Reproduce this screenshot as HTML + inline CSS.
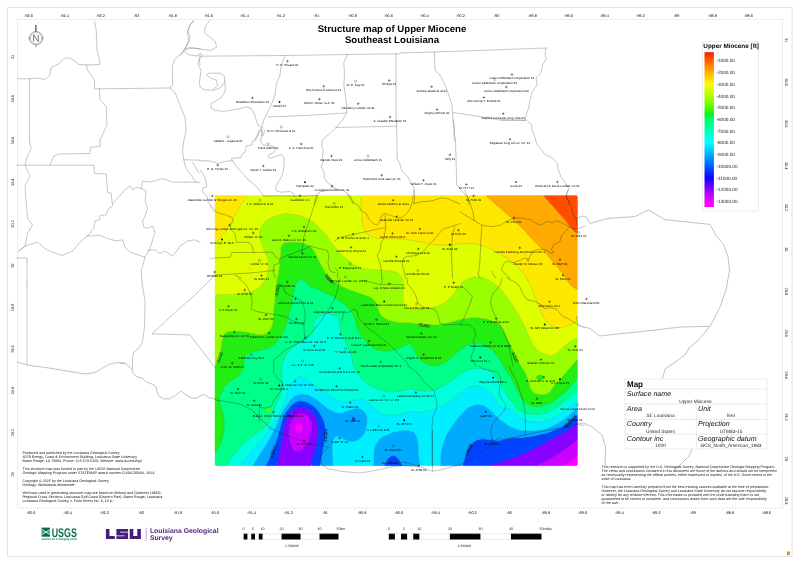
<!DOCTYPE html>
<html lang="en"><head><meta charset="utf-8"><title>Structure map of Upper Miocene - Southeast Louisiana</title>
<style>html,body{margin:0;padding:0;background:#fff}body{width:800px;height:565px;overflow:hidden}svg{display:block}text{font-family:"Liberation Sans",Arial,Helvetica,sans-serif;fill:#111;text-rendering:geometricPrecision}.tk{font-size:3.8px;fill:#111;text-anchor:middle}.wl{font-size:3.05px;fill:#000;text-anchor:middle}.pl{fill:none;stroke:#4a4a4a;stroke-width:.45;stroke-linejoin:round;stroke-linecap:round}.sm{font-size:3.63px;fill:#111}.lg{font-size:4.7px;fill:#222}.th{font-size:7.15px;font-style:italic;fill:#111}.tv{font-size:4.8px;fill:#222;text-anchor:middle}.sb{font-size:3.6px;fill:#222;text-anchor:middle}</style></head><body>
<svg width="800" height="565" viewBox="0 0 800 565">
<rect x="7.5" y="7.5" width="784.5" height="549" fill="none" stroke="#e4e4e4" stroke-width="1"/>
<rect x="17.5" y="19.5" width="765" height="488.5" fill="none" stroke="#d0d0d0" stroke-width=".7" stroke-dasharray="1 1"/>
<g id="parish-under" class="pl" style="stroke:#808080">
<path d="M94.5 21.2L96.2 30L97 50L100 61.2L100 64.5L86.2 65L78.8 64.5L75 61.2L71.2 58.8L66.2 57.5L62.5 60L58.8 63.8L51.2 67.5L50 75L45 79.5L37.5 78L30 78.8L17.5 78.8"/>
<path d="M86.2 65L87.5 70L94.5 80L94.5 88.8L100 88.8L170 88"/>
<path d="M99.5 88.8L100 100L106.2 106.2L107 125L100 140L100 141"/>
<path d="M29.5 78.8L29.5 141"/>
<path d="M193.8 21.2L190 25L187.5 32.5L188.8 41.2L185 48.8L181.2 53.8L175 58.8L172.5 65L172.5 85L170 88L175 92.5L180 105L185 117.5L186.2 130L183.8 141"/>
<path d="M185 48.8L190 47.5L200 48.8"/>
<path d="M198.8 55L200 65"/>
<path d="M200 56.2L285 55.5L347.5 54.5L400 53.8"/>
<path d="M285 55.5L281.2 65L280 75L276.2 85L275 95L271.2 105L267.5 112.5L263.8 120L261.2 128.8L262.5 136.2L265 130"/>
<path d="M267.5 117L305 115.5L346.2 113"/>
<path d="M347.5 54.5L343.8 62.5L344.5 75L343.8 85L346.2 100L347 113L342.5 120L336.2 127.5"/>
<path d="M336.2 127.5L396.5 126.2"/>
<path d="M395.8 53.8L396.2 121.2"/>
<path d="M261.2 128.8L255 141"/>
<path d="M400 53L435 52L546.2 48"/>
<path d="M434.5 52L435 70L440 75L445 85L448.8 95L452 105L452.5 112.5L453.8 130L454.5 141"/>
<path d="M452.5 112.5L482.5 117L500 120L525 120.5"/>
<path d="M546.2 48L545 53.8L546.2 58.8L542.5 65L541.2 72.5L536.2 77.5L537 85L532.5 91.2L530 100L528.8 107.5L526.2 115L525 120.5"/>
<path d="M500 120L526.2 120L531.5 124.5L532.2 130.5L535.2 138L536.7 144L541.2 149.2L545 154.5L551.7 157.5L557 162.7L558.5 171L561.5 177.7L566 183.7L569 189L566 195L567.5 199.5L569 204"/>
<path d="M29.5 141L31.2 148.5L27.5 156L25 164.8L30 176L25 186L26.2 203.5L27.5 218.5L32.5 224.8L27.5 233.5L25 246L18.8 251"/>
<path d="M17 165.2L93.8 165.2L94.5 173.5L106.2 174L107.5 192.2L111.2 193.5L112.5 206L108.8 208.5L106.2 214.8L100 215.5L99.5 219.8L95 221L93.8 228.5L87.5 236"/>
<path d="M50 164.8L53.8 156L58.8 154L90 153.5L90.5 147.2L100 146.5L100 141"/>
<path d="M18.8 251L25 246L37.5 242.2L45 248.5L52.5 252.2L62.5 255.5L72.5 251L80 242.2L87.5 236"/>
<path d="M87.5 236L100 235.5L107.5 238.5L116.2 241L122.5 239.8L125 247.2L130 252.2L145 257.2"/>
<path d="M112.5 203.5L125 189.8L130 186L132.5 189.8L136.2 187.2L141.2 188.5"/>
<path d="M141.2 188.5L142.5 181L150 182.2L162.5 178.5L172.5 182.2L195 182.2L200 182.2"/>
<path d="M141.2 188.5L146.2 191L145 201L147.5 208.5L145 216L142.5 221L143.8 227.2L147.5 228.5L152.5 226L155 232.2L150 248.5L145 257.2L141.2 271L142 282"/>
<path d="M147.5 250.2L155 249.8L160 253.5L165 251L172.5 256L175 253.5L180 246L187.5 241L195 239.8L200 242.2"/>
<path d="M183.8 141L182.5 151L183.8 159.8L200 160.2"/>
<path d="M183.8 159.8L186.2 168.5L192.5 177.2L196.2 182.2"/>
<path d="M192.5 162.2L197.5 171L200 173.5"/>
<path d="M17 258L27 258L27 282"/>
<path d="M27 282L27 364.5"/>
<path d="M142 282L145 302L144.5 327L142.5 342L138.8 348.2L133.8 352L132.5 357L132.5 369.5"/>
<path d="M215 275L195 295L175 312.5L152 333.8L190 335L215 367.5"/>
<path d="M207.5 275.8L215 275L250 273L275 270.5"/>
<path d="M259.2 130L257 136L252.5 142L251.7 145L246.5 145.7L245 152.5L242 154L241.2 157.7L231.5 158.2L232.2 160.7"/>
<path d="M232.2 160.7L224 161.5L218 163.7L215 162.2L207.5 160.7L200 161"/>
<path d="M232.2 160.7L236 166L242 172.7L248 179.5L252.5 183.2L257 187L261.5 193L263.7 196L278 195.7L294.5 196L305 196L317 195.4"/>
<path d="M262.2 130L261.5 136L260.7 141.2L263 145L267.5 145.7L273.5 146.5L275.7 149.5L273.5 152.5L269 154.7L267.5 157L270.5 158.5L278 155.5L281.7 154.7L284 157.7L284 167.5L281.7 176.5L278 182.5L275.7 187L276.5 190.7L281 192.2L290 191.5L293.7 193.7L294.5 196.7"/>
<path d="M200 169.7L203 173.5L206 181L206.7 187L203 187.7L202.2 191.5L206.7 196L208.2 202L212 206.5L215 209.5"/>
<path d="M336.1 127.5L330 133.5L322.5 139.5L321.7 144.7L323.2 150L322.5 156L323.2 162L321 166.5L324 172.5L324.7 178.5L327.7 183L332.2 186L336 189L343.5 190.5L348 195L351.7 201L353.2 204"/>
<path d="M396.7 120L396.7 126.3L397.2 159L399.7 163.5L402 171L408 177L411 183L414 187.5L414.7 195L414 204"/>
<path d="M314.2 204L316.5 195L321 191.2L330 190.5L332.2 186"/>
<path d="M453.2 120L454.7 127.5L454.3 135L455.5 139.5L456.2 165L456.7 184.5L460 189L464.5 193.5L468.2 198L469 204"/>
<path d="M214.5 399.5L225 401.6L240 404L252 410L261 419L270 428L282 434L300 440L312 444.5L321 445.4L328.5 447.5L324 450.5L321 456.5L321.6 464L327 468.5L342 471.5L360 473L378 470L393 466.4L402 465.5L420 467"/>
<path d="M395 463.8L402.5 462L410 463.8L418.8 466.2L425 468.8L432.5 471.2L440 470L450 467.5L462.5 463.8L475 457.5L485 450L492.5 442.5L500 437.5"/>
<path d="M432.5 430L432.5 471.2"/>
<path d="M317.8 195.5L313.1 208.8L308.4 222.8L303.8 236.9L302.2 250.2L301.4 252.5"/>
<path d="M301.4 250.2L291.2 254.1L280.3 258L278.8 263.4L274.1 265L273.3 271.2L275.6 278"/>
<path d="M302.2 250.2L310 246.2L319.4 248.6L327.2 250.2L328.8 255.6L328 263.4L330.3 271.2L335 272.8"/>
<path d="M210 205.6L213.1 210.3L219.4 213.4L225.6 215L231.9 217.3L233.4 221.2L230.3 225.2L231.9 230.6L235 233.8L235.8 238.4L236.6 242.3L249.1 242.3L252.2 246.2L253.8 252.5L272.5 252.2L275.6 257.2L278.8 258.8"/>
<path d="M210 258.8L214.7 258L230.3 257.2L231.9 252.5L253.8 252.5"/>
<path d="M235 275.2L241.2 278"/>
<path d="M347.5 193.1L350.6 197L353.8 202.5L358.4 205.6L360.8 210.3L366.2 213.4L369.4 219.7L373.3 223.6L377.2 225.2L380.3 219.7L381.9 215L385 213.4L388.9 215L394.4 216.6L397.5 218.1L402.2 217.3L406.9 213.4L410 208.8L412.3 202.5L413.1 196.2L413.9 190"/>
<path d="M385 215L385.8 227.5L384.2 236.9L381.1 243.1L380.3 249.4L377.2 255.6L379.5 261.9L381.1 268.1L381.9 278"/>
<path d="M335 240.8L341.2 236.9L353 234.5L385 227.5"/>
<path d="M413.9 203.3L422.5 201.7L431.9 200.9L441.2 197.8L447.5 198.6L460 204.1"/>
<path d="M460 223.6L450.6 226.7L442.8 229.1L436.6 236.9L428.8 244.7L422.5 252.5L416.2 255.6L406.9 256.4L403 258.8L402.2 265L403.8 269.7L405.3 278"/>
<path d="M454.5 226.7L452.2 236.9L451.4 252.5L452.2 268.1L452.5 278"/>
<path d="M335 268.1L338.1 271.2L337.3 278"/>
<path d="M464.7 190L467 196.2L470.9 205.6L473.3 213.4L474.1 220.5"/>
<path d="M460 211.9L467.8 216.6L474.1 220.5"/>
<path d="M474.1 220.5L481.9 225.2L491.2 226.7L500.6 225.2L506.9 221.2L513.9 218.1L522.5 218.1L530.3 219.7L536.6 223.6L541.2 225.2L547.5 221.2L552.2 222.8L556.9 220.5L563.1 223.6L569.4 226.7L575.6 229.1L578.8 228.3L585 225.9"/>
<path d="M569.4 226.7L566.2 230.6L561.6 235.3L560 241.6L553.8 244.7L551.4 249.4L553.8 252.5L550.6 253.3L545.2 249.4L538.1 249.4L533.4 250.9L528.8 258.8L524.1 258L520.2 260.3L513.1 262.7L506.9 261.1L503.8 263.4L501.4 269.7L505.3 274.4L510 278"/>
<path d="M481.9 225.2L481.1 236.9L480.3 252.5L479.5 268.1L478 274.4L480.3 278"/>
<path d="M567.8 190L566.2 196.2L569.4 201.7L571.7 207.2L572.5 213.4L576.4 219.7L577.2 225.9"/>
<path d="M492 271.2L493.6 275.2L495.9 278"/>
<path d="M238.1 278L245.9 284.2L250.6 293.6L252.2 301.4L251.4 309.2L256.9 311.6L266.2 313.2L275.6 314.7L285 316.3L291.2 320.2L297.5 322.5L303.8 324.9L304.5 337.4L303.8 340.5"/>
<path d="M278.8 284.2L283.4 285.8L285 292.1L289.7 295.2L297.5 298.3L302.2 301.4L304.5 309.2L305.3 315.5L303.8 324.9"/>
<path d="M335 298.3L328.8 309.2L319.4 323.3L310 334.2L303.8 340.5L297.5 343.6L291.2 346.8L283.4 351.4L278.8 356.1L274.1 359.2L273.3 366"/>
<path d="M325.6 278L330.3 281.1L335 284.2"/>
<path d="M361.6 280.3L366.2 281.1L372.5 282.7L380.3 284.6L381.9 282.7L381.9 278"/>
<path d="M380.3 284.6L389.7 284.2L403.8 285"/>
<path d="M406.9 278L407.7 284.2L413.1 290.5L416.2 296.8L417.8 303L422.5 306.9L428.8 308.5L435 309.2L438.1 315.5L439.7 322.5L444.4 324.9L460 324.1"/>
<path d="M353.8 309.2L356.9 310.8L358.4 317.1L363.1 323.3L367.8 328L374.1 331.9L380.3 337.4L386.6 342.1L392.8 347.5L397.5 353L402.2 357.7L406.9 362.4L408.4 366"/>
<path d="M335 298.3L338.1 287.4L339.7 278"/>
<path d="M342 320.2L343.6 313.2L350.6 311.6L353.8 309.2"/>
<path d="M463.9 287.4L472.5 296.8L467.8 309.2L463.1 320.2L460 324.9"/>
<path d="M502.2 278L499.8 285.8L492.8 293.6L490.5 301.4L492 309.2L495.9 317.1L499.1 323.3L503 329.6L505.3 335.8L508.4 343.6L510 351.4L511.6 359.2L513.1 366"/>
<path d="M506.9 278L513.1 281.1L517.8 284.2L520.2 287.4L522.5 293.6L527.2 299.9L535 301.4L541.2 304.6L544.4 308.5L550.6 307.7L556.9 309.2L561.6 315.5L567.8 318.6L575.6 323.3L585 328"/>
<path d="M460 324.9L469.4 324.9L474.8 329.6L475.6 335.8L473.3 340.5L474.8 346.8L472.5 353L470.9 357.7L474.1 362.4L475.6 366"/>
<path d="M274.1 366L273.3 372.2L277.2 378.5L282.7 382.4L281.9 389.4L277.2 395.7L274.1 400.4L270.9 406.6L265.5 408.2L260 407.4L259.2 404.3"/>
<path d="M259.2 404.3L259.2 422.2"/>
<path d="M408.4 366L414.7 370.7L420.2 376.2L424.1 381.6L428.8 386.3L434.2 391L435.8 397.2L437.3 405.1L435 412.9L432.7 417.6L431.9 428.5L432.2 454L432.2 466"/>
<path d="M478.8 366L483.4 369.1L491.2 370.7L497.5 372.2L500.6 378.5L499.8 386.3L499.1 394.1L502.2 400.4L506.1 405.1L503.8 411.3L497.5 417.6L492.8 423.8L490.5 431.6L492 439.4"/>
<path d="M509.2 366L511.6 372.2L516.2 380.1L519.4 389.4L522.5 398.8L524.8 408.2L525.3 420.7L525.6 434.8"/>
<path d="M500 440.1L511.6 437.9L525.6 434.8L541.2 431.6L556.9 428.5L569.4 426.2L577.2 424.6L585 425.4"/>
<path d="M193.3 20.5L190 25L187.7 30.5L190 37.1L187.7 43.8L184.4 49.3L182.2 53.7L180 54.8"/>
<path d="M209.9 20.5L205.5 26.1L204.4 32.7L209.9 37.1L215.4 41.6L216.5 47.1L211 50.4L202.1 49.3L193.3 48.2L186.6 49.3L184.4 51.5L188.9 54.8L196.6 56L201 53.7L202.1 56L198.8 60.4L197.7 63.7L201 70.3L199.5 81.4L199.9 87L204.4 89.8L213.2 90.3L221 87.6L224.9 81.4L224.3 75.9L219.8 73.2L208.8 73.2L206.6 75.2L209.9 77.7L216.5 80.3L217.6 85.8L213.2 89.2"/>
<path d="M224.9 81.4L225.4 90.3L222.1 96.9L215.4 101.3L211 103.6L211 108L215.4 110.6L224.3 111.3L237.6 109.1L246.4 106.9L250.8 108L254.2 113.5L256.4 120.2L258.6 125.7L263 127.9"/>
</g>
<g id="coast-under" class="pl" style="stroke:#a8a8a8;stroke-width:.7">
<path d="M576.5 218.4L582.5 216L587 217.5L590 223.5L608 218.4L635 216.6L648.5 210L665 219.6L710 224.4L716 235.5L723.5 244.5L728 256.5L729.5 270L726.5 288L720.5 306L713 321L707 330L698 340.5L689 348"/>
<path d="M576.5 316.5L578 325.5L590 328.5L599 336L656 330L680 327L708.5 326.4"/>
<path d="M689 348L686 354L674 363L665 369L662.6 378.6"/>
<path d="M692 449.4L689 456L680 465L674 471"/>
<path d="M576.5 423.6L584 423L593 427.5L602 435L605.6 447L605 465"/>
<path d="M120 363.2L125.2 363.2L132 369.2L132.7 372.2L136.5 376.7L142.5 378.2L146.2 382L152.2 384.2L156 386.5L156.7 391L159 396.2L163.5 398.8L169.5 398.8L175.5 395.5L180.7 391L186 394.7L192 398.2L196.5 398.2L201.7 395.2L204.7 394.7L209.2 397.7L215.2 398.8"/>
<path d="M17 362L27 365L50 368.2L70 371.5L85 374L95 372.5L102.5 368.2L110 364L117.5 362.5L125 363.2"/>
</g>
<g id="field" opacity="1">
<path d="M298.1 423.4L299.1 423L301 423.7L301.9 424.7L302.5 425.7L302.8 426.7L302.9 428.7L302.7 429.7L302.2 430.7L301.6 431.7L300.5 432.7L299.1 433.2L298.1 433L297.1 432.2L296.1 430.8L295.6 429.7L295.4 428.7L295.6 426.7L296 425.7L296.7 424.7L297.7 423.7ZM576.5 457.2L577.5 456.7L577.5 458.7L577.5 460.7L577.5 462.7L577.5 464.7L576.5 465.7L574.5 465.7L572.5 465.7L570.5 465.7L568.5 465.7L566.5 465.7L564.5 465.7L564.7 464.7L565.5 464.2L566.3 463.7L567.5 463L568.5 462.3L569.5 461.7L570.5 461.1L571.5 460.5L572.5 459.8L573.5 459.1L574.5 458.5L575.5 457.8Z" fill="#FF00FF" stroke="#FF00FF" stroke-width=".4" fill-rule="evenodd"/>
<path d="M299.1 413.6L300.1 413.4L302.1 413.5L303.1 413.7L304.1 414.1L305.1 414.6L306.1 415.2L307.1 416.1L307.7 416.7L308.7 417.7L309.5 418.7L310.1 419.4L311 420.7L311.5 421.7L311.8 422.7L312 424.7L311.9 426.7L311.8 428.7L311.7 430.7L311.3 432.7L311 433.7L310.7 434.7L310.4 435.7L310 436.7L309.7 437.7L309.3 438.7L309 439.7L308.5 440.7L308.1 441.6L307.6 442.7L306.9 443.7L306.2 444.7L305.4 445.7L304.7 446.7L304.1 447.4L303.1 448.7L302.2 449.7L301.1 450.5L300.1 451.1L299.1 451.5L298.1 451.9L297.1 452.1L295.6 451.7L294.6 450.7L293.8 449.7L293.1 448.9L292.3 447.7L291.7 446.7L291.2 445.7L290.8 444.7L290.5 443.7L290.2 442.7L290 441.7L289.7 440.7L289.5 439.7L289.2 438.7L289 437.7L288.7 435.7L288.7 433.7L288.8 431.7L288.9 429.7L289 427.7L289.4 425.7L289.7 424.7L290 423.7L290.4 422.7L290.9 421.7L291.4 420.7L291.9 419.7L292.5 418.7L293.1 417.8L294 416.7L295 415.7L296.1 415L297.1 414.5L298.1 414ZM297.7 423.7L296.7 424.7L296.1 425.5L295.6 426.7L295.4 427.7L295.6 429.7L296 430.7L296.7 431.7L297.7 432.7L299.1 433.2L300.1 433L301.1 432.2L302.1 430.9L302.7 429.7L302.9 428.7L302.8 426.7L302.5 425.7L301.9 424.7L301.1 423.8L300.1 423.2L298.1 423.4ZM577.5 439.5L577.5 441.7L577.5 443.7L577.5 445.7L577.5 447.7L577.5 449.7L577.5 451.7L577.5 453.7L577.5 455.7L576.5 457.2L575.7 457.7L574.5 458.5L573.5 459.1L572.6 459.7L571.5 460.5L570.5 461.1L569.5 461.7L568.5 462.3L567.5 463L566.5 463.6L565.5 464.2L564.7 464.7L563.7 465.7L562.5 465.7L560.5 465.7L558.5 465.7L556.5 465.7L554.5 465.7L552.5 465.7L550.5 465.7L548.5 465.7L546.5 465.7L544.5 465.7L542.5 465.7L540.4 465.7L538.4 465.7L536.4 465.7L537.4 465L538.4 464.4L539.4 463.9L540.4 463.5L541.5 463L542.5 462.6L543.5 462.1L544.4 461.7L545.5 461.2L546.5 460.8L547.5 460.3L548.5 459.7L549.5 459.2L550.3 458.7L551.5 458L552.5 457.4L553.5 456.8L554.5 456.2L555.3 455.7L556.5 455L557.5 454.4L558.5 453.8L559.5 453.1L560.5 452.5L561.5 451.8L562.5 451L563.5 450.3L564.3 449.7L565.5 448.8L566.5 448.1L567.5 447.3L568.3 446.7L569.5 445.8L570.5 445L571.5 444.2L572.5 443.4L573.3 442.7L574.5 441.7L575.5 440.9L576.5 440.1Z" fill="#CC00FF" stroke="#CC00FF" stroke-width=".4" fill-rule="evenodd"/>
<path d="M298.1 407.4L299.1 407.1L301.1 407L303.1 407.3L304.1 407.6L305.1 407.9L306.1 408.3L307.1 408.8L308.1 409.4L309.1 410L310.1 410.7L311.1 411.4L312.1 412.4L313.1 413.6L313.9 414.7L314.6 415.7L315.1 416.6L315.7 417.7L316.1 418.6L316.5 419.7L316.9 420.7L317.1 421.7L317.4 422.7L317.6 423.7L317.8 424.7L318 425.7L318.3 427.7L318.5 429.7L318.5 431.7L318.4 433.7L318.2 435.7L317.8 437.7L317.4 439.7L317.1 441.1L316.8 442.7L316.6 443.7L316.4 444.7L316.2 445.7L315.9 446.7L315.6 447.7L315.3 448.7L315 449.7L314.7 450.7L314.4 451.7L314.1 452.7L313.8 453.7L313.5 454.7L313.3 455.7L313 456.7L312.8 457.7L312.6 458.7L312.4 459.7L312.2 460.7L311.9 461.7L311.7 462.7L311.5 463.7L311.3 464.7L311.1 465.7L309.1 465.7L307.1 465.7L305.1 465.7L303.1 465.7L301.1 465.7L299.1 465.7L297.1 465.7L295.1 465.7L293.1 465.7L291.1 465.7L289.1 465.7L287.1 465.7L285.1 465.7L283.1 465.7L281.1 465.7L279.1 465.7L277.2 465.7L277.4 463.7L277.7 461.7L278.1 459.7L278.4 457.7L278.8 455.7L279.1 454L279.4 452.7L279.7 450.7L280.1 448.9L280.3 447.7L280.5 446.7L280.7 445.7L281.1 443.9L281.4 442.7L281.6 441.7L281.9 439.7L282.3 437.7L282.7 435.7L283.1 433.8L283.3 432.7L283.5 431.7L283.9 429.7L284.3 427.7L284.7 425.7L284.9 424.7L285.1 423.7L285.4 422.7L285.7 421.7L286 420.7L286.4 419.7L286.8 418.7L287.3 417.7L287.8 416.7L288.3 415.7L288.8 414.7L289.4 413.7L290 412.7L290.9 411.7L292 410.7L293.1 409.9L294.1 409.3L295.1 408.7L296.1 408.2L297.1 407.7ZM298.9 413.7L297.1 414.5L296.1 415L295.1 415.6L294.1 416.5L293.2 417.7L292.5 418.7L291.9 419.7L291.4 420.7L290.9 421.7L290.4 422.7L290 423.7L289.7 424.7L289.4 425.7L289.2 426.7L289 428.7L288.9 430.7L288.8 432.7L288.7 434.7L288.8 436.7L289.1 438.3L289.5 439.7L289.7 440.7L290 441.7L290.2 442.7L290.5 443.7L290.8 444.7L291.2 445.7L291.7 446.7L292.3 447.7L293 448.7L293.8 449.7L294.6 450.7L295.1 451.4L296.1 452L298.1 451.9L299.1 451.5L300.1 451.1L301.1 450.5L302.1 449.7L303.1 448.7L303.9 447.7L304.7 446.7L305.4 445.7L306.1 444.8L306.9 443.7L307.6 442.7L308.1 441.7L308.5 440.7L309 439.7L309.3 438.7L309.7 437.7L310 436.7L310.4 435.7L310.7 434.7L311 433.7L311.3 432.7L311.5 431.7L311.8 429.7L311.9 427.7L311.9 425.7L311.9 423.7L311.5 421.7L311.1 420.8L310.3 419.7L309.5 418.7L308.7 417.7L307.7 416.7L307.1 416.1L306.1 415.2L305.3 414.7L304.1 414.1L303.1 413.7L302.1 413.5L300.1 413.4L299.1 413.6ZM576.5 424.2L577.5 423.7L577.5 425.7L577.5 427.7L577.5 429.7L577.5 431.7L577.5 433.7L577.5 435.7L577.5 437.7L577.5 439.5L576.5 440.1L575.7 440.7L574.5 441.7L573.5 442.5L572.5 443.4L571.5 444.2L570.5 445L569.6 445.7L568.5 446.6L567.5 447.3L566.5 448.1L565.6 448.7L564.5 449.6L563.5 450.3L562.5 451L561.6 451.7L560.5 452.5L559.5 453.1L558.6 453.7L557.5 454.4L556.5 455L555.5 455.6L554.5 456.2L553.6 456.7L552.5 457.4L551.5 458L550.5 458.6L549.5 459.2L548.6 459.7L547.5 460.3L546.6 460.7L545.5 461.2L544.5 461.7L543.5 462.1L542.5 462.6L541.5 463L540.4 463.5L539.4 463.9L538.4 464.4L537.4 465L536.4 465.7L534.4 465.7L532.4 465.7L530.4 465.7L528.4 465.7L526.4 465.7L524.4 465.7L522.4 465.7L520.4 465.7L518.4 465.7L516.4 465.7L514.4 465.7L512.4 465.7L510.4 465.7L508.4 465.7L506.4 465.7L504.4 465.7L502.4 465.7L500.4 465.7L498.4 465.7L496.4 465.7L494.4 465.7L492.4 465.7L490.4 465.7L489.2 465.7L490.4 465.1L491.4 464.6L492.4 464.3L493.4 464L494.4 463.7L495.4 463.4L496.4 463.1L497.4 462.8L498.4 462.4L499.4 462.1L500.4 461.8L501.4 461.5L502.4 461.2L503.4 460.9L504.4 460.6L505.4 460.3L506.4 460L507.4 459.7L508.4 459.4L509.4 459.1L510.4 458.7L511.4 458.4L512.4 458L513.4 457.6L514.4 457.2L515.4 456.8L516.4 456.4L517.4 456L518.4 455.6L519.4 455.2L520.4 454.8L521.4 454.4L522.4 453.9L523.4 453.5L524.4 453.1L525.3 452.7L526.4 452.2L527.4 451.7L528.4 451.2L529.4 450.8L530.4 450.3L531.4 449.9L532.4 449.4L533.4 449L534.4 448.5L535.4 448L536.4 447.5L537.4 446.9L538.4 446.4L539.4 445.8L540.4 445.3L541.5 444.7L542.5 444.2L543.3 443.7L544.5 443L545.5 442.5L546.5 441.9L547.5 441.4L548.5 440.8L549.5 440.3L550.5 439.8L551.5 439.3L552.5 438.7L553.5 438.2L554.5 437.7L555.5 437.2L556.4 436.7L557.5 436.1L558.3 435.7L559.5 435.1L560.5 434.5L561.5 433.9L562.5 433.3L563.4 432.7L564.5 432L565.5 431.4L566.5 430.7L567.5 430.1L568.5 429.5L569.5 428.8L570.5 428.2L571.2 427.7L572.5 426.8L573.5 426.2L574.2 425.7L575.5 424.8Z" fill="#8800FF" stroke="#8800FF" stroke-width=".4" fill-rule="evenodd"/>
<path d="M297.1 401.6L298.1 401.3L299.1 401.1L301.1 400.9L303.1 401.2L304.1 401.4L305.1 401.6L306.1 401.9L307.1 402.2L308.1 402.6L309.1 403.2L310 403.7L311.1 404.3L312.1 404.9L313.1 405.6L314.1 406.4L315.1 407.3L316.1 408.4L317.1 409.6L318.1 410.7L318.8 411.7L319.5 412.7L320.1 413.7L320.7 414.7L321.3 415.7L321.9 416.7L322.4 417.7L322.9 418.7L323.3 419.7L323.7 420.7L324 421.7L324.3 422.7L324.6 423.7L324.8 424.7L325.1 425.7L325.4 427.7L325.5 429.7L325.6 431.7L325.4 433.7L325.2 435.7L324.9 437.7L324.6 439.7L324.3 441.7L324.2 442.8L323.9 444.7L323.5 446.7L323.1 448.6L322.9 449.7L322.5 451.7L322.3 452.7L322 454.7L321.6 456.7L321.3 458.7L321 460.7L320.7 462.7L320.4 464.7L320.1 465.7L318.1 465.7L316.1 465.7L314.1 465.7L312.1 465.7L311.3 464.7L311.5 463.7L311.7 462.7L311.9 461.7L312.2 460.7L312.4 459.7L312.6 458.7L312.8 457.7L313 456.7L313.3 455.7L313.5 454.7L313.8 453.7L314.1 452.7L314.4 451.7L314.7 450.7L315 449.7L315.3 448.7L315.6 447.7L315.9 446.7L316.2 445.7L316.4 444.7L316.6 443.7L316.8 442.7L317 441.7L317.2 440.7L317.6 438.7L318 436.7L318.3 434.7L318.5 432.7L318.5 430.7L318.4 428.7L318.2 426.7L317.8 424.7L317.6 423.7L317.4 422.7L317.1 421.7L316.9 420.7L316.5 419.7L316.2 418.7L315.7 417.7L315.2 416.7L314.6 415.7L313.9 414.7L313.2 413.7L312.4 412.7L311.4 411.7L310.1 410.7L309.1 410L308.1 409.4L307.1 408.8L306.1 408.3L305.1 407.9L304.1 407.6L303.1 407.3L302.1 407.1L300.1 407L298.1 407.4L297.1 407.7L296.1 408.2L295.1 408.7L294.1 409.3L293.1 409.9L292.1 410.6L291.1 411.5L290.1 412.6L289.4 413.7L288.8 414.7L288.3 415.7L287.8 416.7L287.3 417.7L286.8 418.7L286.4 419.7L286 420.7L285.7 421.7L285.4 422.7L285.1 423.7L284.9 424.7L284.7 425.7L284.5 426.7L284.1 428.7L283.7 430.7L283.3 432.7L283.1 433.7L282.7 435.7L282.3 437.7L282.1 438.7L281.8 440.7L281.4 442.7L281.1 443.7L280.9 444.7L280.5 446.7L280.3 447.7L280.1 448.7L279.7 450.7L279.4 452.7L279.1 454L278.8 455.7L278.4 457.7L278.1 459.5L277.9 460.7L277.6 462.7L277.3 464.7L277.1 465.7L275.1 465.7L273.1 465.7L271.1 465.7L269.1 465.7L267.1 465.7L265.8 465.7L266.2 464.7L266.7 463.7L267.2 462.7L267.7 461.7L268.2 460.7L268.7 459.7L269.2 458.7L269.6 457.7L270.1 456.8L270.5 455.7L271 454.7L271.4 453.7L271.9 452.7L272.3 451.7L272.7 450.7L273.1 449.8L273.5 448.7L273.9 447.7L274.2 446.7L274.6 445.7L275 444.7L275.3 443.7L275.7 442.7L276.1 441.7L276.4 440.7L276.7 439.7L277.1 438.7L277.4 437.7L277.6 436.7L277.9 435.7L278.2 434.7L278.5 433.7L278.8 432.7L279 431.7L279.3 430.7L279.6 429.7L279.9 428.7L280.2 427.7L280.4 426.7L280.7 425.7L281 424.7L281.2 423.7L281.5 422.7L281.8 421.7L282.1 420.7L282.4 419.7L282.7 418.7L283 417.7L283.5 416.7L284 415.7L284.5 414.7L285.1 413.7L285.7 412.7L286.3 411.7L286.9 410.7L287.7 409.7L288.5 408.7L289.1 407.9L290.1 406.8L291 405.7L291.9 404.7L293 403.7L294.1 402.9L295.1 402.4L296.1 402ZM576.5 415.4L577.5 414.7L577.5 416.7L577.5 418.7L577.5 420.7L577.5 422.7L576.5 424.2L575.7 424.7L574.5 425.5L573.5 426.2L572.7 426.7L571.5 427.5L570.5 428.2L569.7 428.7L568.5 429.5L567.5 430.1L566.6 430.7L565.5 431.4L564.5 432L563.5 432.7L562.5 433.3L561.5 433.9L560.5 434.5L559.5 435.1L558.5 435.6L557.5 436.1L556.5 436.7L555.5 437.2L554.5 437.7L553.5 438.2L552.6 438.7L551.5 439.3L550.6 439.7L549.5 440.3L548.5 440.8L547.5 441.4L546.5 441.9L545.5 442.5L544.5 443L543.5 443.6L542.5 444.2L541.5 444.7L540.4 445.3L539.4 445.8L538.4 446.4L537.4 446.9L536.4 447.5L535.4 448L534.4 448.5L533.4 449L532.4 449.4L531.4 449.9L530.4 450.3L529.4 450.8L528.4 451.2L527.5 451.7L526.4 452.2L525.4 452.6L524.4 453.1L523.4 453.5L522.4 453.9L521.4 454.4L520.4 454.8L519.4 455.2L518.4 455.6L517.4 456L516.4 456.4L515.4 456.8L514.4 457.2L513.4 457.6L512.4 458L511.4 458.4L510.5 458.7L509.4 459.1L508.4 459.4L507.4 459.7L506.4 460L505.4 460.3L504.4 460.6L503.4 460.9L502.4 461.2L501.4 461.5L500.4 461.8L499.4 462.1L498.4 462.4L497.4 462.8L496.4 463.1L495.4 463.4L494.4 463.7L493.4 464L492.4 464.3L491.4 464.6L490.4 465.1L489.4 465.6L487.4 465.7L485.4 465.7L483.4 465.7L481.4 465.7L479.4 465.7L477.4 465.7L475.4 465.7L473.4 465.7L471.4 465.7L469.4 465.7L467.3 465.7L465.3 465.7L463.3 465.7L462.7 464.7L463 463.7L463.3 462.7L463.6 461.7L463.9 460.7L464.2 459.7L464.5 458.7L464.8 457.7L465.2 456.7L465.6 455.7L466 454.7L466.3 453.7L466.8 452.7L467.2 451.7L467.7 450.7L468.1 449.7L468.6 448.7L469.1 447.7L469.8 446.7L470.4 445.9L471.2 444.7L472 443.7L472.8 442.7L473.8 441.7L475.3 440.7L476.4 440.3L477.4 440L478.3 439.7L479.4 439.4L480.4 439.2L482.4 439L484.4 439.1L486.4 439.4L488.4 439.6L490.4 439.9L492.4 440.1L494.4 440.2L496.4 440.4L498.4 440.5L500.4 440.4L502.4 440.1L503.4 439.9L504.4 439.6L505.4 439.4L506.4 439.1L507.4 438.9L508.4 438.6L509.4 438.4L511.4 438.1L513.4 438L515.4 438L517.4 437.9L519.4 437.8L521.4 437.7L523.4 437.6L525.4 437.3L527.4 437L529.4 436.7L530.4 436.5L532.4 436.3L534.4 435.9L535.4 435.7L536.4 435.5L537.4 435.3L538.4 435.1L539.4 434.8L540.4 434.6L541.5 434.3L542.5 434.1L543.5 433.8L544.5 433.6L545.5 433.4L546.5 433.1L547.5 432.8L548.5 432.5L549.5 432.1L550.5 431.7L551.5 431.3L552.5 430.9L553.5 430.5L554.5 430.1L555.4 429.7L556.5 429.3L557.5 428.9L558.5 428.4L559.5 428L560.5 427.5L561.5 426.9L562.5 426.3L563.5 425.7L564.5 425L565.5 424.4L566.5 423.7L567.5 423.1L568.5 422.4L569.5 421.7L570.5 420.9L571.5 420.1L572.5 419.2L573.5 418.2L574.5 417.3L575.5 416.3L576.1 415.7ZM392.2 455.5L394.2 455.5L395.2 456L396.2 456.7L397.3 457.6L398.2 458.7L399 459.7L399.7 460.7L400.3 461.6L400.9 462.7L401.6 463.7L402.1 464.7L402.4 465.7L400.3 465.7L398.3 465.7L396.2 465.7L394.2 465.7L392.2 465.7L390.2 465.7L388.2 465.7L386.2 465.7L384.3 465.7L384.6 464.7L385 463.7L385.6 462.7L386.1 461.7L386.7 460.7L387.2 459.8L388.1 458.7L389.1 457.7L390.2 456.7L391.2 456Z" fill="#0044FF" stroke="#0044FF" stroke-width=".4" fill-rule="evenodd"/>
<path d="M299.1 394.5L300.1 394.3L302.1 394.2L304.1 394.4L305.6 394.7L307.1 395L308.1 395.3L309.1 395.6L310.1 396L311.1 396.5L312.1 397L313.1 397.5L314.1 398L315.1 398.6L316.1 399.2L317.1 399.9L318.1 400.7L319.1 401.5L320.1 402.4L321.1 403.2L322.1 404L322.9 404.7L324.1 405.7L325.2 406.6L326.2 407.4L327.2 408.2L327.9 408.7L329.2 409.5L330.2 410.1L331.2 410.6L332.2 411.1L333.2 411.6L334.2 412L335.2 412.4L336.2 412.7L337.2 412.9L339.2 413.3L341.2 413.1L342.2 412.9L343.2 412.5L344.2 412.1L345.2 411.8L346.2 411.4L347.2 411.1L348.2 410.7L349.2 410.4L350.2 410.1L351.2 409.8L352.2 409.5L353.2 409.2L354.2 409L355.2 408.7L357.2 408.5L359.2 408.7L360.2 408.9L361.2 409.3L362 409.7L363.2 410.4L364.2 411.4L365.2 412.7L365.8 413.7L366.3 414.7L366.7 415.7L366.9 416.7L367 418.7L367 420.7L366.9 422.7L366.7 424.7L366.4 426.7L366.1 427.7L365.9 428.7L365.7 429.7L365.4 430.7L365.1 431.7L364.7 432.7L364.2 433.6L363.5 434.7L362.6 435.7L361.7 436.7L360.7 437.7L359.7 438.7L358.4 439.7L357.2 440.3L356.2 440.7L355.2 441L354.2 441.3L353.2 441.5L351.2 441.6L349.2 441.3L348.2 440.9L347.2 440.5L346.2 440.1L345.2 439.7L344.2 439.3L343.2 438.8L342.2 438.2L341.3 437.7L340.2 437L339.2 436.5L338.2 436.3L336.2 436.7L335.2 437.3L334.2 438.3L333.5 439.7L333.2 440.7L333 441.7L332.6 443.7L332.4 445.7L332.4 447.7L332.5 449.7L332.5 451.7L332.6 453.7L332.7 455.7L332.7 457.7L332.7 459.7L332.7 461.7L332.7 463.7L332.7 465.7L331.2 465.7L329.2 465.7L327.2 465.7L325.2 465.7L323.1 465.7L321.1 465.7L320.4 464.7L320.7 462.7L321 460.7L321.1 459.5L321.4 457.7L321.8 455.7L322.1 453.7L322.5 451.7L322.9 449.7L323.1 448.6L323.5 446.7L323.9 444.7L324.2 442.8L324.3 441.7L324.6 439.7L324.9 437.7L325.2 435.9L325.3 434.7L325.5 432.7L325.6 430.7L325.5 428.7L325.2 426.7L324.8 424.7L324.6 423.7L324.3 422.7L324 421.7L323.7 420.7L323.3 419.7L322.9 418.7L322.4 417.7L321.9 416.7L321.3 415.7L320.7 414.7L320.1 413.7L319.5 412.7L318.8 411.7L318.1 410.8L317.2 409.7L316.4 408.7L315.5 407.7L314.5 406.7L313.2 405.7L312.1 404.9L311.1 404.3L310.1 403.7L309.1 403.2L308.2 402.7L307.1 402.2L306.1 401.9L305.1 401.6L304.1 401.4L303.1 401.2L301.1 400.9L299.1 401.1L298.1 401.3L297.1 401.6L296.1 402L295.1 402.4L294.1 402.9L293.1 403.6L292.1 404.5L291.1 405.6L290.2 406.7L289.3 407.7L288.5 408.7L287.7 409.7L287.1 410.4L286.3 411.7L285.7 412.7L285.1 413.7L284.5 414.7L284 415.7L283.5 416.7L283.1 417.5L282.7 418.7L282.4 419.7L282.1 420.7L281.8 421.7L281.5 422.7L281.2 423.7L281 424.7L280.7 425.7L280.4 426.7L280.2 427.7L279.9 428.7L279.6 429.7L279.3 430.7L279 431.7L278.8 432.7L278.5 433.7L278.2 434.7L277.9 435.7L277.6 436.7L277.4 437.7L277.1 438.7L276.7 439.7L276.4 440.7L276.1 441.6L275.7 442.7L275.3 443.7L275 444.7L274.6 445.7L274.2 446.7L273.9 447.7L273.5 448.7L273.1 449.7L272.7 450.7L272.3 451.7L271.9 452.7L271.4 453.7L271 454.7L270.5 455.7L270.1 456.7L269.6 457.7L269.2 458.7L268.7 459.7L268.2 460.7L267.7 461.7L267.2 462.7L266.7 463.7L266.2 464.7L265.8 465.7L264.1 465.7L262.1 465.7L260.1 465.7L258.1 465.7L256.1 465.7L254.1 465.7L252.8 465.7L253.2 464.7L253.8 463.7L254.4 462.7L255 461.7L255.7 460.7L256.3 459.7L256.9 458.7L257.6 457.7L258.1 457L258.9 455.7L259.6 454.7L260.3 453.7L261 452.7L261.6 451.7L262.2 450.7L262.9 449.7L263.5 448.7L264.1 447.8L264.8 446.7L265.4 445.7L266 444.7L266.6 443.7L267.1 442.9L267.8 441.7L268.4 440.7L269 439.7L269.6 438.7L270.1 437.9L270.8 436.7L271.3 435.7L271.8 434.7L272.3 433.7L272.8 432.7L273.3 431.7L273.8 430.7L274.3 429.7L274.8 428.7L275.3 427.7L275.8 426.7L276.3 425.7L276.7 424.7L277.1 423.7L277.5 422.7L277.9 421.7L278.3 420.7L278.7 419.7L279.1 418.7L279.6 417.7L280 416.7L280.5 415.7L281.1 414.7L281.7 413.7L282.3 412.7L282.9 411.7L283.4 410.7L283.9 409.7L284.5 408.7L285 407.7L285.6 406.7L286.1 405.9L287 404.7L287.7 403.7L288.4 402.7L289.1 401.8L290 400.7L290.8 399.7L291.7 398.7L292.7 397.7L294.1 396.7L295.1 396.1L296.1 395.7L297.1 395.2L298.1 394.8ZM473.4 405.5L474.4 405.2L475.4 405L477.4 404.8L479.4 404.9L481.4 405.3L482.4 405.5L483.4 405.8L484.4 406.1L485.4 406.5L486.4 407.1L487.1 407.7L488.3 408.7L489.4 409.6L490.4 410.5L491.4 411.4L492.4 412.3L493.4 413.2L494.4 414.2L495.4 415.2L496.4 416.2L497.4 417.2L498.4 418.1L499.4 419.1L500.1 419.7L501.4 420.7L502.4 421.4L503.4 422.1L504.2 422.7L505.4 423.5L506.4 424.2L507.4 424.9L508.4 425.6L509.4 426.2L510.2 426.7L511.4 427.3L512.3 427.7L513.4 428.1L514.4 428.5L515.4 428.8L516.4 429.2L517.4 429.6L518.4 429.9L519.4 430.2L520.4 430.4L522.4 430.7L524.4 430.8L526.4 430.8L528.4 430.9L530.4 430.9L532.4 430.9L534.4 430.8L536.4 430.6L538.4 430.3L540.4 430L542.5 429.8L544.5 429.4L545.5 429.2L546.5 428.9L547.5 428.4L548.5 428L549.5 427.6L550.5 427.1L551.4 426.7L552.5 426.2L553.5 425.7L554.5 425.3L555.5 424.8L556.5 424.3L557.5 423.8L558.5 423.2L559.2 422.7L560.5 421.8L561.5 421L562.5 420.2L563.2 419.7L564.5 418.7L565.5 417.9L566.5 417.2L567.5 416.4L568.4 415.7L569.5 414.8L570.5 413.9L571.5 413.1L572.5 412.2L573.5 411.4L574.3 410.7L575.5 409.7L576.5 408.9L577.5 408.3L577.5 409.7L577.5 411.7L577.5 413.7L576.5 415.4L575.5 416.3L574.5 417.3L573.5 418.2L572.5 419.2L571.5 420.1L570.8 420.7L569.5 421.7L568.5 422.4L567.5 423.1L566.5 423.7L565.5 424.4L564.5 425L563.5 425.7L562.5 426.3L561.5 426.9L560.5 427.5L559.5 428L558.5 428.4L557.5 428.9L556.5 429.3L555.5 429.7L554.5 430.1L553.5 430.5L552.5 430.9L551.5 431.3L550.5 431.7L549.5 432.1L548.5 432.5L547.5 432.8L546.5 433.1L545.5 433.4L544.5 433.6L543.5 433.8L542.5 434.1L541.5 434.3L540.4 434.6L539.4 434.8L538.4 435.1L537.4 435.3L536.4 435.5L535.4 435.7L534.4 435.9L532.4 436.3L530.4 436.5L529.4 436.7L527.4 437L525.4 437.3L523.4 437.6L521.9 437.7L520.4 437.8L518.4 437.8L516.4 437.9L514.4 438L512.4 438.1L510.4 438.2L508.4 438.6L507.4 438.9L506.4 439.1L505.4 439.4L504.4 439.6L503.4 439.9L502.4 440.1L500.4 440.4L498.4 440.5L496.4 440.4L494.4 440.2L492.4 440.1L490.4 439.9L488.8 439.7L487.4 439.5L485.4 439.2L483.4 439L481.4 439.1L479.4 439.4L478.4 439.7L477.4 440L476.4 440.3L475.4 440.7L474.4 441.2L473.4 442.1L472.4 443.2L471.4 444.5L470.5 445.7L469.8 446.7L469.1 447.7L468.6 448.7L468.1 449.7L467.7 450.7L467.2 451.7L466.8 452.7L466.4 453.7L466 454.7L465.6 455.7L465.2 456.7L464.8 457.7L464.5 458.7L464.2 459.7L463.9 460.7L463.6 461.7L463.3 462.7L463 463.7L462.7 464.7L462.3 465.7L460.3 465.7L458.3 465.7L456.3 465.7L454.3 465.7L452.3 465.7L450.3 465.7L448.3 465.7L446.3 465.7L444.3 465.7L442.3 465.7L440.3 465.7L440.4 463.7L440.5 461.7L440.6 459.7L440.8 457.7L440.9 455.7L441.2 453.7L441.6 451.7L441.9 449.7L442.3 447.8L442.6 446.7L442.8 445.7L443 444.7L443.3 443.7L443.7 442.7L444 441.7L444.4 440.7L444.7 439.7L445.1 438.7L445.4 437.7L445.8 436.7L446.2 435.7L446.7 434.7L447.3 433.7L447.9 432.7L448.5 431.7L449.2 430.7L449.8 429.7L450.3 428.9L451.1 427.7L451.8 426.7L452.3 425.9L453.2 424.7L453.9 423.7L454.6 422.7L455.3 421.8L456.1 420.7L456.9 419.7L457.6 418.7L458.3 417.8L459.2 416.7L460 415.7L460.9 414.7L461.8 413.7L462.8 412.7L463.8 411.7L464.8 410.7L465.8 409.7L466.9 408.7L468.3 407.7L469.4 407.1L470.3 406.7L471.4 406.3L472.4 405.9ZM402.3 430.6L404.3 430.4L406.3 430.4L408 430.7L409.3 431L410.3 431.2L411.3 431.4L412.3 431.7L413.3 432.1L414.1 432.7L414.9 433.7L415.5 434.7L415.9 435.7L416.3 436.6L416.7 437.7L417 438.7L417.4 439.7L417.6 440.7L417.9 442.7L418 444.7L418.1 446.7L418.2 448.7L418.3 449.9L418.4 451.7L418.6 453.7L418.7 455.7L418.9 457.7L419.1 459.7L419.3 461L419.6 462.7L419.9 463.7L420.1 464.7L419.3 465.7L417.3 465.7L415.3 465.7L413.3 465.7L411.3 465.7L409.3 465.7L407.3 465.7L405.3 465.7L403.3 465.7L402.3 465.2L401.6 463.7L400.9 462.7L400.3 461.7L399.7 460.7L399 459.7L398.3 458.7L397.3 457.7L396.2 456.7L395.2 456L394.2 455.5L392.2 455.5L391.2 456L390.2 456.7L389.2 457.5L388.2 458.5L387.3 459.7L386.7 460.7L386.2 461.5L385.6 462.7L385 463.7L384.6 464.7L384.3 465.7L382.2 465.7L380.2 465.7L378.2 465.7L376.2 465.7L374.2 465.7L373.8 464.7L373.8 462.7L373.8 460.7L373.8 458.7L373.7 456.7L373.8 454.7L373.9 452.7L374.2 450.7L374.5 448.7L375 446.7L375.3 445.7L375.7 444.7L376.2 443.8L377 442.7L377.8 441.7L378.6 440.7L379.2 439.9L380.2 438.8L381.2 437.9L382.2 437.2L383.2 436.7L384.2 436.2L385.2 435.7L386.2 435.3L387.2 434.8L388.2 434.4L389.2 433.9L390.2 433.5L391.2 433L392.2 432.6L393.2 432.3L394.2 432L395.2 431.8L397.3 431.5L399.3 431.1L401.3 430.8Z" fill="#00AAFF" stroke="#00AAFF" stroke-width=".4" fill-rule="evenodd"/>
<path d="M299.1 376.5L301.1 376.6L302.1 376.9L303.1 377.2L304.1 377.7L305.1 378.1L306 378.7L307.1 379.4L308.1 380.1L308.9 380.7L310.1 381.6L311.1 382.3L312.1 383L313 383.7L314.1 384.5L315.1 385.2L316.1 386L317 386.7L318.1 387.5L319.1 388.3L320.1 389.1L321.1 390L322 390.7L323.1 391.6L324.2 392.4L325.2 393.1L325.9 393.7L327.2 394.6L328.2 395.1L329.1 395.7L330.2 396.2L330.9 396.7L332.2 397.3L333.2 397.9L334.2 398.4L335.2 398.9L336.2 399.4L337.2 399.8L338.2 400.1L339.2 400.4L340.2 400.7L341.2 401L342.2 401.2L343.2 401.5L344.9 401.7L346.2 401.7L348.2 401.4L349.2 401.2L350.2 401L351.2 400.8L352.2 400.6L353.2 400.4L354.2 400.2L355.2 400L356.9 399.7L358.2 399.5L360.2 399.3L362.2 399.5L363.2 399.8L364.2 400.1L365.2 400.4L366.2 400.9L367.2 401.5L368.2 402.3L369.2 403.2L370.2 404.1L371.2 405.1L371.9 405.7L373 406.7L374.1 407.7L375.2 408.7L376.2 409.6L377.2 410.5L378.2 411.4L379.2 412.1L380.1 412.7L381.2 413.2L382.2 413.6L383.2 414L384.2 414.3L385.2 414.6L386.2 415L387.2 415.2L388.2 415.4L390.2 415.6L392.2 415.5L394.2 415.4L396.2 415.3L398.3 415L400.1 414.7L401.3 414.4L402.3 414.1L403.3 413.8L404.3 413.5L405.3 413.1L406.3 412.8L407.3 412.5L408.3 412.2L409.3 412L411.3 411.8L413.3 412L415.3 412.2L417.3 412.4L419.3 412.3L421.3 412.1L423.3 411.9L424.7 411.7L426.3 411.5L428.3 411.1L429.3 410.9L430.3 410.6L431.3 410.3L432.3 410L433.3 409.6L434.3 409.3L435.3 408.9L436.3 408.6L437.3 408.2L438.3 407.8L439.3 407.3L440.3 406.8L441.3 406.3L442.3 405.7L443.3 405.2L444.1 404.7L445.3 404L446.3 403.4L447.3 402.9L448.3 402.3L449.3 401.7L450.3 401.2L451.2 400.7L452.3 400L453.3 399.3L454.2 398.7L455.3 397.7L456.3 396.7L457.3 395.7L458.3 394.7L459.3 393.7L460.3 392.8L461.3 392L462.3 391.2L463.2 390.7L464.3 389.9L465.3 389.2L466.2 388.7L467.3 388.1L468.3 387.7L469.4 387.3L470.4 387L471.4 386.7L472.4 386.5L473.4 386.3L475.4 386L477.4 386.2L478.4 386.4L479.4 386.7L480.4 387L481.4 387.3L482.4 387.7L483.4 388L484.4 388.4L485.4 388.9L486.4 389.3L487.4 389.8L488.4 390.4L489.4 391.1L490.4 392L491 392.7L491.8 393.7L492.4 394.4L493.2 395.7L493.9 396.7L494.6 397.7L495.2 398.7L495.8 399.7L496.4 400.6L497 401.7L497.6 402.7L498.2 403.7L498.8 404.7L499.4 405.6L500.3 406.7L501.4 407.5L502.4 407.9L504.4 408.1L506.4 408L508.4 408.1L510.4 408.7L511.4 409.4L512.4 410.4L513.4 411.5L514.4 412.6L515.4 413.6L516.4 414.6L517.4 415.5L518.4 416.3L519.4 417.1L520.4 417.7L521.4 418.3L522.4 418.9L523.4 419.4L524.4 420L525.4 420.5L526.4 420.9L527.4 421.2L528.4 421.4L530.3 421.7L531.4 421.8L533.4 422.1L535.4 422.3L537.4 422.4L539.4 422.3L541.5 421.9L542.4 421.7L543.5 421.5L544.5 421.2L545.5 421L546.5 420.8L547.5 420.5L548.5 420.2L549.5 419.8L550.5 419.3L551.5 418.8L552.5 418.3L553.5 417.7L554.5 417.2L555.3 416.7L556.5 416L557.5 415.5L558.5 414.9L559.5 414.3L560.4 413.7L561.5 413L562.5 412.2L563.2 411.7L564.5 410.7L565.5 409.9L566.5 409.1L567.5 408.4L568.4 407.7L569.5 406.8L570.5 406L571.5 405.2L572.2 404.7L573.5 403.7L574.5 402.8L575.5 402.1L576.5 401.3L577.5 400.8L577.5 402.7L577.5 404.7L577.5 406.7L577.5 408.3L576.5 408.9L575.5 409.6L574.5 410.5L573.5 411.4L572.5 412.2L571.5 413.1L570.8 413.7L569.6 414.7L568.5 415.6L567.5 416.4L566.5 417.2L565.5 417.9L564.5 418.7L563.5 419.5L562.5 420.2L561.5 421L560.6 421.7L559.5 422.5L558.5 423.2L557.7 423.7L556.5 424.3L555.5 424.8L554.5 425.3L553.6 425.7L552.5 426.2L551.5 426.6L550.5 427.1L549.5 427.6L548.5 428L547.5 428.4L546.5 428.9L545.5 429.2L544.5 429.4L543.1 429.7L541.5 429.9L539.4 430.1L537.4 430.4L535.5 430.7L533.4 430.9L531.4 430.9L529.4 430.9L527.4 430.8L525.4 430.8L523.4 430.7L521.4 430.6L519.4 430.2L518.4 429.9L517.4 429.6L516.4 429.2L515.4 428.8L514.4 428.5L513.4 428.1L512.4 427.7L511.4 427.3L510.4 426.8L509.4 426.2L508.5 425.7L507.4 424.9L506.4 424.2L505.7 423.7L504.4 422.8L503.4 422.1L502.4 421.4L501.4 420.7L500.4 419.9L499.4 419.1L498.4 418.1L497.4 417.2L496.4 416.2L495.4 415.2L494.4 414.2L493.4 413.2L492.4 412.3L491.7 411.7L490.6 410.7L489.5 409.7L488.4 408.7L487.4 407.9L486.4 407.1L485.4 406.5L484.4 406.1L483.4 405.8L482.4 405.5L481.4 405.3L479.4 404.9L477.4 404.8L475.4 405L474.4 405.2L473.4 405.5L472.4 405.9L471.4 406.3L470.4 406.6L469.4 407.1L468.3 407.6L467.3 408.3L466.3 409.2L465.3 410.1L464.3 411.1L463.3 412.1L462.3 413.1L461.3 414.2L460.3 415.3L459.3 416.5L458.4 417.7L457.6 418.7L456.9 419.7L456.3 420.4L455.4 421.7L454.6 422.7L453.9 423.7L453.3 424.5L452.5 425.7L451.8 426.7L451.1 427.7L450.5 428.7L449.8 429.7L449.3 430.4L448.5 431.7L447.9 432.7L447.3 433.6L446.7 434.7L446.2 435.7L445.8 436.7L445.4 437.7L445.1 438.7L444.7 439.7L444.4 440.7L444 441.7L443.7 442.7L443.3 443.7L443 444.7L442.8 445.7L442.6 446.7L442.3 447.7L442.1 448.7L441.7 450.7L441.4 452.7L441.1 454.7L440.8 456.7L440.7 458.7L440.6 460.7L440.5 462.7L440.3 464.7L439.3 465.7L437.3 465.7L435.3 465.7L433.3 465.7L431.3 465.7L429.3 465.7L427.3 465.7L425.3 465.7L423.3 465.7L421.3 465.7L420.1 464.7L419.9 463.7L419.6 462.7L419.4 461.7L419.1 459.7L418.9 457.7L418.7 455.7L418.6 453.7L418.4 451.7L418.3 449.9L418.2 448.7L418.1 446.7L418 444.7L417.9 442.7L417.6 440.7L417.4 439.7L417 438.7L416.7 437.7L416.3 436.7L415.9 435.7L415.5 434.7L414.9 433.7L414.3 432.8L413.3 432.1L412.3 431.7L411.3 431.4L410.3 431.2L409.3 431L408.3 430.7L407.3 430.5L405.3 430.3L403.3 430.5L401.9 430.7L400.3 431L398.3 431.3L396.2 431.6L394.2 432L393.2 432.3L392.2 432.6L391.2 433L390.2 433.5L389.2 433.9L388.2 434.4L387.2 434.8L386.2 435.3L385.3 435.7L384.2 436.2L383.2 436.7L382.2 437.2L381.2 437.9L380.4 438.7L379.4 439.7L378.6 440.7L377.8 441.7L377.2 442.4L376.3 443.7L375.7 444.7L375.3 445.7L375 446.7L374.7 447.7L374.4 449.7L374 451.7L373.8 453.7L373.7 455.7L373.7 457.7L373.8 459.7L373.8 461.7L373.8 463.7L373.8 465.7L372.2 465.7L370.2 465.7L368.2 465.7L366.2 465.7L364.2 465.7L362.2 465.7L360.2 465.7L358.2 465.7L356.2 465.7L354.2 465.7L352.2 465.7L350.2 465.7L348.2 465.7L346.2 465.7L344.2 465.7L342.2 465.7L340.2 465.7L338.2 465.7L336.2 465.7L334.2 465.7L332.7 465.7L332.7 463.7L332.7 461.7L332.7 459.7L332.7 457.7L332.7 455.7L332.6 453.7L332.5 451.7L332.5 449.7L332.4 447.7L332.4 445.7L332.6 443.7L333 441.7L333.2 440.7L333.5 439.7L333.9 438.7L334.7 437.7L336.1 436.7L337.2 436.4L339.2 436.5L340.2 437L341.2 437.6L342.2 438.2L343 438.7L344.2 439.3L345.1 439.7L346.2 440.1L347.2 440.5L348.2 440.9L349.2 441.3L350.2 441.5L352.2 441.6L354.2 441.3L355.2 441L356.2 440.7L357.2 440.3L358.2 439.8L359.2 439.1L360.2 438.2L361.2 437.2L362.2 436.1L363.2 435L364.2 433.7L364.7 432.7L365.1 431.7L365.4 430.7L365.7 429.7L365.9 428.7L366.1 427.7L366.4 426.7L366.6 425.7L366.9 423.7L366.9 421.7L367 419.7L367 417.7L366.7 415.7L366.3 414.7L365.8 413.7L365.2 412.7L364.5 411.7L363.5 410.7L362.2 409.8L361.2 409.3L360.2 408.9L359.2 408.7L357.2 408.5L355.6 408.7L354.2 409L353.2 409.2L352.2 409.5L351.2 409.8L350.2 410.1L349.2 410.4L348.3 410.7L347.2 411.1L346.2 411.4L345.2 411.8L344.2 412.1L343.2 412.5L342.2 412.9L341.2 413.1L339.2 413.3L337.2 412.9L336.2 412.7L335.2 412.4L334.2 412L333.2 411.6L332.2 411.1L331.3 410.7L330.2 410.1L329.2 409.5L328.2 408.9L327.2 408.2L326.2 407.4L325.3 406.7L324.2 405.7L323.1 404.9L322.1 404L321.1 403.2L320.1 402.4L319.3 401.7L318.1 400.7L317.1 399.9L316.1 399.2L315.3 398.7L314.1 398L313.1 397.5L312.1 397L311.1 396.5L310.1 396L309.3 395.7L308.1 395.3L307.1 395L306.1 394.8L304.1 394.4L302.1 394.2L300.1 394.3L299.1 394.5L298.1 394.8L297.1 395.2L296.1 395.6L295.1 396.1L294.1 396.7L293.1 397.4L292.1 398.2L291.1 399.3L290.1 400.5L289.2 401.7L288.4 402.7L287.7 403.7L287.1 404.5L286.3 405.7L285.6 406.7L285.1 407.5L284.5 408.7L283.9 409.7L283.4 410.7L282.9 411.7L282.3 412.7L281.7 413.7L281.1 414.7L280.5 415.7L280.1 416.5L279.6 417.7L279.1 418.7L278.7 419.7L278.3 420.7L277.9 421.7L277.5 422.7L277.1 423.7L276.7 424.7L276.3 425.7L275.8 426.7L275.3 427.7L274.8 428.7L274.3 429.7L273.8 430.7L273.3 431.7L272.8 432.7L272.3 433.7L271.8 434.7L271.3 435.7L270.8 436.7L270.2 437.7L269.6 438.7L269.1 439.6L268.4 440.7L267.8 441.7L267.2 442.7L266.6 443.7L266.1 444.6L265.4 445.7L264.8 446.7L264.1 447.7L263.5 448.7L262.9 449.7L262.2 450.7L261.6 451.7L261.1 452.5L260.3 453.7L259.6 454.7L259.1 455.5L258.2 456.7L257.6 457.7L257.1 458.5L256.3 459.7L255.7 460.7L255.1 461.7L254.4 462.7L253.8 463.7L253.2 464.7L252.8 465.7L251 465.7L249 465.7L247 465.7L245 465.7L243 465.7L241 465.7L240.8 464.7L241.4 463.7L242 462.9L242.9 461.7L243.6 460.7L244.3 459.7L245 458.7L245.7 457.7L246.4 456.7L247 455.8L247.9 454.7L248.7 453.7L249.6 452.7L250.4 451.7L251 451L252.1 449.8L253 448.7L253.8 447.7L254.7 446.7L255.7 445.7L256.7 444.7L257.9 443.7L259.1 442.7L260.1 441.8L261 440.7L261.8 439.7L262.6 438.7L263.3 437.7L264.1 436.7L264.8 435.7L265.6 434.7L266.1 434L267 432.7L267.7 431.7L268.3 430.7L269 429.7L269.7 428.7L270.4 427.7L271 426.7L271.7 425.7L272.3 424.7L272.9 423.7L273.4 422.7L274 421.7L274.5 420.7L275 419.7L275.6 418.7L276.1 417.8L276.7 416.7L277.3 415.7L277.9 414.7L278.6 413.7L279.3 412.7L280 411.7L280.5 410.7L281 409.7L281.5 408.7L282 407.7L282.4 406.7L282.8 405.7L283.2 404.7L283.6 403.7L283.9 402.7L284.3 401.7L284.6 400.7L285 399.7L285.3 398.7L285.6 397.7L286 396.7L286.3 395.7L286.7 394.7L287 393.7L287.4 392.7L287.8 391.7L288.2 390.7L288.6 389.7L289 388.7L289.5 387.7L289.9 386.7L290.4 385.7L290.9 384.7L291.4 383.7L291.9 382.7L292.5 381.7L293.1 380.8L294.1 379.7L295.1 378.8L296.1 378.1L297.1 377.4L298.1 376.9Z" fill="#00EEFF" stroke="#00EEFF" stroke-width=".4" fill-rule="evenodd"/>
<path d="M326.2 313.6L328 313.6L329.2 313.8L330.2 314.1L331.2 314.3L332.2 314.6L333.2 314.8L334.2 315.1L335.2 315.4L336.2 315.8L337.2 316.6L337.9 317.6L338.4 318.6L338.7 319.6L339 320.6L339.2 321.6L339.6 323.6L339.8 325.6L340 327.6L340.2 329.4L340.4 330.6L340.7 331.7L341 332.7L341.3 333.7L341.6 334.7L342 335.7L342.4 336.7L342.8 337.7L343.3 338.7L343.9 339.7L344.4 340.7L345 341.7L345.6 342.7L346.2 343.6L346.8 344.7L347.3 345.7L347.8 346.7L348.2 347.5L348.7 348.7L349.1 349.7L349.5 350.7L349.8 351.7L350.2 352.5L350.6 353.7L350.9 354.7L351.2 355.7L351.4 356.7L351.8 358.7L352.1 360.7L352.5 362.7L352.8 363.7L353.1 364.7L353.5 365.7L354 366.7L354.5 367.7L355 368.7L355.5 369.7L356 370.7L356.6 371.7L357.2 372.7L357.8 373.7L358.3 374.7L358.9 375.7L359.6 376.7L360.2 377.4L361.2 378.4L362.2 379.3L363.2 380.1L364.2 380.9L365.1 381.7L366.2 382.6L367.2 383.4L368.2 384.2L369.2 384.9L370.2 385.5L371.2 386L372.2 386.5L373.2 387L374.2 387.5L375.2 388L376.2 388.5L377.2 389L378.2 389.4L379.2 389.7L380.2 389.9L381.2 390.1L382.2 390.3L384.1 390.7L385.2 390.9L387.2 391.2L389.2 391.5L391.2 391.6L393.2 391.6L395.2 391.4L397.3 391.3L399.3 391.1L401.3 390.8L403.3 390.4L404.3 390.1L405.3 389.9L406.3 389.7L407.3 389.4L408.3 389.2L410.3 389L412.3 389.1L414.3 389.5L416.3 389.9L418.3 390.3L420.3 390.6L422.3 390.9L424.3 390.9L426.3 390.8L427.9 390.7L429.3 390.6L431.3 390.4L433.3 390.2L435.3 389.8L436.3 389.4L437.3 389L438.3 388.6L439.3 388.1L440.1 387.7L441.3 387.1L442.1 386.7L443.3 386.1L444.1 385.7L445.3 385L446.3 384.3L447.3 383.7L448.3 382.9L449.3 382.2L450.3 381.4L451.3 380.7L452.3 380L453.3 379.3L454.2 378.7L455.3 377.8L456.3 377.1L457.3 376.4L458.3 375.7L459.3 375L460.3 374.3L461.3 373.7L462.3 373L463.3 372.4L464.3 371.9L465.3 371.4L466.3 371L467.3 370.5L468.3 370.1L469.2 369.7L470.4 369.2L471.4 368.8L472.4 368.5L473.4 368.3L475.4 368.2L477.4 368.3L479.4 368.5L481.4 368.6L483.4 368.9L485.4 369.3L486.4 369.5L487.4 369.8L488.4 370.1L489.4 370.6L490.4 371.2L491.4 372L492 372.7L492.9 373.7L493.7 374.7L494.4 375.5L495.3 376.7L496.1 377.7L496.9 378.7L497.7 379.7L498.4 380.5L499.3 381.7L500 382.7L500.6 383.7L501.2 384.7L501.7 385.7L502.2 386.7L502.7 387.7L503.2 388.7L503.7 389.7L504.2 390.7L504.8 391.7L505.4 392.7L506 393.7L506.6 394.7L507.2 395.7L507.9 396.7L508.4 397.5L509.2 398.7L510 399.7L510.7 400.7L511.4 401.5L512.3 402.7L513.1 403.7L513.9 404.7L514.7 405.7L515.4 406.5L516.4 407.6L517.4 408.6L518.4 409.4L519.4 410.1L520.3 410.7L521.4 411.3L522.4 411.8L523.4 412.2L524.4 412.6L525.4 412.9L526.4 413.2L527.4 413.4L528.4 413.7L530.4 414L532.4 414.2L534.4 414.4L536.4 414.3L538.4 414.1L540.4 413.7L542.5 413.3L544.5 413L545.5 412.7L546.5 412.4L547.5 412L548.5 411.6L549.5 411.1L550.3 410.7L551.5 410.1L552.3 409.7L553.5 409.1L554.3 408.7L555.5 408.1L556.5 407.4L557.5 406.8L558.5 406L559.5 405.1L560.5 404.3L561.2 403.7L562.4 402.7L563.5 401.8L564.5 401L565.5 400.2L566.2 399.7L567.5 398.8L568.5 398.1L569.5 397.4L570.5 396.7L571.5 396L572.5 395.1L573.5 394.2L574.5 393.3L575.2 392.7L576.3 391.7L577.5 390.9L577.5 392.7L577.5 394.7L577.5 396.7L577.5 398.7L577.5 400.7L576.5 401.3L575.5 402.1L574.7 402.7L573.5 403.6L572.5 404.4L571.5 405.2L570.5 406L569.6 406.7L568.5 407.6L567.5 408.4L566.5 409.1L565.8 409.7L564.5 410.7L563.5 411.5L562.5 412.2L561.5 413L560.5 413.6L559.5 414.3L558.5 414.9L557.5 415.5L556.5 416L555.5 416.6L554.5 417.2L553.6 417.7L552.5 418.3L551.5 418.8L550.5 419.3L549.5 419.8L548.5 420.2L547.5 420.5L546.5 420.8L545.5 421L544.5 421.2L543.5 421.5L542.5 421.7L541.5 421.9L540.4 422.1L538.4 422.4L536.4 422.4L534.4 422.2L532.4 422L530.4 421.7L528.4 421.4L527.4 421.2L526.4 420.9L525.4 420.5L524.4 420L523.4 419.4L522.4 418.9L521.4 418.3L520.4 417.7L519.4 417.1L518.4 416.3L517.6 415.7L516.5 414.7L515.5 413.7L514.5 412.7L513.6 411.7L512.6 410.7L511.7 409.7L510.4 408.7L509.4 408.3L507.4 408L505.4 408.1L503.4 408.1L501.7 407.7L500.4 406.8L499.5 405.7L498.8 404.7L498.2 403.7L497.6 402.7L497 401.7L496.4 400.7L495.8 399.7L495.2 398.7L494.6 397.7L493.9 396.7L493.4 395.9L492.5 394.7L491.8 393.7L491 392.7L490.4 392L489.4 391.1L488.4 390.4L487.4 389.8L486.4 389.3L485.4 388.9L484.4 388.4L483.4 388L482.4 387.7L481.4 387.3L480.4 387L479.4 386.7L478.4 386.4L477.4 386.2L475.4 386L473.4 386.3L472.4 386.5L471.4 386.7L470.4 387L469.4 387.3L468.3 387.6L467.3 388.1L466.3 388.6L465.3 389.2L464.3 389.9L463.3 390.5L462.3 391.2L461.3 392L460.5 392.7L459.3 393.7L458.3 394.6L457.3 395.7L456.4 396.7L455.3 397.7L454.3 398.5L453.3 399.3L452.3 400L451.3 400.6L450.3 401.2L449.4 401.7L448.3 402.3L447.3 402.9L446.3 403.4L445.3 404L444.3 404.6L443.3 405.2L442.4 405.7L441.3 406.3L440.3 406.8L439.3 407.3L438.3 407.8L437.3 408.2L436.3 408.6L435.3 408.9L434.3 409.3L433.3 409.6L432.3 410L431.3 410.3L430.3 410.6L429.3 410.9L428.3 411.1L426.3 411.5L424.7 411.7L423.3 411.9L421.3 412.1L419.3 412.3L417.3 412.4L415.3 412.2L413.3 412L411.3 411.8L409.3 412L408.3 412.2L407.3 412.5L406.3 412.8L405.3 413.1L404.3 413.5L403.3 413.8L402.3 414.1L401.3 414.4L400.3 414.7L399.3 414.9L397.3 415.2L395.2 415.3L393.2 415.5L391.2 415.6L389.2 415.6L387.2 415.2L386.2 415L385.2 414.6L384.2 414.3L383.2 414L382.3 413.7L381.2 413.2L380.2 412.7L379.2 412.1L378.2 411.4L377.4 410.7L376.3 409.7L375.2 408.7L374.2 407.8L373.2 406.9L372.2 406L371.2 405.1L370.2 404.1L369.2 403.2L368.2 402.3L367.4 401.7L366.2 400.9L365.2 400.4L364.2 400.1L363.2 399.8L362.2 399.5L360.2 399.3L358.2 399.5L356.9 399.7L355.2 400L354.2 400.2L353.2 400.4L352.2 400.6L351.2 400.8L350.2 401L349.2 401.2L348.2 401.4L346.3 401.7L344.9 401.7L343.2 401.5L342.2 401.2L341.2 401L340.2 400.7L339.2 400.4L338.2 400.1L337.2 399.8L336.2 399.4L335.2 398.9L334.2 398.4L333.2 397.9L332.2 397.3L331.2 396.8L330.2 396.2L329.2 395.7L328.2 395.1L327.3 394.7L326.2 393.9L325.2 393.1L324.2 392.4L323.3 391.7L322.1 390.8L321.1 390L320.1 389.1L319.1 388.3L318.3 387.7L317.1 386.8L316.1 386L315.1 385.2L314.3 384.7L313.1 383.8L312.1 383L311.1 382.3L310.3 381.7L309.1 380.9L308.1 380.1L307.1 379.4L306.1 378.7L305.1 378.1L304.1 377.7L303.1 377.2L302.1 376.9L301.1 376.6L299.1 376.5L298.1 376.9L297.1 377.4L296.1 378.1L295.3 378.7L294.1 379.7L293.2 380.7L292.5 381.7L291.9 382.7L291.4 383.7L290.9 384.7L290.4 385.7L289.9 386.7L289.5 387.7L289 388.7L288.6 389.7L288.2 390.7L287.8 391.7L287.4 392.7L287 393.7L286.7 394.7L286.3 395.7L286 396.7L285.6 397.7L285.3 398.7L285 399.7L284.6 400.7L284.3 401.7L283.9 402.7L283.6 403.7L283.2 404.7L282.8 405.7L282.4 406.7L282 407.7L281.5 408.7L281.1 409.6L280.5 410.7L280 411.7L279.3 412.7L278.6 413.7L278.1 414.5L277.3 415.7L276.7 416.7L276.1 417.7L275.6 418.7L275.1 419.6L274.5 420.7L274.1 421.5L273.4 422.7L272.9 423.7L272.3 424.7L271.7 425.7L271.1 426.6L270.4 427.7L269.7 428.7L269.1 429.6L268.3 430.7L267.7 431.7L267.1 432.6L266.3 433.7L265.6 434.7L264.8 435.7L264.1 436.7L263.3 437.7L262.6 438.7L261.8 439.7L261.1 440.6L260.1 441.7L259.1 442.7L258.1 443.6L257.1 444.4L256.1 445.3L255.1 446.3L254.1 447.4L253.1 448.6L252.1 449.7L251.3 450.7L250.4 451.7L249.6 452.7L248.7 453.7L248 454.6L247.1 455.7L246.4 456.7L245.7 457.7L245 458.6L244.3 459.7L243.6 460.7L243 461.4L242.1 462.7L241.4 463.7L240.8 464.7L240.3 465.7L239 465.7L237 465.7L235 465.7L233 465.7L231 465.7L229 465.7L227 465.7L226.6 464.7L227.2 463.7L227.9 462.7L228.5 461.7L229 460.8L229.7 459.7L230.4 458.7L231 457.7L231.8 456.7L232.7 455.7L233.5 454.7L234.4 453.7L235 453L236 451.8L237 450.7L237.9 449.7L238.8 448.7L239.8 447.7L240.8 446.7L241.8 445.7L242.8 444.7L243.8 443.7L244.8 442.7L245.8 441.7L246.9 440.7L248 439.7L249 438.9L250 438.1L251 437.4L252 436.7L253.1 435.9L254.1 435.1L255.1 434.4L256 433.7L257.1 432.9L258.1 432.1L259.1 431.4L259.9 430.7L261.1 429.8L262.1 429.1L263.1 428.3L263.8 427.7L265 426.7L266 425.7L266.8 424.7L267.6 423.7L268.1 423L268.9 421.7L269.6 420.7L270.1 419.9L270.7 418.7L271.2 417.7L271.6 416.7L271.9 415.7L272.2 414.7L272.5 413.7L272.8 412.7L273.2 411.7L273.5 410.7L273.9 409.7L274.3 408.7L274.7 407.7L275.1 406.8L275.5 405.7L275.9 404.7L276.4 403.7L276.8 402.7L277.3 401.7L277.8 400.7L278.2 399.7L278.7 398.7L279.1 397.7L279.4 396.7L279.7 395.7L280.1 394.7L280.4 393.7L280.7 392.7L281 391.7L281.2 390.7L281.5 388.7L281.7 386.7L281.8 384.7L281.9 382.7L282 380.7L282 378.7L281.9 376.7L281.8 374.7L281.7 372.7L281.6 370.7L281.7 368.7L281.9 366.7L282.1 365.4L282.5 363.7L282.8 362.7L283.2 361.7L283.5 360.7L283.9 359.7L284.2 358.7L284.6 357.7L285 356.7L285.6 355.7L286.3 354.7L287.1 353.7L287.9 352.7L288.7 351.7L289.6 350.7L290.5 349.7L291.1 349L292.1 348L293.1 347.1L294.1 346.2L295.1 345.3L295.9 344.7L297.1 343.7L298.1 342.8L299.1 342L300.1 341.2L301.1 340.7L302.1 340.1L303.1 339.5L304.1 339L305.1 338.5L306.1 338L307.1 337.5L308.1 337L309.1 336.4L310.1 335.7L311.1 334.7L311.8 333.7L312.4 332.7L313 331.7L313.4 330.6L313.7 329.6L313.9 327.6L313.9 325.6L313.8 323.6L314 321.6L314.3 320.6L314.9 319.6L316 318.6L317.1 318L318.1 317.4L319.1 316.9L320.1 316.3L321.1 315.7L322.1 315.2L323.1 314.6L324.2 314.1L325.2 313.7Z" fill="#00FFDD" stroke="#00FFDD" stroke-width=".4" fill-rule="evenodd"/>
<path d="M300.1 279.5L301.3 279.6L303.1 280.3L304.1 280.8L305.1 281.4L306.1 282.2L307.1 283.1L308.1 284.1L309.1 285L310 285.6L311.1 286.3L312.1 286.8L313.1 287.2L314.1 287.6L315.1 288L316.1 288.4L317.1 288.8L318.1 289.2L319.1 289.6L320.1 290.1L321.1 290.5L322.1 291L323.1 291.5L324.2 292L325.2 292.5L326.2 292.9L327.2 293.4L328.2 293.9L329.2 294.4L330.2 294.9L331.2 295.4L332.2 295.9L333.2 296.5L334.2 297.1L335 297.6L336.2 298.4L337.2 299.1L337.9 299.6L339.2 300.5L340.2 301.2L341.2 301.9L342.2 302.6L343.2 303.3L344.2 304.1L345.2 305L345.8 305.6L346.8 306.6L347.9 307.6L348.9 308.6L349.8 309.6L350.7 310.6L351.2 311.4L352 312.6L352.6 313.6L353.1 314.6L353.6 315.6L354.1 316.6L354.6 317.6L355 318.6L355.3 319.6L355.6 320.6L355.9 321.6L356.1 322.6L356.3 323.6L356.5 324.6L356.7 325.6L357 326.6L357.2 327.6L357.4 328.6L357.8 329.6L358.2 330.6L358.8 331.7L359.4 332.7L360.1 333.7L360.8 334.7L361.4 335.7L362.1 336.7L362.9 337.7L363.6 338.7L364.2 339.4L365.2 340.6L366.1 341.7L366.9 342.7L367.8 343.7L368.8 344.7L370.1 345.7L371.2 346.4L372.2 347L373.2 347.5L374.2 348.1L375.2 348.6L376.2 349.1L377.2 349.6L378.2 349.9L379.2 350.2L381.2 350.5L383.2 350.7L385.2 350.8L387.2 350.9L389.2 350.7L390.2 350.5L391.2 350.3L392.2 350.1L393.2 349.8L394.2 349.6L395.2 349.3L396.2 349.1L397.3 348.8L398.3 348.4L399.3 348L400.3 347.5L401.3 347.1L402.1 346.7L403.3 346.1L404.1 345.7L405.3 345.1L406.1 344.7L407.3 344.1L408.2 343.7L409.3 343.4L410.5 343.7L411.3 344.4L412.1 345.7L412.6 346.7L413.2 347.7L413.7 348.7L414.2 349.7L414.7 350.7L415.2 351.7L415.6 352.7L416 353.7L416.5 354.7L417 355.7L417.6 356.7L418.3 357.7L419.2 358.7L420.3 359.7L421.3 360.5L422.3 361.3L423.3 362.1L424.1 362.7L425.3 363.4L426.3 363.8L427.3 364.1L428.3 364.4L429.8 364.7L431.3 364.9L433.3 365.3L435.3 365.4L437.3 365L438.3 364.7L439.3 364.4L440.3 364.1L441.3 363.8L442.3 363.5L443.3 363.1L444.3 362.7L445.3 362.2L446.2 361.7L447.3 360.8L448.3 360L449.3 359.1L450.3 358.2L451 357.7L452.1 356.7L453.3 355.7L454.3 354.8L455.3 353.9L456.3 353.1L457.3 352.2L458 351.7L459.2 350.7L460.3 349.7L461.3 348.8L462.3 348.1L463.3 347.4L464.3 346.8L465.3 346.3L466.3 345.8L467.3 345.3L468.3 344.8L469.4 344.3L470.4 343.8L471.4 343.3L472.4 343L474.4 342.7L476.4 342.9L478.4 343.2L480.4 343.4L481.5 343.7L483.4 344.3L484.4 344.8L485.4 345.3L486.4 345.9L487.4 346.6L488.4 347.2L489.1 347.7L490.4 348.4L491.4 349.1L492.1 349.7L493.1 350.7L494 351.7L494.8 352.7L495.4 353.4L496.3 354.7L497.1 355.7L497.9 356.7L498.4 357.4L499.3 358.7L500 359.7L500.6 360.7L501.2 361.7L501.7 362.7L502.2 363.7L502.7 364.7L503.3 365.7L503.9 366.7L504.4 367.5L505.1 368.7L505.8 369.7L506.4 370.6L507.1 371.7L507.8 372.7L508.4 373.5L509.2 374.7L509.8 375.7L510.4 376.5L511.1 377.7L511.8 378.7L512.4 379.7L512.9 380.7L513.4 381.7L513.9 382.7L514.3 383.7L514.8 384.7L515.3 385.7L515.7 386.7L516.2 387.7L516.7 388.7L517.2 389.7L517.7 390.7L518.2 391.7L518.7 392.7L519.3 393.7L519.8 394.7L520.4 395.7L521 396.7L521.7 397.7L522.4 398.7L523.2 399.7L524.1 400.7L525 401.7L526.1 402.7L527.4 403.6L528.4 404.1L529.4 404.6L530.4 405.1L531.4 405.5L532.4 405.9L533.4 406.2L534.4 406.5L535.7 406.7L537.4 406.7L539.4 406.3L540.4 406L541.5 405.7L542.5 405.4L543.5 405.1L544.5 404.8L545.5 404.4L546.5 404.1L547.5 403.8L548.5 403.5L549.5 403.2L550.5 402.8L551.5 402.4L552.5 401.8L553.5 401.1L554.5 400.4L555.5 399.7L556.5 398.9L557.5 398.2L558.2 397.7L559.5 396.7L560.5 395.9L561.5 395L562.5 394L563.5 393.1L564.5 392.1L565.5 391.1L566.5 390.2L567.5 389.2L568.5 388.2L569.5 387.1L570.5 386L571.5 384.9L572.5 383.8L573.5 382.7L574.4 381.7L575.2 380.7L576.2 379.7L577.4 378.7L577.5 380.7L577.5 382.7L577.5 384.7L577.5 386.7L577.5 388.7L577.5 390.7L576.5 391.5L575.5 392.4L574.5 393.3L573.5 394.2L572.5 395.1L571.5 396L570.6 396.7L569.5 397.4L568.5 398.1L567.7 398.7L566.5 399.5L565.5 400.2L564.5 401L563.6 401.7L562.5 402.6L561.5 403.5L560.5 404.3L559.5 405.1L558.5 406L557.6 406.7L556.5 407.4L555.5 408.1L554.5 408.6L553.5 409.1L552.5 409.6L551.5 410.1L550.5 410.6L549.5 411.1L548.5 411.6L547.5 412L546.5 412.4L545.5 412.7L544.5 413L542.5 413.3L540.6 413.7L539.4 413.9L537.4 414.2L535.4 414.4L533.4 414.3L531.4 414.1L529.4 413.8L527.4 413.4L526.4 413.2L525.4 412.9L524.4 412.6L523.4 412.2L522.4 411.8L521.4 411.3L520.4 410.7L519.4 410.1L518.4 409.4L517.5 408.7L516.5 407.7L515.6 406.7L514.7 405.7L513.9 404.7L513.1 403.7L512.4 402.8L511.5 401.7L510.7 400.7L510 399.7L509.4 398.9L508.5 397.7L507.9 396.7L507.2 395.7L506.6 394.7L506 393.7L505.4 392.7L504.8 391.7L504.2 390.7L503.7 389.7L503.2 388.7L502.7 387.7L502.2 386.7L501.7 385.7L501.2 384.7L500.6 383.7L500 382.7L499.4 381.8L498.5 380.7L497.7 379.7L496.9 378.7L496.4 378L495.4 376.7L494.5 375.7L493.7 374.7L492.9 373.7L492 372.7L491.4 372L490.4 371.2L489.5 370.7L488.4 370.1L487.4 369.8L486.4 369.5L485.4 369.3L484.4 369.1L482.4 368.7L480.4 368.5L478.4 368.4L476.4 368.2L474.4 368.2L472.4 368.5L471.4 368.8L470.4 369.2L469.4 369.6L468.3 370.1L467.3 370.5L466.3 371L465.3 371.4L464.3 371.9L463.3 372.4L462.3 373L461.3 373.6L460.3 374.3L459.3 375L458.4 375.7L457.3 376.4L456.3 377.1L455.6 377.7L454.3 378.6L453.3 379.3L452.3 380L451.4 380.7L450.3 381.4L449.3 382.2L448.3 382.9L447.3 383.6L446.3 384.3L445.3 385L444.3 385.6L443.3 386.1L442.3 386.6L441.3 387.1L440.3 387.6L439.3 388.1L438.3 388.6L437.3 389L436.3 389.4L435.3 389.8L434.3 390L432.3 390.3L430.3 390.5L428.3 390.6L426.3 390.8L424.3 390.9L422.3 390.9L420.6 390.7L419.3 390.4L417.3 390.1L415.3 389.7L413.3 389.3L411.3 389L409.3 389L407.3 389.4L406.3 389.7L405.3 389.9L404.3 390.1L403.3 390.4L402.3 390.6L400.3 390.9L398.3 391.2L396.2 391.4L394.2 391.5L392.2 391.6L390.2 391.6L388.2 391.4L386.2 391.1L384.2 390.7L382.2 390.3L381.2 390.1L380.2 389.9L379.2 389.7L378.2 389.4L377.2 389L376.2 388.5L375.2 388L374.2 387.5L373.2 387L372.2 386.5L371.2 386L370.2 385.5L369.2 384.9L368.2 384.2L367.2 383.4L366.3 382.7L365.2 381.8L364.2 380.9L363.2 380.1L362.2 379.3L361.5 378.7L360.4 377.7L359.6 376.7L358.9 375.7L358.3 374.7L357.8 373.7L357.2 372.7L356.6 371.7L356 370.7L355.5 369.7L355 368.7L354.5 367.7L354 366.7L353.5 365.7L353.1 364.7L352.8 363.7L352.5 362.7L352.3 361.7L352 359.7L351.6 357.7L351.2 355.7L350.9 354.7L350.6 353.7L350.2 352.7L349.8 351.7L349.5 350.7L349.1 349.7L348.7 348.7L348.3 347.7L347.8 346.7L347.3 345.7L346.8 344.7L346.2 343.7L345.6 342.7L345.2 341.9L344.4 340.7L343.9 339.7L343.3 338.7L342.8 337.7L342.4 336.7L342 335.7L341.6 334.7L341.3 333.7L341 332.7L340.7 331.7L340.4 330.6L340.2 329.4L340 327.6L339.8 325.6L339.6 323.6L339.2 321.6L339 320.6L338.7 319.6L338.4 318.6L337.9 317.6L337.2 316.6L336.2 315.8L335.2 315.4L334.2 315.1L333.2 314.8L332.2 314.6L331.2 314.3L330.2 314.1L329.2 313.8L328 313.6L326.2 313.6L324.2 314.1L323.1 314.6L322.1 315.2L321.3 315.6L320.1 316.3L319.1 316.9L318.1 317.4L317.1 318L316.1 318.6L315.1 319.4L314.3 320.6L314 321.6L313.8 323.6L313.9 325.6L313.9 327.6L313.7 329.6L313.4 330.6L313 331.7L312.4 332.7L311.8 333.7L311.1 334.6L310.1 335.7L309.1 336.4L308.1 337L307.1 337.5L306.1 338L305.1 338.5L304.1 339L303.1 339.5L302.1 340.1L301.1 340.6L300.1 341.2L299.1 342L298.3 342.7L297.1 343.6L296.1 344.5L295.1 345.3L294.1 346.2L293.1 347.1L292.5 347.7L291.4 348.7L290.5 349.7L289.6 350.7L288.7 351.7L288.1 352.4L287.1 353.6L286.3 354.7L285.6 355.7L285.1 356.6L284.6 357.7L284.2 358.7L283.9 359.7L283.5 360.7L283.2 361.7L282.8 362.7L282.5 363.7L282.2 364.7L282 365.7L281.8 367.7L281.7 369.7L281.7 371.7L281.7 373.7L281.8 375.7L281.9 377.7L282 379.7L282 381.7L281.9 383.7L281.8 385.7L281.6 387.7L281.4 389.7L281.1 391.2L280.7 392.7L280.4 393.7L280.1 394.7L279.7 395.7L279.4 396.7L279.1 397.6L278.7 398.7L278.2 399.7L277.8 400.7L277.3 401.7L276.8 402.7L276.4 403.7L275.9 404.7L275.5 405.7L275.1 406.7L274.7 407.7L274.3 408.7L273.9 409.7L273.5 410.7L273.2 411.7L272.8 412.7L272.5 413.7L272.2 414.7L271.9 415.7L271.6 416.7L271.2 417.7L270.7 418.7L270.2 419.7L269.6 420.7L269.1 421.5L268.3 422.7L267.6 423.7L266.8 424.7L266.1 425.6L265.1 426.6L264.1 427.5L263.1 428.3L262.1 429.1L261.2 429.7L260.1 430.6L259.1 431.4L258.1 432.1L257.3 432.7L256.1 433.6L255.1 434.4L254.1 435.1L253.3 435.7L252.1 436.6L251 437.4L250 438.1L249.3 438.7L248 439.7L247 440.5L246 441.5L245 442.5L244 443.5L243 444.5L242 445.5L241 446.5L240 447.5L239 448.5L238 449.6L237 450.7L236.2 451.7L235.3 452.7L234.4 453.7L233.5 454.7L232.7 455.7L232 456.5L231.1 457.7L230.4 458.7L229.7 459.7L229.1 460.7L228.5 461.7L227.9 462.7L227.2 463.7L226.6 464.7L226.2 465.7L224 465.7L222 465.7L220 465.7L218 465.7L216 465.7L215 464.7L215 462.7L215 460.7L215 458.7L215 456.7L215 454.7L215 453L216 452L216.9 450.7L217.5 449.7L218 448.7L218.5 447.7L219 446.7L219.4 445.7L219.8 444.7L220.2 443.7L220.6 442.7L221 441.7L221.4 440.7L221.7 439.7L222.1 438.7L222.4 437.7L222.6 436.7L223 434.7L223.3 432.7L223.6 430.7L223.9 428.7L224.2 426.7L224.2 424.7L224 422.7L223.8 420.7L223.5 418.7L223.2 416.7L223 415.6L222.7 413.7L222.5 412.7L222.2 411.7L222 410.7L221.7 409.7L221.4 408.7L221.1 407.7L220.8 406.7L220.5 405.7L220.2 404.7L219.8 403.7L219.6 402.7L219.3 401.7L219.1 399.7L219.3 397.7L219.6 396.7L219.9 395.7L220.3 394.7L220.7 393.7L221.2 392.7L221.7 391.7L222.2 390.7L222.7 389.7L223.2 388.7L223.9 387.7L224.7 386.7L225.6 385.7L226.5 384.7L227.5 383.7L228.5 382.7L229.6 381.7L230.9 380.7L232 379.9L233 379.3L234 378.8L235 378.2L236 377.7L237 377L238 376.2L239 375.2L240 374L240.9 372.7L241.5 371.7L242 370.7L242.4 369.7L242.6 368.7L242.8 366.7L242.9 364.7L243.3 362.7L243.5 361.7L243.9 360.7L244.2 359.7L244.6 358.7L245 357.7L245.4 356.7L246 355.7L247 354.7L248 354L249 353.4L250 352.9L251 352.4L252.1 351.9L253.1 351.5L254.1 351.2L255.1 350.9L256.1 350.7L258.1 350.3L260.1 349.9L261.6 349.7L263.1 349.4L265.1 349L266 348.7L267.1 348.2L268.1 347.7L269.1 347.2L270 346.7L271.1 346L272.1 345.5L273.1 344.9L274.1 344.2L275.1 343.3L276.1 342.1L277.1 340.7L277.8 339.7L278.4 338.7L279.1 337.7L279.8 336.7L280.4 335.7L281.1 334.7L281.7 333.7L282.4 332.7L283 331.7L283.6 330.6L284.1 329.8L284.6 328.6L285 327.6L285.3 326.6L285.7 325.6L286 324.6L286.4 323.6L286.7 322.6L287 321.6L287.4 320.6L287.7 319.6L287.9 318.6L288.2 317.6L288.5 316.6L288.7 315.6L288.9 314.6L289.2 313.6L289.4 312.6L289.7 311.6L289.9 310.6L290.1 309.6L290.3 308.6L290.6 307.6L290.8 306.6L291 305.6L291.2 304.6L291.4 303.6L291.6 302.6L291.8 301.6L292 300.6L292.2 299.6L292.6 297.6L292.8 296.6L293 295.6L293.2 294.6L293.4 293.6L293.6 292.6L293.8 291.6L294.1 290.1L294.4 288.6L294.6 287.6L294.9 286.6L295.1 285.6L295.5 284.6L296 283.6L296.5 282.6L297.1 281.6L297.9 280.6L299.1 279.7Z" fill="#00FF88" stroke="#00FF88" stroke-width=".4" fill-rule="evenodd"/>
<path d="M287.1 242.5L289.1 242.3L291.1 242.2L293.1 242.2L295.1 242.3L297.1 242.5L298.3 242.6L300.1 242.8L302.1 243.1L303.1 243.4L304.1 243.7L305.1 244L306.1 244.4L307.1 244.8L308.1 245.2L309 245.6L310.1 246.4L311.1 247.4L312.1 248.6L312.9 249.6L313.6 250.6L314.1 251.4L314.9 252.6L315.5 253.6L315.9 254.6L316.4 255.6L316.8 256.6L317.1 257.5L317.6 258.6L318.1 259.6L318.6 260.6L319.1 261.6L319.7 262.6L320.3 263.6L320.9 264.6L321.5 265.6L322.1 266.6L322.6 267.6L323.1 268.6L323.6 269.6L324.1 270.6L324.6 271.6L325 272.6L325.5 273.6L326.1 274.6L326.9 275.6L327.9 276.6L329 277.6L330.1 278.6L331.2 279.6L332.2 280.5L333.2 281.2L334.2 281.9L335.2 282.5L336.2 283.1L337.1 283.6L338.2 284.2L339.2 284.8L340.2 285.4L341.2 285.9L342.2 286.4L343.2 286.9L344.2 287.4L345.2 287.9L346.2 288.3L347.2 288.8L348.2 289.2L349.1 289.6L350.2 290.1L351.2 290.6L352.2 290.9L353.2 291.3L354.2 291.6L355.2 292L356.2 292.3L357.2 292.6L358.2 293L359.2 293.3L360.2 293.6L361.2 293.9L362.2 294.3L363.2 294.6L364.2 295L365.2 295.3L366.2 295.7L367.2 296.1L368.2 296.4L369.2 296.8L370.2 297.3L371.2 297.8L372.2 298.6L373.2 299.5L374.2 300.5L375.2 301.6L375.9 302.6L376.3 303.6L376.7 304.6L377 305.6L377.3 306.6L377.6 307.6L377.9 308.6L378.2 309.6L378.6 310.6L379 311.6L379.5 312.6L379.9 313.6L380.5 314.6L381.2 315.6L382.2 316.6L383.2 317.3L384.2 318L385.2 318.5L386.2 319.1L387.2 319.6L388.2 320L389.2 320.4L390.2 320.7L391.2 320.9L392.2 321.2L393.2 321.5L394.2 321.7L395.2 322L396.2 322.2L398.3 322.5L399.9 322.6L401.3 322.7L403.3 322.8L405.3 322.9L407.3 322.9L409.3 323L411.3 323.2L413.3 323.4L415.3 323.6L417.3 323.9L419.3 324.1L421.3 324.3L423.3 324.5L425.3 324.6L427.3 324.7L429.3 324.8L431.3 324.9L433.3 325L435.3 325L437.3 324.8L439.3 324.5L441.3 324.1L443.3 323.8L445.3 323.5L447.3 323.1L448.3 322.9L449.3 322.6L450.3 322.4L451.3 322.1L452.3 321.8L453.3 321.5L454.3 321.2L455.3 320.9L456.3 320.6L457.3 320.3L458.3 320L459.3 319.8L460.3 319.5L461.3 319.3L463.3 319L465.3 318.7L467.3 318.4L469.4 318L471.4 317.8L473.4 317.7L475.4 317.8L477.4 317.9L479.4 318.1L481.4 318.3L483.4 318.5L485.4 318.9L486.4 319.1L487.4 319.4L488.4 319.8L489.4 320.1L490.4 320.4L491.4 320.8L492.4 321.1L493.4 321.5L494.4 321.8L495.4 322.2L496.4 322.6L497.4 323.2L498.4 323.9L499.2 324.6L500 325.6L500.7 326.6L501.3 327.6L501.9 328.6L502.4 329.6L503 330.6L503.5 331.7L504.1 332.7L504.6 333.7L505.2 334.7L505.7 335.7L506.2 336.7L506.7 337.7L507.2 338.7L507.7 339.7L508.2 340.7L508.7 341.7L509.2 342.7L509.7 343.7L510.2 344.7L510.7 345.7L511.1 346.7L511.6 347.7L512.1 348.7L512.5 349.7L513 350.7L513.4 351.6L513.9 352.7L514.3 353.7L514.8 354.7L515.3 355.7L515.7 356.7L516.2 357.7L516.7 358.7L517.3 359.7L517.9 360.7L518.4 361.6L519.1 362.7L519.7 363.7L520.3 364.7L520.9 365.7L521.4 366.4L522.2 367.7L522.8 368.7L523.4 369.6L524.1 370.7L524.7 371.7L525.2 372.7L525.7 373.7L526.1 374.7L526.5 375.7L526.9 376.7L527.2 377.7L527.6 378.7L528 379.7L528.3 380.7L528.6 381.7L528.9 382.7L529.1 383.7L529.4 384.7L529.7 385.7L530 386.7L530.3 387.7L530.7 388.7L531.3 389.7L532.1 390.7L532.9 391.7L534 392.7L535.4 393.4L536.4 393.8L537.4 394L538.4 394.3L539.4 394.5L540.6 394.7L542.5 394.7L544.5 394.5L545.5 394.3L546.5 394L547.5 393.5L548.5 392.8L549.5 392L550.5 390.9L551.4 389.7L552.1 388.7L552.8 387.7L553.5 386.7L554.2 385.7L554.9 384.7L555.5 383.9L556.5 382.8L557.5 381.7L558.5 380.7L559.5 379.7L560.4 378.7L561.4 377.7L562.3 376.7L563.3 375.7L564.1 374.7L565 373.7L565.9 372.7L566.5 371.9L567.5 370.8L568.4 369.7L569.3 368.7L570.1 367.7L571 366.7L571.8 365.7L572.5 364.9L573.5 363.8L574.5 362.7L575.4 361.7L576.3 360.7L577.5 359.8L577.5 361.7L577.5 363.7L577.5 365.7L577.5 367.7L577.5 369.7L577.5 371.7L577.5 373.7L577.5 375.7L577.5 377.7L576.5 379.3L575.5 380.4L574.5 381.5L573.5 382.7L572.6 383.7L571.7 384.7L570.8 385.7L569.9 386.7L569 387.7L568 388.7L567 389.7L566 390.7L564.9 391.7L563.9 392.7L562.9 393.7L561.8 394.7L560.7 395.7L559.5 396.7L558.5 397.5L557.5 398.2L556.5 398.9L555.5 399.7L554.5 400.4L553.5 401.1L552.7 401.7L551.5 402.4L550.5 402.8L549.5 403.2L548.5 403.5L547.5 403.8L546.5 404.1L545.5 404.4L544.5 404.8L543.5 405.1L542.5 405.4L541.5 405.7L540.4 406L539.4 406.3L538.4 406.5L536.4 406.7L534.4 406.5L533.4 406.2L532.4 405.9L531.4 405.5L530.4 405.1L529.5 404.7L528.4 404.1L527.6 403.7L526.4 402.9L525.4 402.1L524.4 401L523.4 399.9L522.4 398.7L521.7 397.7L521 396.7L520.4 395.7L519.8 394.7L519.3 393.7L518.7 392.7L518.2 391.7L517.7 390.7L517.2 389.7L516.7 388.7L516.2 387.7L515.7 386.7L515.3 385.7L514.8 384.7L514.3 383.7L513.9 382.7L513.4 381.7L512.9 380.7L512.4 379.7L511.8 378.7L511.1 377.7L510.5 376.7L509.8 375.7L509.2 374.7L508.5 373.7L507.8 372.7L507.1 371.7L506.5 370.7L505.8 369.7L505.1 368.7L504.5 367.7L503.9 366.7L503.4 365.8L502.7 364.7L502.2 363.7L501.7 362.7L501.2 361.7L500.6 360.7L500 359.7L499.4 358.8L498.6 357.7L497.9 356.7L497.1 355.7L496.4 354.7L495.6 353.7L494.8 352.7L494 351.7L493.4 350.9L492.4 349.9L491.4 349.1L490.4 348.4L489.4 347.8L488.4 347.2L487.5 346.7L486.4 345.9L485.4 345.3L484.4 344.8L483.4 344.3L482.4 343.9L481.4 343.6L479.4 343.3L477.4 343L475.4 342.8L473.4 342.8L471.4 343.3L470.4 343.8L469.4 344.3L468.3 344.8L467.3 345.3L466.3 345.8L465.3 346.3L464.3 346.8L463.3 347.4L462.3 348.1L461.6 348.7L460.3 349.7L459.3 350.5L458.3 351.4L457.3 352.2L456.3 353.1L455.7 353.7L454.5 354.7L453.3 355.6L452.3 356.5L451.3 357.4L450.3 358.2L449.3 359.1L448.7 359.7L447.5 360.7L446.3 361.6L445.3 362.2L444.4 362.7L443.3 363.1L442.3 363.5L441.3 363.8L440.3 364.1L439.3 364.4L438.3 364.7L437.3 365L436.3 365.2L434.3 365.4L432.3 365.1L430.3 364.7L428.3 364.4L427.3 364.1L426.3 363.8L425.3 363.4L424.3 362.8L423.3 362.1L422.3 361.3L421.5 360.7L420.3 359.7L419.3 358.7L418.3 357.7L417.6 356.7L417 355.7L416.5 354.7L416 353.7L415.6 352.7L415.2 351.7L414.7 350.7L414.3 349.7L413.7 348.7L413.3 347.8L412.6 346.7L412.1 345.7L411.4 344.7L410.5 343.7L409.3 343.4L408.3 343.6L407.3 344.1L406.3 344.6L405.3 345.1L404.3 345.6L403.3 346.1L402.3 346.6L401.3 347.1L400.3 347.5L399.3 348L398.3 348.4L397.3 348.8L396.2 349.1L395.2 349.3L394.2 349.6L393.2 349.8L392.2 350.1L391.2 350.3L390.2 350.5L389.2 350.7L387.2 350.9L385.2 350.8L383.3 350.7L381.2 350.5L379.2 350.2L378.2 349.9L377.2 349.6L376.2 349.1L375.2 348.7L374.2 348.1L373.4 347.7L372.2 347L371.2 346.4L370.2 345.7L369.2 345L368.2 344.1L367.2 343L366.2 341.8L365.3 340.7L364.5 339.7L363.6 338.7L362.9 337.7L362.2 336.8L361.4 335.7L360.8 334.7L360.2 333.8L359.4 332.7L358.8 331.7L358.2 330.6L357.8 329.6L357.4 328.6L357.2 327.6L357 326.6L356.7 325.6L356.5 324.6L356.3 323.6L356.1 322.6L355.9 321.6L355.6 320.6L355.3 319.6L355 318.6L354.6 317.6L354.2 316.7L353.6 315.6L353.2 314.8L352.6 313.6L352 312.6L351.4 311.6L350.7 310.6L349.8 309.6L349.2 309L348.2 308L347.2 307L346.2 306L345.2 305L344.2 304.1L343.2 303.3L342.3 302.6L341.2 301.9L340.2 301.2L339.4 300.6L338.2 299.8L337.2 299.1L336.4 298.6L335.2 297.8L334.2 297.1L333.4 296.6L332.2 295.9L331.2 295.4L330.2 294.9L329.2 294.4L328.2 293.9L327.2 293.4L326.2 292.9L325.2 292.5L324.2 292L323.1 291.5L322.1 291L321.1 290.5L320.1 290.1L319.1 289.7L318.1 289.2L317.1 288.8L316.1 288.4L315.1 288L314.1 287.6L313.1 287.2L312.1 286.8L311.1 286.3L310.1 285.7L309.1 285L308.1 284.1L307.1 283.1L306.1 282.2L305.5 281.6L304.1 280.8L303.1 280.3L302.1 279.9L301.1 279.6L299.4 279.6L298.1 280.4L297.1 281.6L296.5 282.6L296 283.6L295.5 284.6L295.1 285.6L294.9 286.6L294.6 287.6L294.4 288.6L294.2 289.6L294 290.6L293.6 292.6L293.4 293.6L293.2 294.6L293 295.6L292.8 296.6L292.6 297.6L292.2 299.6L292 300.6L291.8 301.6L291.6 302.6L291.4 303.6L291.2 304.6L291 305.6L290.8 306.6L290.6 307.6L290.3 308.6L290.1 309.6L289.9 310.6L289.7 311.6L289.4 312.6L289.2 313.6L288.9 314.6L288.7 315.6L288.5 316.6L288.2 317.6L287.9 318.6L287.7 319.6L287.4 320.6L287 321.6L286.7 322.6L286.4 323.6L286 324.6L285.7 325.6L285.3 326.6L285 327.6L284.6 328.6L284.2 329.6L283.6 330.6L283.1 331.6L282.4 332.7L281.7 333.7L281.1 334.6L280.4 335.7L279.8 336.7L279.1 337.7L278.4 338.7L277.8 339.7L277.1 340.7L276.5 341.7L275.6 342.7L274.7 343.7L273.4 344.7L272.1 345.5L271.1 346L270.1 346.6L269.1 347.2L268.1 347.7L267.1 348.2L266.1 348.6L265.1 349L264.1 349.2L262.1 349.6L260.1 349.9L258.1 350.3L256.1 350.7L255.1 350.9L254.1 351.2L253.1 351.5L252.1 351.9L251 352.4L250 352.9L249 353.4L248 354L247 354.6L246 355.6L245.4 356.7L245 357.5L244.6 358.7L244.2 359.7L243.9 360.7L243.5 361.7L243.3 362.7L243.1 363.7L242.9 365.7L242.7 367.7L242.4 369.7L242 370.7L241.5 371.7L241 372.5L240.3 373.7L239.5 374.7L238.6 375.7L237.5 376.7L236 377.6L235 378.2L234.2 378.7L233 379.3L232 379.9L231 380.6L230 381.3L229 382.2L228 383.1L227 384.2L226 385.2L225 386.3L224 387.5L223.2 388.7L222.7 389.7L222.2 390.7L221.7 391.7L221.2 392.7L220.7 393.7L220.3 394.7L219.9 395.7L219.6 396.7L219.3 397.7L219.1 399.7L219.3 401.7L219.6 402.7L219.8 403.7L220.2 404.7L220.5 405.7L220.8 406.7L221.1 407.7L221.4 408.7L221.7 409.7L222 410.7L222.2 411.7L222.5 412.7L222.7 413.7L223 415.6L223.2 416.7L223.5 418.7L223.8 420.7L224 422.5L224.2 423.7L224.2 425.7L224.1 427.7L223.8 429.7L223.5 431.7L223.1 433.7L222.8 435.7L222.4 437.7L222.1 438.7L221.7 439.7L221.4 440.7L221 441.6L220.6 442.7L220.2 443.7L219.8 444.7L219.4 445.7L219 446.6L218.5 447.7L218 448.7L217.5 449.7L217 450.5L216.2 451.7L215.4 452.7L215 451.7L215 449.7L215 447.7L215 445.7L215 443.7L215 441.7L215 439.7L215 437.7L215 435.7L215 433.7L215 431.7L215 429.7L215 427.7L215 425.7L215 423.7L215 421.7L215 419.7L215 417.7L215 415.7L215 413.7L215 411.7L215 409.7L215 407.7L215 405.7L215 403.7L215 401.7L215 399.7L215 397.7L215 395.7L215 393.7L215 391.7L215 389.7L215 387.7L215 385.7L215 383.7L215 381.7L215 379.7L215 377.7L215 375.7L215 373.7L215 371.7L215 369.7L215 367.7L215 365.7L215.4 364.7L216 364L216.7 362.7L217.2 361.7L217.7 360.7L218.1 359.7L218.5 358.7L218.9 357.7L219.2 356.7L219.4 355.7L219.6 354.7L219.9 353.7L220.1 352.7L220.3 351.7L220.6 350.7L220.8 349.7L221 348.3L221.3 346.7L221.5 344.7L221.8 342.7L222 341.2L222.3 339.7L222.4 338.7L222.7 337.7L223.1 336.7L223.6 335.7L224 334.8L224.7 333.7L225.6 332.7L227 331.9L228 331.7L230 331.5L232 331.5L234 331.5L236 331.5L238 331.5L240 331.6L242 331.8L244 332L246 332.3L248 332.6L250 333L252.1 333.4L253.1 333.6L254.1 333.8L255.1 334L256.1 334.2L258.1 334.6L260.1 334.8L262.1 334.7L264.1 334.3L265.1 334L266.1 333.6L267.1 333L268.1 332.2L268.7 331.7L269.6 330.6L270.3 329.6L270.9 328.6L271.3 327.6L271.7 326.6L272 325.6L272.4 324.6L272.6 323.6L272.9 322.6L273.1 321.2L273.2 319.6L273.3 317.6L273.4 315.6L273.6 313.6L273.7 311.6L273.8 309.6L274 307.6L274.2 305.6L274.4 303.6L274.6 301.6L274.9 299.6L275.1 297.6L275.2 295.6L275.4 293.6L275.6 291.6L275.7 289.6L275.9 287.6L276.1 285.9L276.3 284.6L276.6 282.6L276.8 281.6L277.1 280.6L277.3 279.6L277.5 278.6L277.7 277.6L277.9 276.6L278.2 275.6L278.4 274.6L278.6 273.6L278.9 271.6L279.1 270.1L279.2 268.6L279.5 266.6L279.7 264.6L279.9 262.6L280.1 260.6L280.2 258.6L280.4 256.6L280.5 254.6L280.7 252.6L280.8 250.6L281 248.6L281.4 246.6L281.8 245.6L282.4 244.6L283.1 243.9L284.1 243.2L285.1 242.8L286.1 242.6Z" fill="#22EE11" stroke="#22EE11" stroke-width=".4" fill-rule="evenodd"/>
<path d="M282.1 214.5L283.1 214.2L285.1 213.9L287.1 213.9L289.1 214.1L291.1 214.3L293.1 214.5L295.1 214.7L297.1 215.1L298.1 215.3L299 215.6L300.1 216L301.1 216.4L302.1 216.8L303.1 217.2L304.1 217.6L305.1 218L306.1 218.4L307.1 218.8L308.1 219.2L309 219.6L310.1 220.2L311.1 220.8L312.1 221.6L313.1 222.3L314.1 223.1L315.1 223.9L316 224.6L317.1 225.6L318.1 226.5L319.1 227.5L320.1 228.5L321.1 229.5L322.1 230.5L323.1 231.6L324.1 232.6L325 233.6L325.8 234.6L326.5 235.6L327.2 236.5L327.9 237.6L328.6 238.6L329.2 239.4L330 240.6L330.7 241.6L331.5 242.6L332.2 243.5L333 244.6L333.8 245.6L334.5 246.6L335.2 247.4L336.1 248.6L336.9 249.6L337.7 250.6L338.5 251.6L339.2 252.5L340.1 253.6L341.1 254.6L342.2 255.6L343.2 256.4L344.2 257.2L345.2 257.9L346.2 258.6L347.2 259.3L348.2 260.1L349.2 260.9L350 261.6L351.1 262.6L352.2 263.5L353.2 264.3L354.2 264.9L355.2 265.5L356.2 266L357.2 266.4L358.2 266.8L359.2 267.3L360.1 267.6L361.2 268L362.2 268.4L363.2 268.7L365.2 269L367.2 269.2L369.2 269.4L371.2 269.6L373.2 269.8L375.2 270L377.2 270.1L379.2 270.2L381.2 270.3L383.2 270.4L385.2 270.5L387 270.6L388.2 270.8L390.2 271.1L392.2 271.5L394.2 271.8L395.2 272.1L396.2 272.4L397.3 272.8L398.3 273.3L399.3 274.1L399.9 274.6L400.9 275.6L401.7 276.6L402.3 277.5L402.7 278.6L402.9 279.6L403.1 281.6L403.2 283.6L403.2 285.6L403.2 287.6L403.1 289.6L403 291.6L402.9 293.6L402.9 295.6L402.9 297.6L403 299.6L403.3 301.5L403.6 302.6L404 303.6L404.5 304.6L405.1 305.6L405.8 306.6L406.8 307.6L408.3 308.4L409.3 308.8L410.3 309L412.3 309.2L414.3 309.2L416.3 309.1L418.3 309L420.3 308.8L422.3 308.7L424.3 308.5L426.3 308.2L428.3 308L430.3 307.7L432.3 307.4L434.3 307.1L435.3 306.8L436.3 306.5L437.3 306.1L438.3 305.7L439.3 305.2L440.3 304.8L441.3 304.3L442.3 303.9L443.3 303.4L444.3 302.8L445.3 302.2L446 301.6L447.2 300.6L448.2 299.6L449.2 298.6L450.2 297.6L451.2 296.6L452.2 295.6L453 294.6L453.8 293.6L454.3 292.8L455.1 291.6L455.8 290.6L456.3 289.8L457.1 288.6L457.9 287.6L458.7 286.6L459.3 285.8L460.3 284.7L461.3 283.6L462.2 282.6L463.2 281.6L464.3 280.7L465.3 280.1L466.3 279.7L467.3 279.3L468.3 278.9L469.4 278.5L470.4 278.1L471.4 277.7L472.4 277.4L474.4 277.1L476.4 277L478.4 277.1L480.4 277.3L481.4 277.5L482.4 277.8L483.4 278.1L484.4 278.5L485.4 278.8L486.4 279.2L487.4 279.5L488.4 279.9L489.4 280.3L490.4 280.9L491.4 281.5L492.4 282.3L493.4 283.1L494.1 283.6L495.3 284.6L496.4 285.5L497.4 286.3L498.4 287.1L499.4 288L500.1 288.6L501 289.6L501.8 290.6L502.4 291.3L503.4 292.6L504.2 293.6L504.9 294.6L505.7 295.6L506.4 296.5L507.3 297.6L508 298.6L508.8 299.6L509.4 300.5L510.2 301.6L510.8 302.6L511.4 303.5L512.2 304.6L512.8 305.6L513.4 306.5L514.2 307.6L514.8 308.6L515.4 309.6L516.1 310.6L516.7 311.6L517.3 312.6L517.9 313.6L518.4 314.6L519 315.6L519.6 316.6L520.2 317.6L520.7 318.6L521.3 319.6L521.8 320.6L522.4 321.6L522.9 322.6L523.4 323.6L523.9 324.6L524.3 325.6L524.8 326.6L525.2 327.6L525.6 328.6L526.1 329.6L526.5 330.6L527 331.7L527.4 332.7L527.9 333.7L528.3 334.7L528.8 335.7L529.2 336.7L529.6 337.7L530.1 338.7L530.5 339.7L531 340.7L531.4 341.7L531.9 342.7L532.3 343.7L532.9 344.7L533.4 345.5L534.4 346.6L535.4 347.6L536.4 348.6L537.4 349.6L538.4 350.6L539.4 351.5L540.4 352.2L541.2 352.7L542.5 353.3L543.4 353.7L544.5 354.1L545.5 354.4L546.5 354.7L547.5 355.1L548.5 355.4L549.5 355.7L551.3 355.7L552.5 355.4L553.5 355L554.5 354.6L555.5 354.1L556.2 353.7L557.5 352.7L558.5 351.8L559.5 350.9L560.5 349.9L561.5 349L562.5 348.1L563.5 347.2L564.5 346.3L565.2 345.7L566.3 344.7L567.5 343.7L568.5 342.8L569.5 342L570.5 341.4L571.5 340.8L572.5 340.3L573.5 339.9L574.5 339.5L575.5 339.1L576.5 338.7L577.5 338.4L577.5 339.7L577.5 341.7L577.5 343.7L577.5 345.7L577.5 347.7L577.5 349.7L577.5 351.7L577.5 353.7L577.5 355.7L577.5 357.7L577.5 359.7L576.5 360.5L575.5 361.5L574.5 362.7L573.6 363.7L572.7 364.7L571.8 365.7L571 366.7L570.1 367.7L569.5 368.4L568.5 369.6L567.6 370.7L566.7 371.7L565.9 372.7L565 373.7L564.1 374.7L563.5 375.4L562.5 376.5L561.5 377.6L560.5 378.6L559.5 379.6L558.5 380.7L557.5 381.7L556.5 382.7L555.7 383.7L554.9 384.7L554.2 385.7L553.5 386.7L552.8 387.7L552.1 388.7L551.5 389.6L550.7 390.7L549.8 391.7L548.7 392.7L547.5 393.5L546.5 394L545.5 394.3L544.5 394.5L542.5 394.7L540.6 394.7L539.4 394.5L538.4 394.3L537.4 394L536.4 393.8L535.4 393.4L534.4 393L533.4 392.2L532.4 391.1L531.4 389.8L530.7 388.7L530.3 387.7L530 386.7L529.7 385.7L529.4 384.7L529.1 383.7L528.9 382.7L528.6 381.7L528.3 380.7L528 379.7L527.6 378.7L527.2 377.7L526.9 376.7L526.5 375.7L526.1 374.7L525.7 373.7L525.2 372.7L524.7 371.7L524.1 370.7L523.5 369.7L522.8 368.7L522.2 367.7L521.6 366.7L520.9 365.7L520.4 364.8L519.7 363.7L519.1 362.7L518.4 361.7L517.9 360.7L517.4 359.9L516.7 358.7L516.2 357.7L515.7 356.7L515.3 355.7L514.8 354.7L514.3 353.7L513.9 352.7L513.4 351.7L513 350.7L512.5 349.7L512.1 348.7L511.6 347.7L511.1 346.7L510.7 345.7L510.2 344.7L509.7 343.7L509.2 342.7L508.7 341.7L508.2 340.7L507.7 339.7L507.2 338.7L506.7 337.7L506.2 336.7L505.7 335.7L505.2 334.7L504.6 333.7L504.1 332.7L503.5 331.7L503 330.6L502.4 329.6L501.9 328.6L501.4 327.8L500.7 326.6L500 325.6L499.4 324.9L498.4 323.9L497.4 323.2L496.4 322.6L495.4 322.2L494.4 321.8L493.4 321.5L492.4 321.1L491.4 320.8L490.4 320.4L489.4 320.1L488.4 319.8L487.4 319.4L486.4 319.1L485.4 318.9L484.4 318.7L482.4 318.4L480.4 318.2L478.4 318L476.4 317.9L474.4 317.7L472.4 317.7L470.4 317.9L468.3 318.2L466.3 318.5L464.3 318.8L462.3 319.1L460.3 319.5L459.3 319.8L458.3 320L457.3 320.3L456.3 320.6L455.3 320.9L454.3 321.2L453.3 321.5L452.3 321.8L451.3 322.1L450.3 322.4L449.3 322.6L448.3 322.9L447.3 323.1L446.3 323.3L444.3 323.6L442.3 324L440.3 324.3L438.3 324.6L436.3 324.9L434.3 325L432.3 325L430.3 324.9L428.3 324.8L426.3 324.7L424.3 324.5L422.3 324.4L420.3 324.2L418.3 324L416.3 323.7L414.3 323.5L412.3 323.3L410.3 323.1L408.3 323L406.3 322.9L404.3 322.8L402.3 322.7L400.3 322.7L398.3 322.5L396.2 322.2L395.2 322L394.2 321.7L393.2 321.5L392.2 321.2L391.2 320.9L390.2 320.7L389.2 320.4L388.2 320L387.4 319.6L386.2 319.1L385.4 318.6L384.2 318L383.2 317.3L382.2 316.7L381.2 315.7L380.5 314.6L379.9 313.6L379.5 312.6L379 311.6L378.6 310.6L378.2 309.7L377.9 308.6L377.6 307.6L377.3 306.6L377 305.6L376.7 304.6L376.3 303.6L375.9 302.6L375.2 301.6L374.4 300.6L373.4 299.6L372.3 298.6L371.2 297.8L370.2 297.3L369.2 296.8L368.2 296.4L367.2 296.1L366.2 295.7L365.2 295.3L364.2 295L363.2 294.6L362.2 294.3L361.2 293.9L360.3 293.6L359.2 293.3L358.2 293L357.2 292.6L356.2 292.3L355.2 292L354.2 291.6L353.2 291.3L352.2 290.9L351.2 290.6L350.2 290.1L349.2 289.7L348.2 289.2L347.2 288.8L346.2 288.3L345.2 287.9L344.2 287.4L343.2 286.9L342.2 286.4L341.2 285.9L340.2 285.4L339.2 284.8L338.2 284.2L337.2 283.7L336.2 283.1L335.2 282.5L334.2 281.9L333.2 281.2L332.4 280.6L331.2 279.6L330.2 278.7L329.2 277.8L328.2 276.9L327.2 275.9L326.2 274.7L325.5 273.6L325 272.6L324.6 271.6L324.2 270.8L323.6 269.6L323.1 268.7L322.6 267.6L322.1 266.8L321.5 265.6L320.9 264.6L320.3 263.6L319.7 262.6L319.1 261.6L318.6 260.6L318.1 259.8L317.6 258.6L317.2 257.6L316.8 256.6L316.4 255.6L315.9 254.6L315.5 253.6L314.9 252.6L314.3 251.6L313.6 250.6L312.9 249.6L312.1 248.6L311.3 247.6L310.4 246.6L309.1 245.7L308.1 245.2L307.1 244.8L306.1 244.4L305.1 244L304.1 243.7L303.1 243.4L302.1 243.1L300.1 242.8L298.3 242.6L297.1 242.5L295.1 242.3L293.1 242.2L291.1 242.2L289.1 242.3L287.1 242.5L285.1 242.8L284.1 243.2L283.1 243.9L282.4 244.6L281.8 245.6L281.4 246.6L281.2 247.6L280.9 249.6L280.7 251.6L280.6 253.6L280.5 255.6L280.3 257.6L280.2 259.6L280 261.6L279.8 263.6L279.6 265.6L279.4 267.6L279.1 269.6L278.9 271.6L278.6 273.6L278.4 274.6L278.2 275.6L277.9 276.6L277.7 277.6L277.5 278.6L277.3 279.6L277.1 280.6L276.8 281.6L276.6 282.6L276.3 284.6L276.1 285.9L275.9 287.6L275.7 289.6L275.6 291.6L275.4 293.6L275.2 295.6L275.1 297.3L275 298.6L274.8 300.6L274.5 302.6L274.3 304.6L274.1 306.6L273.9 308.6L273.8 310.6L273.6 312.6L273.5 314.6L273.4 316.6L273.3 318.6L273.1 320.6L272.9 322.6L272.6 323.6L272.4 324.6L272 325.6L271.7 326.6L271.3 327.6L270.9 328.6L270.3 329.6L269.6 330.6L268.7 331.7L268.1 332.2L267.1 333L266.1 333.6L265.1 334L264.1 334.3L263.1 334.6L261.1 334.8L259.1 334.7L257.1 334.4L255.1 334L254.1 333.8L253.1 333.6L252.1 333.4L251 333.2L249 332.8L247 332.5L245 332.2L243 331.9L241 331.7L239 331.6L237 331.5L235 331.5L233 331.5L231 331.5L229 331.6L227 331.9L226 332.3L225 333.3L224.1 334.7L223.6 335.7L223.1 336.7L222.7 337.7L222.4 338.7L222.3 339.7L222 341.2L221.8 342.7L221.5 344.7L221.3 346.7L221 348.3L220.8 349.7L220.6 350.7L220.3 351.7L220.1 352.7L219.9 353.7L219.6 354.7L219.4 355.7L219.2 356.7L218.9 357.7L218.5 358.7L218.1 359.7L217.7 360.7L217.2 361.7L216.7 362.7L216.2 363.7L215.4 364.7L215 363.7L215 361.7L215 359.7L215 357.7L215 355.7L215 353.7L215 351.7L215 349.7L215 347.7L215 345.7L215 343.7L215 341.7L215 339.7L215 337.7L215 335.7L215 333.7L215 331.7L215 329.6L215 327.6L215 325.6L215 323.6L215 321.6L215 319.6L215 317.6L215 315.6L215 313.6L215 311.6L215 309.6L215 307.6L215 305.6L215 303.6L215 301.6L215 299.6L215 297.6L215 295.6L216 295L218 294.8L219.8 294.6L221 294.6L223 294.5L225 294.4L227 294.4L229 294.4L231 294.4L233 294.4L235 294.3L237 294.1L239 293.9L240.6 293.6L242 293.4L244 293.1L246 292.9L247.6 292.6L249 292.4L250 292.2L251 291.9L252.1 291.5L253.1 291.1L254 290.6L255.1 290.1L256 289.6L257.1 289.1L257.9 288.6L259.1 287.9L260.1 287L261.1 285.9L262 284.6L262.7 283.6L263.4 282.6L264.1 281.6L264.7 280.6L265.3 279.6L265.9 278.6L266.3 277.6L266.7 276.6L267 275.6L267.3 274.6L267.6 273.6L267.9 272.6L268.2 271.6L268.4 270.6L268.6 268.6L268.5 266.6L268.4 264.6L268.2 262.6L268.1 261.3L267.7 259.6L267.4 258.6L267.1 257.6L266.7 256.6L266.3 255.6L265.9 254.6L265.5 253.6L265.1 252.6L264.7 251.6L264.3 250.6L263.9 249.6L263.5 248.6L263.1 247.6L262.7 246.6L262.3 245.6L261.9 244.6L261.5 243.6L261.1 242.6L260.7 241.6L260.3 240.6L260 239.6L259.7 238.6L259.4 236.6L259.4 234.6L259.5 232.6L259.9 230.6L260.2 229.6L260.7 228.6L261.1 227.8L261.6 226.6L262.1 225.8L262.7 224.6L263.4 223.6L264.1 222.8L265.1 221.8L266.1 221.1L267.1 220.4L268.1 219.8L269.1 219.2L270 218.6L271.1 218L272.1 217.4L273.1 217L274.1 216.6L275.1 216.3L276.1 216L277.1 215.8L278.1 215.5L279.1 215.3L280.1 215L281.1 214.7Z" fill="#99FF00" stroke="#99FF00" stroke-width=".4" fill-rule="evenodd"/>
<path d="M247 196L248 195.6L250 195.6L252.1 195.6L254.1 195.6L256.1 195.6L258.1 195.6L260.1 195.6L262.1 195.6L264.1 195.6L266.1 195.6L268.1 195.6L270.1 195.6L272.1 195.6L274.1 195.6L276.1 195.6L278.1 195.6L280.1 195.6L282.1 195.6L284.1 195.6L286.1 195.6L288.1 195.6L290.1 195.6L292.1 195.6L294.1 195.6L296.1 195.6L298.1 195.6L300.1 195.6L302.1 195.6L304.1 195.6L306.1 195.6L308.1 195.6L310.1 195.6L312.1 195.6L314.1 195.6L316.1 195.6L318.1 195.6L320.1 195.6L322.1 195.6L324.2 195.6L326.2 195.6L328.2 195.6L330.2 195.6L332.2 195.6L334.2 195.6L336.2 195.6L338.2 195.6L340.2 195.6L342.2 195.6L344.2 195.6L346.2 195.6L348.2 195.6L350.2 195.6L352.2 195.6L354.2 195.6L356.2 195.6L358.2 195.6L360.2 195.6L360.8 196.6L360.9 198.6L361 200.6L361 202.6L361.1 204.6L361.2 206.6L361.2 207.8L361.3 209.6L361.5 211.6L361.7 213.6L361.9 215.6L362.1 217.6L362.2 219.1L362.3 220.6L362.6 222.6L362.9 224.6L363.2 226.2L363.6 227.6L363.9 228.6L364.3 229.6L364.6 230.6L365.1 231.6L365.9 232.6L367 233.6L368.2 234.6L369.2 235.2L370.2 235.9L371.2 236.5L372.2 237L373.2 237.4L374.2 237.6L375.2 237.8L377.2 238.1L379.2 238.3L381.2 238.5L383.2 238.8L385.2 238.9L387.2 238.9L389.2 238.9L391.2 238.9L393.2 238.8L395.2 238.8L397.3 238.8L399.3 238.9L401.3 239.1L403.3 239.3L405.3 239.5L406.6 239.6L408.3 239.8L410.3 240.1L412.3 240.4L413.3 240.6L415.3 241L416.3 241.2L417.3 241.4L418.3 241.6L419.3 241.8L420.3 242L421.3 242.2L422.3 242.4L423.3 242.6L424.3 242.8L425.3 243L426.3 243.2L427.3 243.4L428.3 243.6L429.3 243.8L430.3 244L431.3 244.2L433.3 244.6L435.3 244.9L437.3 245L439.3 245L441.3 245L443.3 245L445.3 245L447.3 245L449.3 244.9L451.3 244.7L453.3 244.5L455.3 244.2L457.3 244L459.3 243.8L461.3 243.7L463.3 243.7L465.3 243.7L467.3 243.7L469.4 243.7L471.4 243.7L473.4 243.9L475.4 244.2L477.4 244.5L479.4 244.9L481.4 245.3L483.2 245.6L484.4 245.9L485.4 246.2L486.3 246.6L487.4 247.1L488.4 247.6L489.4 248.1L490.4 248.6L491.4 249.1L492.3 249.6L493.4 250.2L494.3 250.6L495.4 251.2L496.2 251.6L497.4 252.3L498.4 252.8L499.4 253.4L500.4 254L501.4 254.6L502.4 255.2L503.4 255.8L504.4 256.4L505.4 257L506.4 257.6L507.4 258.2L508.4 258.8L509.4 259.5L510.4 260.2L511.4 261.1L512.4 262L513 262.6L514 263.6L515 264.6L516 265.6L517 266.6L518 267.6L518.9 268.6L519.8 269.6L520.4 270.3L521.4 271.5L522.4 272.6L523.3 273.6L524.2 274.6L525 275.6L525.7 276.6L526.3 277.6L526.8 278.6L527.3 279.6L527.8 280.6L528.4 281.6L528.9 282.6L529.4 283.6L529.9 284.6L530.4 285.6L530.9 286.6L531.4 287.6L531.9 288.6L532.3 289.6L532.7 290.6L533.1 291.6L533.4 292.5L533.9 293.6L534.3 294.6L534.7 295.6L535.1 296.6L535.4 297.5L535.9 298.6L536.3 299.6L536.7 300.6L537 301.6L537.4 302.6L537.8 303.6L538.1 304.6L538.5 305.6L538.8 306.6L539.2 307.6L539.6 308.6L540 309.6L540.4 310.6L540.8 311.6L541.3 312.6L541.8 313.6L542.3 314.6L542.8 315.6L543.3 316.6L543.8 317.6L544.2 318.6L544.8 319.6L545.4 320.6L546.3 321.6L547.4 322.6L548.5 323.5L549.5 324.3L550.5 325.1L551.2 325.6L552.5 326.5L553.5 326.9L554.5 327.1L555.5 327.3L557.5 327.6L559.5 327.8L561.5 327.8L563.5 327.3L564.5 327L565.5 326.7L566.5 326.4L567.5 326L568.5 325.7L569.5 325.3L570.5 324.9L571.5 324.4L572.5 323.8L573.5 323.3L574.5 322.7L575.5 322.1L576.3 321.6L577.5 321.2L577.5 322.6L577.5 324.6L577.5 326.6L577.5 328.6L577.5 330.6L577.5 332.7L577.5 334.7L577.5 336.7L577.5 338.4L576.5 338.7L575.5 339.1L574.5 339.5L573.5 339.9L572.5 340.3L571.5 340.8L570.5 341.4L569.5 342L568.7 342.7L567.5 343.6L566.5 344.5L565.5 345.4L564.5 346.3L563.5 347.2L562.5 348.1L561.8 348.7L560.8 349.7L559.7 350.7L558.7 351.7L557.6 352.7L556.5 353.5L555.5 354.1L554.5 354.6L553.5 355L552.5 355.4L551.5 355.6L549.5 355.7L548.5 355.4L547.5 355.1L546.5 354.7L545.5 354.4L544.5 354.1L543.5 353.7L542.5 353.3L541.5 352.8L540.4 352.2L539.7 351.7L538.5 350.7L537.5 349.7L536.5 348.7L535.5 347.7L534.5 346.7L533.6 345.7L532.9 344.7L532.4 343.9L531.9 342.7L531.4 341.7L531 340.7L530.5 339.7L530.1 338.7L529.6 337.7L529.2 336.7L528.8 335.7L528.3 334.7L527.9 333.7L527.4 332.7L527 331.7L526.5 330.6L526.1 329.6L525.6 328.6L525.2 327.6L524.8 326.6L524.3 325.6L523.9 324.6L523.4 323.7L522.9 322.6L522.4 321.7L521.8 320.6L521.3 319.6L520.7 318.6L520.2 317.6L519.6 316.6L519 315.6L518.5 314.6L517.9 313.6L517.4 312.8L516.7 311.6L516.1 310.6L515.5 309.6L514.8 308.6L514.2 307.6L513.5 306.6L512.8 305.6L512.2 304.6L511.5 303.6L510.8 302.6L510.2 301.6L509.5 300.6L508.8 299.6L508 298.6L507.4 297.8L506.5 296.6L505.7 295.6L504.9 294.6L504.4 293.9L503.4 292.6L502.6 291.6L501.8 290.6L501 289.6L500.4 289L499.4 288L498.4 287.1L497.4 286.3L496.6 285.6L495.4 284.7L494.4 283.9L493.4 283.1L492.4 282.3L491.6 281.6L490.4 280.9L489.4 280.3L488.4 279.9L487.4 279.5L486.4 279.2L485.4 278.8L484.4 278.5L483.4 278.1L482.4 277.8L481.4 277.5L480.4 277.3L478.4 277.1L476.4 277L474.4 277.1L472.4 277.4L471.4 277.7L470.4 278.1L469.4 278.5L468.3 278.9L467.3 279.3L466.5 279.6L465.3 280.1L464.5 280.6L463.3 281.5L462.3 282.5L461.3 283.6L460.4 284.6L459.5 285.6L458.7 286.6L457.9 287.6L457.3 288.3L456.4 289.6L455.8 290.6L455.1 291.6L454.5 292.6L453.8 293.6L453 294.6L452.3 295.5L451.3 296.5L450.3 297.5L449.3 298.6L448.3 299.6L447.3 300.5L446.3 301.4L445.3 302.2L444.3 302.8L443.3 303.4L442.3 303.9L441.3 304.3L440.3 304.8L439.3 305.2L438.4 305.6L437.3 306.1L436.3 306.5L435.3 306.8L434.3 307.1L432.3 307.4L430.7 307.6L429.3 307.8L427.3 308.1L425.3 308.4L423.3 308.6L421.3 308.8L419.3 308.9L417.3 309L415.3 309.1L413.3 309.2L411.3 309.1L409.3 308.8L408.3 308.4L407.3 307.9L406.3 307.2L405.3 305.9L404.5 304.6L404 303.6L403.6 302.6L403.3 301.6L403 299.6L402.9 297.6L402.9 295.6L402.9 293.6L403 291.6L403.1 289.6L403.2 287.6L403.2 285.6L403.2 283.6L403.1 281.6L402.9 279.6L402.7 278.6L402.3 277.6L401.7 276.6L400.9 275.6L400.3 275L399.3 274.1L398.3 273.3L397.3 272.8L396.2 272.4L395.2 272.1L394.2 271.8L393.1 271.6L391.2 271.3L389.2 270.9L387.2 270.6L385.2 270.5L383.2 270.4L381.2 270.3L379.2 270.2L377.2 270.1L375.2 270L373.2 269.8L371.3 269.6L370.2 269.5L368.2 269.3L366.2 269.1L364.2 268.9L363.1 268.6L361.2 268L360.2 267.7L359.2 267.3L358.2 266.8L357.2 266.4L356.2 266L355.2 265.5L354.2 264.9L353.2 264.3L352.3 263.6L351.2 262.7L350.2 261.8L349.2 260.9L348.2 260.1L347.2 259.3L346.2 258.6L345.2 257.9L344.2 257.2L343.4 256.6L342.2 255.6L341.2 254.7L340.2 253.7L339.3 252.6L338.5 251.6L337.7 250.6L336.9 249.6L336.2 248.7L335.3 247.6L334.5 246.6L333.8 245.6L333.2 244.8L332.2 243.6L331.5 242.6L330.7 241.6L330.2 240.8L329.3 239.6L328.6 238.6L327.9 237.6L327.2 236.6L326.5 235.6L325.8 234.6L325.2 233.8L324.2 232.6L323.2 231.6L322.2 230.6L321.3 229.6L320.3 228.6L319.3 227.6L318.3 226.6L317.2 225.6L316.1 224.7L315.1 223.9L314.1 223.1L313.1 222.3L312.2 221.6L311.1 220.8L310.1 220.2L309.1 219.7L308.1 219.2L307.1 218.8L306.1 218.4L305.1 218L304.2 217.6L303.1 217.2L302.1 216.8L301.1 216.4L300.1 216L299.1 215.6L298.1 215.3L297.1 215.1L295.1 214.7L293.1 214.5L291.1 214.3L289.1 214.1L287.1 213.9L285.1 213.9L283.1 214.2L282.1 214.5L281.1 214.7L280.1 215L279.1 215.3L278.1 215.5L277.1 215.8L276.1 216L275.1 216.3L274.1 216.6L273.1 217L272.1 217.4L271.1 218L270.1 218.5L269.1 219.2L268.1 219.8L267.1 220.4L266.1 221.1L265.3 221.6L264.2 222.6L263.4 223.6L262.7 224.6L262.2 225.6L261.6 226.6L261.1 227.6L260.7 228.6L260.2 229.6L259.9 230.6L259.6 231.6L259.4 233.6L259.4 235.6L259.5 237.6L260 239.6L260.3 240.6L260.7 241.6L261.1 242.6L261.5 243.6L261.9 244.6L262.3 245.6L262.7 246.6L263.1 247.6L263.5 248.6L263.9 249.6L264.3 250.6L264.7 251.6L265.1 252.5L265.5 253.6L265.9 254.6L266.3 255.6L266.7 256.6L267.1 257.6L267.4 258.6L267.7 259.6L268 260.6L268.2 262.6L268.4 264.6L268.5 266.6L268.6 268.6L268.4 270.6L268.2 271.6L267.9 272.6L267.6 273.6L267.3 274.6L267 275.6L266.7 276.6L266.3 277.6L265.9 278.6L265.3 279.6L264.7 280.6L264.1 281.6L263.4 282.6L262.7 283.6L262.1 284.6L261.3 285.6L260.4 286.6L259.4 287.6L258.1 288.6L257.1 289.1L256.1 289.6L255.1 290.1L254.1 290.6L253.1 291.1L252.1 291.5L251 291.9L250 292.2L249 292.4L247.6 292.6L246 292.9L244 293.1L242 293.4L240.6 293.6L239 293.9L237 294.1L235 294.3L233 294.4L231 294.4L229 294.4L227 294.4L225 294.4L223 294.5L221 294.6L219.8 294.6L218 294.8L216 295L215 294.6L215 292.6L215 290.6L215 288.6L215 286.6L215 284.6L215 282.6L215 280.6L215 278.6L215 276.6L215 274.6L215 272.6L215 270.6L215 268.6L215 266.6L215 264.6L215 262.6L215 260.6L215 258.6L215 256.6L215 254.6L215 252.6L215 250.6L215 248.6L215 246.6L215 244.6L215 243.3L215.9 242.6L216.9 241.6L217.9 240.6L218.7 239.6L219.6 238.6L220.5 237.6L221.4 236.6L222 235.9L223 234.8L224 233.6L224.8 232.6L225.5 231.6L226 230.8L226.8 229.6L227.4 228.6L228 227.6L228.5 226.6L229 225.8L229.7 224.6L230.3 223.6L231 222.6L231.5 221.6L232 220.8L232.7 219.6L233.2 218.6L233.8 217.6L234.3 216.6L234.9 215.6L235.4 214.6L235.9 213.6L236.5 212.6L237 211.6L237.5 210.6L238 209.7L238.6 208.6L239.2 207.6L239.7 206.6L240.4 205.6L241 204.6L241.7 203.6L242.5 202.6L243 201.8L243.9 200.6L244.6 199.6L245.4 198.6L246 197.6L246.8 196.6Z" fill="#DDFF00" stroke="#DDFF00" stroke-width=".4" fill-rule="evenodd"/>
<path d="M216 195.6L218 195.6L220 195.6L222 195.6L224 195.6L226 195.6L228 195.6L230 195.6L232 195.6L234 195.6L236 195.6L238 195.6L240 195.6L242 195.6L244 195.6L246 195.6L247.2 195.6L246.8 196.6L246.1 197.6L245.4 198.6L244.6 199.6L244 200.4L243.2 201.6L242.5 202.6L241.7 203.6L241 204.6L240.4 205.6L239.7 206.6L239.2 207.6L238.6 208.6L238.1 209.6L237.5 210.6L237 211.6L236.5 212.6L236 213.4L235.4 214.6L234.9 215.6L234.3 216.6L233.8 217.6L233.2 218.6L232.7 219.6L232.1 220.6L231.5 221.6L231 222.5L230.3 223.6L229.7 224.6L229.1 225.6L228.5 226.6L228 227.5L227.4 228.6L226.8 229.6L226.1 230.6L225.5 231.6L224.8 232.6L224 233.6L223.1 234.6L222.3 235.6L221.4 236.6L220.5 237.6L219.6 238.6L219 239.3L218 240.4L217 241.6L216 242.6L215 243.3L215 241.6L215 239.6L215 237.6L215 235.6L215 233.6L215 231.6L215 229.6L215 227.6L215 225.6L215 223.6L215 221.6L215 219.6L215 217.6L215 215.6L215 213.6L215 211.6L215 209.6L215 207.6L215 205.6L215 203.6L215 201.6L215 199.6L215 197.6L215 195.6ZM361.2 195.6L363.2 195.6L365.2 195.6L367.2 195.6L369.2 195.6L371.2 195.6L373.2 195.6L375.2 195.6L377.2 195.6L379.2 195.6L381.2 195.6L383.2 195.6L385.2 195.6L387.2 195.6L389.2 195.6L391.2 195.6L393.2 195.6L395.2 195.6L397.3 195.6L399.3 195.6L401.3 195.6L403.3 195.6L405.3 195.6L407.3 195.6L409.3 195.6L411.3 195.6L413.3 195.6L415.3 195.6L417.3 195.6L419.3 195.6L421.3 195.6L423.3 195.6L425.3 195.6L427.3 195.6L429.3 195.6L431.3 195.6L433.3 195.6L435.3 195.6L437.3 195.6L439.3 195.6L441.3 195.6L443.3 195.6L445.3 195.6L447.3 195.6L449.3 195.6L451.3 195.6L453.3 195.6L455.3 195.6L457.3 195.6L459.3 195.6L461.3 195.6L463.3 195.6L465.3 195.6L467.3 195.6L469.4 195.6L471.4 195.6L473.4 195.6L475.4 195.6L477.4 195.6L479.4 195.6L481.4 195.6L483.4 195.6L485.4 195.6L487.2 196.6L488.3 197.6L489.4 198.6L490.4 199.4L491.4 200.3L492.4 201.2L493.4 202.1L494.4 202.9L495.1 203.6L496.3 204.6L497.4 205.6L498.4 206.4L499.4 207.3L500.4 208.2L501.4 209.1L502.4 210L503.1 210.6L504.3 211.6L505.4 212.6L506.4 213.5L507.4 214.4L508.4 215.3L509.4 216.1L510.4 217.1L511.4 218L512.1 218.6L513.2 219.6L514.3 220.6L515.3 221.6L516.4 222.6L517.4 223.6L518.4 224.5L519.4 225.4L520.4 226.4L521.4 227.3L522.4 228.3L523.4 229.3L524.4 230.4L525.4 231.5L526.4 232.6L527.4 233.6L528.3 234.6L529.2 235.6L530.1 236.6L531 237.6L531.9 238.6L532.8 239.6L533.4 240.3L534.4 241.4L535.4 242.5L536.4 243.5L537.4 244.5L538.4 245.5L539.4 246.5L540.4 247.5L541.5 248.5L542.5 249.5L543.5 250.5L544.5 251.6L545.4 252.6L546.3 253.6L547.1 254.6L547.9 255.6L548.7 256.6L549.5 257.5L550.4 258.6L551.2 259.6L552 260.6L552.9 261.6L553.5 262.3L554.5 263.5L555.5 264.6L556.3 265.6L557.2 266.6L558 267.6L558.8 268.6L559.5 269.6L560.2 270.6L561 271.6L561.5 272.3L562.4 273.6L563.2 274.6L563.9 275.6L564.5 276.5L565.3 277.6L566 278.6L566.7 279.6L567.4 280.6L568.1 281.6L568.8 282.6L569.5 283.6L570.3 284.6L571.4 285.6L572.5 286.4L573.5 287.1L574.3 287.6L575.5 288.4L576.5 289L577.5 289.4L577.5 291.6L577.5 293.6L577.5 295.6L577.5 297.6L577.5 299.6L577.5 301.6L577.5 303.6L577.5 305.6L577.5 307.6L577.5 309.6L577.5 311.6L577.5 313.6L577.5 315.6L577.5 317.6L577.5 319.6L577.5 321.2L576.5 321.5L575.5 322.1L574.5 322.6L573.5 323.3L572.5 323.8L571.5 324.4L570.5 324.9L569.5 325.3L568.6 325.6L567.5 326L566.5 326.4L565.5 326.7L564.5 327L563.5 327.3L562.5 327.6L560.5 327.9L558.5 327.7L556.5 327.5L554.5 327.1L553.5 326.9L552.5 326.5L551.5 325.9L550.5 325.1L549.5 324.3L548.6 323.6L547.5 322.7L546.5 321.8L545.5 320.7L544.8 319.6L544.2 318.6L543.8 317.6L543.3 316.6L542.8 315.6L542.3 314.6L541.8 313.6L541.3 312.6L540.8 311.6L540.4 310.8L540 309.6L539.6 308.6L539.2 307.6L538.8 306.6L538.5 305.6L538.1 304.6L537.8 303.6L537.4 302.7L537 301.6L536.7 300.6L536.3 299.6L535.9 298.6L535.5 297.6L535.1 296.6L534.7 295.6L534.3 294.6L533.9 293.6L533.5 292.6L533.1 291.6L532.7 290.6L532.3 289.6L531.9 288.6L531.4 287.7L530.9 286.6L530.5 285.6L529.9 284.6L529.4 283.7L528.9 282.6L528.4 281.8L527.8 280.6L527.4 279.8L526.8 278.6L526.3 277.6L525.7 276.6L525 275.6L524.4 274.9L523.4 273.7L522.4 272.6L521.6 271.6L520.7 270.6L519.8 269.6L518.9 268.6L518 267.6L517 266.6L516.4 266L515.4 265L514.4 264L513.4 263L512.4 262L511.4 261.1L510.4 260.2L509.6 259.6L508.4 258.8L507.4 258.2L506.4 257.6L505.4 257L504.4 256.4L503.4 255.8L502.4 255.2L501.4 254.6L500.4 254L499.4 253.4L498.4 252.8L497.4 252.3L496.4 251.7L495.4 251.2L494.4 250.7L493.4 250.2L492.4 249.6L491.4 249.1L490.4 248.6L489.4 248.1L488.5 247.6L487.4 247.1L486.4 246.6L485.4 246.2L484.4 245.9L483.4 245.7L482.4 245.4L480.4 245.1L478.4 244.7L476.4 244.4L474.4 244L472.4 243.8L470.4 243.7L468.3 243.7L466.3 243.7L464.3 243.7L462.3 243.7L460.3 243.8L458.3 243.9L456.3 244.1L454.3 244.4L452.3 244.6L450.3 244.8L448.3 244.9L446.3 245L444.3 245L442.3 245L440.3 245L438.3 245L436.3 245L434.3 244.8L432.3 244.4L430.3 244L429.3 243.8L428.3 243.6L427.3 243.4L426.3 243.2L425.3 243L424.3 242.8L423.3 242.6L422.3 242.4L421.3 242.2L420.3 242L419.3 241.8L418.3 241.6L417.3 241.4L416.3 241.2L415.3 241L413.3 240.6L412.3 240.4L410.3 240.1L408.3 239.8L406.6 239.6L405.3 239.5L403.3 239.3L401.3 239.1L399.3 238.9L397.3 238.8L395.2 238.8L393.2 238.8L391.2 238.9L389.2 238.9L387.2 238.9L385.2 238.9L383.2 238.8L381.8 238.6L380.2 238.4L378.2 238.2L376.2 237.9L374.2 237.6L373.2 237.4L372.2 237L371.2 236.5L370.2 235.9L369.2 235.2L368.3 234.6L367.2 233.8L366.2 232.9L365.2 231.7L364.6 230.6L364.3 229.6L363.9 228.6L363.6 227.6L363.3 226.6L363.1 225.6L362.7 223.6L362.4 221.6L362.2 219.6L362.1 217.6L361.9 215.6L361.7 213.6L361.5 211.6L361.3 209.6L361.2 207.8L361.2 206.6L361.1 204.6L361 202.6L361 200.6L360.9 198.6L360.8 196.6Z" fill="#FFE800" stroke="#FFE800" stroke-width=".4" fill-rule="evenodd"/>
<path d="M487.4 195.6L489.4 195.6L491.4 195.6L493.4 195.6L495.4 195.6L497.4 195.6L499.4 195.6L501.4 195.6L503.4 195.6L505.4 195.6L507.4 195.6L509.4 195.6L511.4 195.6L513.4 195.6L515.4 195.6L517.4 195.6L519.4 195.6L521.4 195.6L523.4 195.6L525.4 195.6L527.4 195.6L529.4 195.6L531.4 195.6L533.4 195.6L535.4 195.6L537.4 195.6L539.4 195.6L541.5 195.6L543.5 195.6L544.4 196.6L545.3 197.6L546.2 198.6L547.1 199.6L548 200.6L548.9 201.6L549.5 202.3L550.5 203.4L551.5 204.5L552.5 205.6L553.4 206.6L554.3 207.6L555.1 208.6L556 209.6L556.9 210.6L557.8 211.6L558.5 212.3L559.5 213.4L560.5 214.6L561.4 215.6L562.3 216.6L563.2 217.6L564 218.6L564.9 219.6L565.5 220.4L566.4 221.6L567.2 222.6L568 223.6L568.8 224.6L569.5 225.5L570.3 226.6L571.1 227.6L571.9 228.6L572.5 229.3L573.5 230.4L574.5 231.3L575.5 232.2L576.5 233L577.5 233.6L577.5 235.6L577.5 237.6L577.5 239.6L577.5 241.6L577.5 243.6L577.5 245.6L577.5 247.6L577.5 249.6L577.5 251.6L577.5 253.6L577.5 255.6L577.5 257.6L577.5 259.6L577.5 261.6L577.5 263.6L577.5 265.6L577.5 267.6L577.5 269.6L577.5 271.6L577.5 273.6L577.5 275.6L577.5 277.6L577.5 279.6L577.5 281.6L577.5 283.6L577.5 285.6L577.5 287.6L577.5 289.4L576.5 289L575.5 288.4L574.5 287.8L573.5 287.1L572.5 286.4L571.5 285.7L570.5 284.8L569.5 283.6L568.8 282.6L568.1 281.6L567.5 280.8L566.7 279.6L566 278.6L565.5 277.9L564.6 276.6L563.9 275.6L563.2 274.6L562.5 273.7L561.7 272.6L561 271.6L560.2 270.6L559.5 269.6L558.8 268.6L558 267.6L557.2 266.6L556.5 265.8L555.5 264.6L554.6 263.6L553.7 262.6L552.9 261.6L552 260.6L551.2 259.6L550.5 258.8L549.5 257.6L548.7 256.6L547.9 255.6L547.1 254.6L546.5 253.8L545.5 252.7L544.5 251.6L543.5 250.6L542.6 249.6L541.6 248.6L540.6 247.6L539.6 246.6L538.6 245.6L537.6 244.6L536.6 243.6L535.6 242.6L534.6 241.6L533.7 240.6L532.8 239.6L531.9 238.6L531 237.6L530.4 237L529.4 235.9L528.4 234.8L527.4 233.7L526.5 232.6L525.6 231.6L524.7 230.6L523.7 229.6L522.8 228.6L521.8 227.6L520.7 226.6L519.6 225.6L518.5 224.6L517.5 223.6L516.4 222.6L515.4 221.7L514.4 220.8L513.4 219.8L512.4 218.9L511.4 218L510.4 217.1L509.4 216.1L508.4 215.3L507.7 214.6L506.5 213.6L505.4 212.6L504.4 211.7L503.4 210.8L502.4 210L501.4 209.1L500.4 208.2L499.7 207.6L498.6 206.6L497.4 205.6L496.4 204.7L495.4 203.8L494.4 202.9L493.4 202.1L492.4 201.2L491.7 200.6L490.6 199.6L489.4 198.6L488.4 197.7L487.4 196.8L486.4 195.6Z" fill="#FFAA00" stroke="#FFAA00" stroke-width=".4" fill-rule="evenodd"/>
<path d="M544.5 195.6L546.5 195.6L548.5 195.6L550.5 195.6L552.5 195.6L554.5 195.6L556.5 195.6L558.5 195.6L560.5 195.6L562.5 195.6L564.5 195.6L566.5 195.6L568.5 195.6L570.5 195.6L572.5 195.6L574.5 195.6L576.5 195.6L577.5 196.6L577.5 198.6L577.5 200.6L577.5 202.6L577.5 204.6L577.5 206.6L577.5 208.6L577.5 210.6L577.5 212.6L577.5 214.6L577.5 216.6L577.5 218.6L577.5 220.6L577.5 222.6L577.5 224.6L577.5 226.6L577.5 228.6L577.5 230.6L577.5 232.6L576.5 233L575.5 232.2L574.8 231.6L573.7 230.6L572.8 229.6L571.9 228.6L571.1 227.6L570.5 226.8L569.6 225.6L568.8 224.6L568 223.6L567.2 222.6L566.5 221.7L565.7 220.6L564.9 219.6L564 218.6L563.2 217.6L562.5 216.8L561.5 215.7L560.5 214.6L559.6 213.6L558.7 212.6L557.8 211.6L556.9 210.6L556 209.6L555.5 209L554.5 207.8L553.5 206.7L552.5 205.6L551.6 204.6L550.7 203.6L549.8 202.6L548.9 201.6L548 200.6L547.1 199.6L546.5 198.9L545.5 197.8L544.5 196.6L543.8 195.6Z" fill="#FF4D00" stroke="#FF4D00" stroke-width=".4" fill-rule="evenodd"/>
</g>
<g fill="none" stroke="#000" stroke-opacity=".35" stroke-width=".35">
<path d="M577.5 456.7L576.5 457.2L575.7 457.7L574.5 458.5L573.5 459.1L572.6 459.7L571.5 460.5L570.5 461.1L569.5 461.7L568.5 462.3L567.5 463L566.5 463.6L565.5 464.2L564.7 464.7L563.7 465.7M298.1 423.4L297.1 424.2L296.1 425.5L295.6 426.7L295.4 427.7L295.6 429.7L296 430.7L296.7 431.7L297.7 432.7L299.1 433.2L300.1 433L301.1 432.2L302.1 430.9L302.7 429.7L302.9 428.7L302.8 426.7L302.5 425.7L301.9 424.7L301.1 423.8L300.1 423.2Z"/>
<path d="M577.5 439.5L576.5 440.1L575.7 440.7L574.5 441.7L573.5 442.5L572.5 443.4L571.5 444.2L570.5 445L569.6 445.7L568.5 446.6L567.5 447.3L566.5 448.1L565.6 448.7L564.5 449.6L563.5 450.3L562.5 451L561.6 451.7L560.5 452.5L559.5 453.1L558.6 453.7L557.5 454.4L556.5 455L555.5 455.6L554.5 456.2L553.6 456.7L552.5 457.4L551.5 458L550.5 458.6L549.5 459.2L548.6 459.7L547.5 460.3L546.6 460.7L545.5 461.2L544.5 461.7L543.5 462.1L542.5 462.6L541.5 463L540.4 463.5L539.4 463.9L538.4 464.4L537.4 465L536.4 465.7M299.1 413.6L298.1 414L297.1 414.5L296.1 415L295.1 415.6L294.1 416.5L293.2 417.7L292.5 418.7L291.9 419.7L291.4 420.7L290.9 421.7L290.4 422.7L290 423.7L289.7 424.7L289.4 425.7L289.2 426.7L289 428.7L288.9 430.7L288.8 432.7L288.7 434.7L288.8 436.7L289.1 438.3L289.5 439.7L289.7 440.7L290 441.7L290.2 442.7L290.5 443.7L290.8 444.7L291.2 445.7L291.7 446.7L292.3 447.7L293 448.7L293.8 449.7L294.6 450.7L295.1 451.4L296.1 452L298.1 451.9L299.1 451.5L300.1 451.1L301.1 450.5L302.1 449.7L303.1 448.7L303.9 447.7L304.7 446.7L305.4 445.7L306.1 444.8L306.9 443.7L307.6 442.7L308.1 441.7L308.5 440.7L309 439.7L309.3 438.7L309.7 437.7L310 436.7L310.4 435.7L310.7 434.7L311 433.7L311.3 432.7L311.5 431.7L311.8 429.7L311.9 427.7L311.9 425.7L311.9 423.7L311.5 421.7L311.1 420.8L310.3 419.7L309.5 418.7L308.7 417.7L307.7 416.7L307.1 416.1L306.1 415.2L305.3 414.7L304.1 414.1L303.1 413.7L302.1 413.5L300.1 413.4L299.1 413.6"/>
<path d="M577.5 423.7L576.5 424.2L575.7 424.7L574.5 425.5L573.5 426.2L572.7 426.7L571.5 427.5L570.5 428.2L569.7 428.7L568.5 429.5L567.5 430.1L566.6 430.7L565.5 431.4L564.5 432L563.5 432.7L562.5 433.3L561.5 433.9L560.5 434.5L559.5 435.1L558.5 435.6L557.5 436.1L556.5 436.7L555.5 437.2L554.5 437.7L553.5 438.2L552.6 438.7L551.5 439.3L550.6 439.7L549.5 440.3L548.5 440.8L547.5 441.4L546.5 441.9L545.5 442.5L544.5 443L543.5 443.6L542.5 444.2L541.5 444.7L540.4 445.3L539.4 445.8L538.4 446.4L537.4 446.9L536.4 447.5L535.4 448L534.4 448.5L533.4 449L532.4 449.4L531.4 449.9L530.4 450.3L529.4 450.8L528.4 451.2L527.5 451.7L526.4 452.2L525.4 452.6L524.4 453.1L523.4 453.5L522.4 453.9L521.4 454.4L520.4 454.8L519.4 455.2L518.4 455.6L517.4 456L516.4 456.4L515.4 456.8L514.4 457.2L513.4 457.6L512.4 458L511.4 458.4L510.5 458.7L509.4 459.1L508.4 459.4L507.4 459.7L506.4 460L505.4 460.3L504.4 460.6L503.4 460.9L502.4 461.2L501.4 461.5L500.4 461.8L499.4 462.1L498.4 462.4L497.4 462.8L496.4 463.1L495.4 463.4L494.4 463.7L493.4 464L492.4 464.3L491.4 464.6L490.4 465.1L489.4 465.6M311.2 465.7L311.5 463.7L311.7 462.7L311.9 461.7L312.2 460.7L312.4 459.7L312.6 458.7L312.8 457.7L313 456.7L313.3 455.7L313.5 454.7L313.8 453.7L314.1 452.7L314.4 451.7L314.7 450.7L315 449.7L315.3 448.7L315.6 447.7L315.9 446.7L316.2 445.7L316.4 444.7L316.6 443.7L316.8 442.7L317 441.7L317.2 440.7L317.6 438.7L318 436.7L318.3 434.7L318.5 432.7L318.5 430.7L318.4 428.7L318.2 426.7L317.8 424.7L317.6 423.7L317.4 422.7L317.1 421.7L316.9 420.7L316.5 419.7L316.2 418.7L315.7 417.7L315.2 416.7L314.6 415.7L313.9 414.7L313.2 413.7L312.4 412.7L311.4 411.7L310.1 410.7L309.1 410L308.1 409.4L307.1 408.8L306.1 408.3L305.1 407.9L304.1 407.6L303.1 407.3L302.1 407.1L300.1 407L298.1 407.4L297.1 407.7L296.1 408.2L295.1 408.7L294.1 409.3L293.1 409.9L292.1 410.6L291.1 411.5L290.1 412.6L289.4 413.7L288.8 414.7L288.3 415.7L287.8 416.7L287.3 417.7L286.8 418.7L286.4 419.7L286 420.7L285.7 421.7L285.4 422.7L285.1 423.7L284.9 424.7L284.7 425.7L284.5 426.7L284.1 428.7L283.7 430.7L283.3 432.7L283.1 433.7L282.7 435.7L282.3 437.7L282.1 438.7L281.8 440.7L281.4 442.7L281.1 443.7L280.9 444.7L280.5 446.7L280.3 447.7L280.1 448.7L279.7 450.7L279.4 452.7L279.1 454L278.8 455.7L278.4 457.7L278.1 459.5L277.9 460.7L277.6 462.7L277.3 464.7"/>
<path d="M577.5 414.7L576.5 415.4L575.5 416.3L574.5 417.3L573.5 418.2L572.5 419.2L571.5 420.1L570.8 420.7L569.5 421.7L568.5 422.4L567.5 423.1L566.5 423.7L565.5 424.4L564.5 425L563.5 425.7L562.5 426.3L561.5 426.9L560.5 427.5L559.5 428L558.5 428.4L557.5 428.9L556.5 429.3L555.5 429.7L554.5 430.1L553.5 430.5L552.5 430.9L551.5 431.3L550.5 431.7L549.5 432.1L548.5 432.5L547.5 432.8L546.5 433.1L545.5 433.4L544.5 433.6L543.5 433.8L542.5 434.1L541.5 434.3L540.4 434.6L539.4 434.8L538.4 435.1L537.4 435.3L536.4 435.5L535.4 435.7L534.4 435.9L532.4 436.3L530.4 436.5L529.4 436.7L527.4 437L525.4 437.3L523.4 437.6L521.9 437.7L520.4 437.8L518.4 437.8L516.4 437.9L514.4 438L512.4 438.1L510.4 438.2L508.4 438.6L507.4 438.9L506.4 439.1L505.4 439.4L504.4 439.6L503.4 439.9L502.4 440.1L500.4 440.4L498.4 440.5L496.4 440.4L494.4 440.2L492.4 440.1L490.4 439.9L488.8 439.7L487.4 439.5L485.4 439.2L483.4 439L481.4 439.1L479.4 439.4L478.4 439.7L477.4 440L476.4 440.3L475.4 440.7L474.4 441.2L473.4 442.1L472.4 443.2L471.4 444.5L470.5 445.7L469.8 446.7L469.1 447.7L468.6 448.7L468.1 449.7L467.7 450.7L467.2 451.7L466.8 452.7L466.4 453.7L466 454.7L465.6 455.7L465.2 456.7L464.8 457.7L464.5 458.7L464.2 459.7L463.9 460.7L463.6 461.7L463.3 462.7L463 463.7L462.7 464.7M320.3 465.7L320.5 463.7L320.8 461.7L321.1 459.7L321.4 457.7L321.8 455.7L322.1 453.7L322.5 451.7L322.9 449.7L323.1 448.6L323.5 446.7L323.9 444.7L324.2 442.8L324.3 441.7L324.6 439.7L324.9 437.7L325.2 435.9L325.3 434.7L325.5 432.7L325.6 430.7L325.5 428.7L325.2 426.7L324.8 424.7L324.6 423.7L324.3 422.7L324 421.7L323.7 420.7L323.3 419.7L322.9 418.7L322.4 417.7L321.9 416.7L321.3 415.7L320.7 414.7L320.1 413.7L319.5 412.7L318.8 411.7L318.1 410.8L317.2 409.7L316.4 408.7L315.5 407.7L314.5 406.7L313.2 405.7L312.1 404.9L311.1 404.3L310.1 403.7L309.1 403.2L308.2 402.7L307.1 402.2L306.1 401.9L305.1 401.6L304.1 401.4L303.1 401.2L301.1 400.9L299.1 401.1L298.1 401.3L297.1 401.6L296.1 402L295.1 402.4L294.1 402.9L293.1 403.6L292.1 404.5L291.1 405.6L290.2 406.7L289.3 407.7L288.5 408.7L287.7 409.7L287.1 410.4L286.3 411.7L285.7 412.7L285.1 413.7L284.5 414.7L284 415.7L283.5 416.7L283.1 417.5L282.7 418.7L282.4 419.7L282.1 420.7L281.8 421.7L281.5 422.7L281.2 423.7L281 424.7L280.7 425.7L280.4 426.7L280.2 427.7L279.9 428.7L279.6 429.7L279.3 430.7L279 431.7L278.8 432.7L278.5 433.7L278.2 434.7L277.9 435.7L277.6 436.7L277.4 437.7L277.1 438.7L276.7 439.7L276.4 440.7L276.1 441.6L275.7 442.7L275.3 443.7L275 444.7L274.6 445.7L274.2 446.7L273.9 447.7L273.5 448.7L273.1 449.7L272.7 450.7L272.3 451.7L271.9 452.7L271.4 453.7L271 454.7L270.5 455.7L270.1 456.7L269.6 457.7L269.2 458.7L268.7 459.7L268.2 460.7L267.7 461.7L267.2 462.7L266.7 463.7L266.2 464.7L265.8 465.7M402.4 465.7L402.1 464.7L401.6 463.7L400.9 462.7L400.3 461.7L399.7 460.7L399 459.7L398.3 458.7L397.3 457.7L396.2 456.7L395.2 456L394.2 455.5L392.2 455.5L391.2 456L390.2 456.7L389.2 457.5L388.2 458.5L387.3 459.7L386.7 460.7L386.2 461.5L385.6 462.7L385 463.7L384.6 464.7L384.3 465.7"/>
<path d="M577.5 408.3L576.5 408.9L575.5 409.6L574.5 410.5L573.5 411.4L572.5 412.2L571.5 413.1L570.8 413.7L569.6 414.7L568.5 415.6L567.5 416.4L566.5 417.2L565.5 417.9L564.5 418.7L563.5 419.5L562.5 420.2L561.5 421L560.6 421.7L559.5 422.5L558.5 423.2L557.7 423.7L556.5 424.3L555.5 424.8L554.5 425.3L553.6 425.7L552.5 426.2L551.5 426.6L550.5 427.1L549.5 427.6L548.5 428L547.5 428.4L546.5 428.9L545.5 429.2L544.5 429.4L543.1 429.7L541.5 429.9L539.4 430.1L537.4 430.4L535.5 430.7L533.4 430.9L531.4 430.9L529.4 430.9L527.4 430.8L525.4 430.8L523.4 430.7L521.4 430.6L519.4 430.2L518.4 429.9L517.4 429.6L516.4 429.2L515.4 428.8L514.4 428.5L513.4 428.1L512.4 427.7L511.4 427.3L510.4 426.8L509.4 426.2L508.5 425.7L507.4 424.9L506.4 424.2L505.7 423.7L504.4 422.8L503.4 422.1L502.4 421.4L501.4 420.7L500.4 419.9L499.4 419.1L498.4 418.1L497.4 417.2L496.4 416.2L495.4 415.2L494.4 414.2L493.4 413.2L492.4 412.3L491.7 411.7L490.6 410.7L489.5 409.7L488.4 408.7L487.4 407.9L486.4 407.1L485.4 406.5L484.4 406.1L483.4 405.8L482.4 405.5L481.4 405.3L479.4 404.9L477.4 404.8L475.4 405L474.4 405.2L473.4 405.5L472.4 405.9L471.4 406.3L470.4 406.6L469.4 407.1L468.3 407.6L467.3 408.3L466.3 409.2L465.3 410.1L464.3 411.1L463.3 412.1L462.3 413.1L461.3 414.2L460.3 415.3L459.3 416.5L458.4 417.7L457.6 418.7L456.9 419.7L456.3 420.4L455.4 421.7L454.6 422.7L453.9 423.7L453.3 424.5L452.5 425.7L451.8 426.7L451.1 427.7L450.5 428.7L449.8 429.7L449.3 430.4L448.5 431.7L447.9 432.7L447.3 433.6L446.7 434.7L446.2 435.7L445.8 436.7L445.4 437.7L445.1 438.7L444.7 439.7L444.4 440.7L444 441.7L443.7 442.7L443.3 443.7L443 444.7L442.8 445.7L442.6 446.7L442.3 447.7L442.1 448.7L441.7 450.7L441.4 452.7L441.1 454.7L440.8 456.7L440.7 458.7L440.6 460.7L440.5 462.7L440.3 464.7M332.7 465.7L332.7 463.7L332.7 461.7L332.7 459.7L332.7 457.7L332.7 455.7L332.6 453.7L332.5 451.7L332.5 449.7L332.4 447.7L332.4 445.7L332.6 443.7L333 441.7L333.2 440.7L333.5 439.7L333.9 438.7L334.7 437.7L336.1 436.7L337.2 436.4L339.2 436.5L340.2 437L341.2 437.6L342.2 438.2L343 438.7L344.2 439.3L345.1 439.7L346.2 440.1L347.2 440.5L348.2 440.9L349.2 441.3L350.2 441.5L352.2 441.6L354.2 441.3L355.2 441L356.2 440.7L357.2 440.3L358.2 439.8L359.2 439.1L360.2 438.2L361.2 437.2L362.2 436.1L363.2 435L364.2 433.7L364.7 432.7L365.1 431.7L365.4 430.7L365.7 429.7L365.9 428.7L366.1 427.7L366.4 426.7L366.6 425.7L366.9 423.7L366.9 421.7L367 419.7L367 417.7L366.7 415.7L366.3 414.7L365.8 413.7L365.2 412.7L364.5 411.7L363.5 410.7L362.2 409.8L361.2 409.3L360.2 408.9L359.2 408.7L357.2 408.5L355.6 408.7L354.2 409L353.2 409.2L352.2 409.5L351.2 409.8L350.2 410.1L349.2 410.4L348.3 410.7L347.2 411.1L346.2 411.4L345.2 411.8L344.2 412.1L343.2 412.5L342.2 412.9L341.2 413.1L339.2 413.3L337.2 412.9L336.2 412.7L335.2 412.4L334.2 412L333.2 411.6L332.2 411.1L331.3 410.7L330.2 410.1L329.2 409.5L328.2 408.9L327.2 408.2L326.2 407.4L325.3 406.7L324.2 405.7L323.1 404.9L322.1 404L321.1 403.2L320.1 402.4L319.3 401.7L318.1 400.7L317.1 399.9L316.1 399.2L315.3 398.7L314.1 398L313.1 397.5L312.1 397L311.1 396.5L310.1 396L309.3 395.7L308.1 395.3L307.1 395L306.1 394.8L304.1 394.4L302.1 394.2L300.1 394.3L299.1 394.5L298.1 394.8L297.1 395.2L296.1 395.6L295.1 396.1L294.1 396.7L293.1 397.4L292.1 398.2L291.1 399.3L290.1 400.5L289.2 401.7L288.4 402.7L287.7 403.7L287.1 404.5L286.3 405.7L285.6 406.7L285.1 407.5L284.5 408.7L283.9 409.7L283.4 410.7L282.9 411.7L282.3 412.7L281.7 413.7L281.1 414.7L280.5 415.7L280.1 416.5L279.6 417.7L279.1 418.7L278.7 419.7L278.3 420.7L277.9 421.7L277.5 422.7L277.1 423.7L276.7 424.7L276.3 425.7L275.8 426.7L275.3 427.7L274.8 428.7L274.3 429.7L273.8 430.7L273.3 431.7L272.8 432.7L272.3 433.7L271.8 434.7L271.3 435.7L270.8 436.7L270.2 437.7L269.6 438.7L269.1 439.6L268.4 440.7L267.8 441.7L267.2 442.7L266.6 443.7L266.1 444.6L265.4 445.7L264.8 446.7L264.1 447.7L263.5 448.7L262.9 449.7L262.2 450.7L261.6 451.7L261.1 452.5L260.3 453.7L259.6 454.7L259.1 455.5L258.2 456.7L257.6 457.7L257.1 458.5L256.3 459.7L255.7 460.7L255.1 461.7L254.4 462.7L253.8 463.7L253.2 464.7L252.8 465.7M420.3 465.7L419.9 463.7L419.6 462.7L419.4 461.7L419.1 459.7L418.9 457.7L418.7 455.7L418.6 453.7L418.4 451.7L418.3 449.9L418.2 448.7L418.1 446.7L418 444.7L417.9 442.7L417.6 440.7L417.4 439.7L417 438.7L416.7 437.7L416.3 436.7L415.9 435.7L415.5 434.7L414.9 433.7L414.3 432.8L413.3 432.1L412.3 431.7L411.3 431.4L410.3 431.2L409.3 431L408.3 430.7L407.3 430.5L405.3 430.3L403.3 430.5L401.9 430.7L400.3 431L398.3 431.3L396.2 431.6L394.2 432L393.2 432.3L392.2 432.6L391.2 433L390.2 433.5L389.2 433.9L388.2 434.4L387.2 434.8L386.2 435.3L385.3 435.7L384.2 436.2L383.2 436.7L382.2 437.2L381.2 437.9L380.4 438.7L379.4 439.7L378.6 440.7L377.8 441.7L377.2 442.4L376.3 443.7L375.7 444.7L375.3 445.7L375 446.7L374.7 447.7L374.4 449.7L374 451.7L373.8 453.7L373.7 455.7L373.7 457.7L373.8 459.7L373.8 461.7L373.8 463.7L373.8 465.7"/>
<path d="M577.5 400.8L576.5 401.3L575.5 402.1L574.7 402.7L573.5 403.6L572.5 404.4L571.5 405.2L570.5 406L569.6 406.7L568.5 407.6L567.5 408.4L566.5 409.1L565.8 409.7L564.5 410.7L563.5 411.5L562.5 412.2L561.5 413L560.5 413.6L559.5 414.3L558.5 414.9L557.5 415.5L556.5 416L555.5 416.6L554.5 417.2L553.6 417.7L552.5 418.3L551.5 418.8L550.5 419.3L549.5 419.8L548.5 420.2L547.5 420.5L546.5 420.8L545.5 421L544.5 421.2L543.5 421.5L542.5 421.7L541.5 421.9L540.4 422.1L538.4 422.4L536.4 422.4L534.4 422.2L532.4 422L530.4 421.7L528.4 421.4L527.4 421.2L526.4 420.9L525.4 420.5L524.4 420L523.4 419.4L522.4 418.9L521.4 418.3L520.4 417.7L519.4 417.1L518.4 416.3L517.6 415.7L516.5 414.7L515.5 413.7L514.5 412.7L513.6 411.7L512.6 410.7L511.7 409.7L510.4 408.7L509.4 408.3L507.4 408L505.4 408.1L503.4 408.1L501.7 407.7L500.4 406.8L499.5 405.7L498.8 404.7L498.2 403.7L497.6 402.7L497 401.7L496.4 400.7L495.8 399.7L495.2 398.7L494.6 397.7L493.9 396.7L493.4 395.9L492.5 394.7L491.8 393.7L491 392.7L490.4 392L489.4 391.1L488.4 390.4L487.4 389.8L486.4 389.3L485.4 388.9L484.4 388.4L483.4 388L482.4 387.7L481.4 387.3L480.4 387L479.4 386.7L478.4 386.4L477.4 386.2L475.4 386L473.4 386.3L472.4 386.5L471.4 386.7L470.4 387L469.4 387.3L468.3 387.6L467.3 388.1L466.3 388.6L465.3 389.2L464.3 389.9L463.3 390.5L462.3 391.2L461.3 392L460.5 392.7L459.3 393.7L458.3 394.6L457.3 395.7L456.4 396.7L455.3 397.7L454.3 398.5L453.3 399.3L452.3 400L451.3 400.6L450.3 401.2L449.4 401.7L448.3 402.3L447.3 402.9L446.3 403.4L445.3 404L444.3 404.6L443.3 405.2L442.4 405.7L441.3 406.3L440.3 406.8L439.3 407.3L438.3 407.8L437.3 408.2L436.3 408.6L435.3 408.9L434.3 409.3L433.3 409.6L432.3 410L431.3 410.3L430.3 410.6L429.3 410.9L428.3 411.1L426.3 411.5L424.7 411.7L423.3 411.9L421.3 412.1L419.3 412.3L417.3 412.4L415.3 412.2L413.3 412L411.3 411.8L409.3 412L408.3 412.2L407.3 412.5L406.3 412.8L405.3 413.1L404.3 413.5L403.3 413.8L402.3 414.1L401.3 414.4L400.3 414.7L399.3 414.9L397.3 415.2L395.2 415.3L393.2 415.5L391.2 415.6L389.2 415.6L387.2 415.2L386.2 415L385.2 414.6L384.2 414.3L383.2 414L382.3 413.7L381.2 413.2L380.2 412.7L379.2 412.1L378.2 411.4L377.4 410.7L376.3 409.7L375.2 408.7L374.2 407.8L373.2 406.9L372.2 406L371.2 405.1L370.2 404.1L369.2 403.2L368.2 402.3L367.4 401.7L366.2 400.9L365.2 400.4L364.2 400.1L363.2 399.8L362.2 399.5L360.2 399.3L358.2 399.5L356.9 399.7L355.2 400L354.2 400.2L353.2 400.4L352.2 400.6L351.2 400.8L350.2 401L349.2 401.2L348.2 401.4L346.3 401.7L344.9 401.7L343.2 401.5L342.2 401.2L341.2 401L340.2 400.7L339.2 400.4L338.2 400.1L337.2 399.8L336.2 399.4L335.2 398.9L334.2 398.4L333.2 397.9L332.2 397.3L331.2 396.8L330.2 396.2L329.2 395.7L328.2 395.1L327.3 394.7L326.2 393.9L325.2 393.1L324.2 392.4L323.3 391.7L322.1 390.8L321.1 390L320.1 389.1L319.1 388.3L318.3 387.7L317.1 386.8L316.1 386L315.1 385.2L314.3 384.7L313.1 383.8L312.1 383L311.1 382.3L310.3 381.7L309.1 380.9L308.1 380.1L307.1 379.4L306.1 378.7L305.1 378.1L304.1 377.7L303.1 377.2L302.1 376.9L301.1 376.6L299.1 376.5L298.1 376.9L297.1 377.4L296.1 378.1L295.3 378.7L294.1 379.7L293.2 380.7L292.5 381.7L291.9 382.7L291.4 383.7L290.9 384.7L290.4 385.7L289.9 386.7L289.5 387.7L289 388.7L288.6 389.7L288.2 390.7L287.8 391.7L287.4 392.7L287 393.7L286.7 394.7L286.3 395.7L286 396.7L285.6 397.7L285.3 398.7L285 399.7L284.6 400.7L284.3 401.7L283.9 402.7L283.6 403.7L283.2 404.7L282.8 405.7L282.4 406.7L282 407.7L281.5 408.7L281.1 409.6L280.5 410.7L280 411.7L279.3 412.7L278.6 413.7L278.1 414.5L277.3 415.7L276.7 416.7L276.1 417.7L275.6 418.7L275.1 419.6L274.5 420.7L274.1 421.5L273.4 422.7L272.9 423.7L272.3 424.7L271.7 425.7L271.1 426.6L270.4 427.7L269.7 428.7L269.1 429.6L268.3 430.7L267.7 431.7L267.1 432.6L266.3 433.7L265.6 434.7L264.8 435.7L264.1 436.7L263.3 437.7L262.6 438.7L261.8 439.7L261.1 440.6L260.1 441.7L259.1 442.7L258.1 443.6L257.1 444.4L256.1 445.3L255.1 446.3L254.1 447.4L253.1 448.6L252.1 449.7L251.3 450.7L250.4 451.7L249.6 452.7L248.7 453.7L248 454.6L247.1 455.7L246.4 456.7L245.7 457.7L245 458.6L244.3 459.7L243.6 460.7L243 461.4L242.1 462.7L241.4 463.7L240.8 464.7L240.3 465.7"/>
<path d="M577.5 390.9L576.5 391.5L575.5 392.4L574.5 393.3L573.5 394.2L572.5 395.1L571.5 396L570.6 396.7L569.5 397.4L568.5 398.1L567.7 398.7L566.5 399.5L565.5 400.2L564.5 401L563.6 401.7L562.5 402.6L561.5 403.5L560.5 404.3L559.5 405.1L558.5 406L557.6 406.7L556.5 407.4L555.5 408.1L554.5 408.6L553.5 409.1L552.5 409.6L551.5 410.1L550.5 410.6L549.5 411.1L548.5 411.6L547.5 412L546.5 412.4L545.5 412.7L544.5 413L542.5 413.3L540.6 413.7L539.4 413.9L537.4 414.2L535.4 414.4L533.4 414.3L531.4 414.1L529.4 413.8L527.4 413.4L526.4 413.2L525.4 412.9L524.4 412.6L523.4 412.2L522.4 411.8L521.4 411.3L520.4 410.7L519.4 410.1L518.4 409.4L517.5 408.7L516.5 407.7L515.6 406.7L514.7 405.7L513.9 404.7L513.1 403.7L512.4 402.8L511.5 401.7L510.7 400.7L510 399.7L509.4 398.9L508.5 397.7L507.9 396.7L507.2 395.7L506.6 394.7L506 393.7L505.4 392.7L504.8 391.7L504.2 390.7L503.7 389.7L503.2 388.7L502.7 387.7L502.2 386.7L501.7 385.7L501.2 384.7L500.6 383.7L500 382.7L499.4 381.8L498.5 380.7L497.7 379.7L496.9 378.7L496.4 378L495.4 376.7L494.5 375.7L493.7 374.7L492.9 373.7L492 372.7L491.4 372L490.4 371.2L489.5 370.7L488.4 370.1L487.4 369.8L486.4 369.5L485.4 369.3L484.4 369.1L482.4 368.7L480.4 368.5L478.4 368.4L476.4 368.2L474.4 368.2L472.4 368.5L471.4 368.8L470.4 369.2L469.4 369.6L468.3 370.1L467.3 370.5L466.3 371L465.3 371.4L464.3 371.9L463.3 372.4L462.3 373L461.3 373.6L460.3 374.3L459.3 375L458.4 375.7L457.3 376.4L456.3 377.1L455.6 377.7L454.3 378.6L453.3 379.3L452.3 380L451.4 380.7L450.3 381.4L449.3 382.2L448.3 382.9L447.3 383.6L446.3 384.3L445.3 385L444.3 385.6L443.3 386.1L442.3 386.6L441.3 387.1L440.3 387.6L439.3 388.1L438.3 388.6L437.3 389L436.3 389.4L435.3 389.8L434.3 390L432.3 390.3L430.3 390.5L428.3 390.6L426.3 390.8L424.3 390.9L422.3 390.9L420.6 390.7L419.3 390.4L417.3 390.1L415.3 389.7L413.3 389.3L411.3 389L409.3 389L407.3 389.4L406.3 389.7L405.3 389.9L404.3 390.1L403.3 390.4L402.3 390.6L400.3 390.9L398.3 391.2L396.2 391.4L394.2 391.5L392.2 391.6L390.2 391.6L388.2 391.4L386.2 391.1L384.2 390.7L382.2 390.3L381.2 390.1L380.2 389.9L379.2 389.7L378.2 389.4L377.2 389L376.2 388.5L375.2 388L374.2 387.5L373.2 387L372.2 386.5L371.2 386L370.2 385.5L369.2 384.9L368.2 384.2L367.2 383.4L366.3 382.7L365.2 381.8L364.2 380.9L363.2 380.1L362.2 379.3L361.5 378.7L360.4 377.7L359.6 376.7L358.9 375.7L358.3 374.7L357.8 373.7L357.2 372.7L356.6 371.7L356 370.7L355.5 369.7L355 368.7L354.5 367.7L354 366.7L353.5 365.7L353.1 364.7L352.8 363.7L352.5 362.7L352.3 361.7L352 359.7L351.6 357.7L351.2 355.7L350.9 354.7L350.6 353.7L350.2 352.7L349.8 351.7L349.5 350.7L349.1 349.7L348.7 348.7L348.3 347.7L347.8 346.7L347.3 345.7L346.8 344.7L346.2 343.7L345.6 342.7L345.2 341.9L344.4 340.7L343.9 339.7L343.3 338.7L342.8 337.7L342.4 336.7L342 335.7L341.6 334.7L341.3 333.7L341 332.7L340.7 331.7L340.4 330.6L340.2 329.4L340 327.6L339.8 325.6L339.6 323.6L339.2 321.6L339 320.6L338.7 319.6L338.4 318.6L337.9 317.6L337.2 316.6L336.2 315.8L335.2 315.4L334.2 315.1L333.2 314.8L332.2 314.6L331.2 314.3L330.2 314.1L329.2 313.8L328 313.6L326.2 313.6L324.2 314.1L323.1 314.6L322.1 315.2L321.3 315.6L320.1 316.3L319.1 316.9L318.1 317.4L317.1 318L316.1 318.6L315.1 319.4L314.3 320.6L314 321.6L313.8 323.6L313.9 325.6L313.9 327.6L313.7 329.6L313.4 330.6L313 331.7L312.4 332.7L311.8 333.7L311.1 334.6L310.1 335.7L309.1 336.4L308.1 337L307.1 337.5L306.1 338L305.1 338.5L304.1 339L303.1 339.5L302.1 340.1L301.1 340.6L300.1 341.2L299.1 342L298.3 342.7L297.1 343.6L296.1 344.5L295.1 345.3L294.1 346.2L293.1 347.1L292.5 347.7L291.4 348.7L290.5 349.7L289.6 350.7L288.7 351.7L288.1 352.4L287.1 353.6L286.3 354.7L285.6 355.7L285.1 356.6L284.6 357.7L284.2 358.7L283.9 359.7L283.5 360.7L283.2 361.7L282.8 362.7L282.5 363.7L282.2 364.7L282 365.7L281.8 367.7L281.7 369.7L281.7 371.7L281.7 373.7L281.8 375.7L281.9 377.7L282 379.7L282 381.7L281.9 383.7L281.8 385.7L281.6 387.7L281.4 389.7L281.1 391.2L280.7 392.7L280.4 393.7L280.1 394.7L279.7 395.7L279.4 396.7L279.1 397.6L278.7 398.7L278.2 399.7L277.8 400.7L277.3 401.7L276.8 402.7L276.4 403.7L275.9 404.7L275.5 405.7L275.1 406.7L274.7 407.7L274.3 408.7L273.9 409.7L273.5 410.7L273.2 411.7L272.8 412.7L272.5 413.7L272.2 414.7L271.9 415.7L271.6 416.7L271.2 417.7L270.7 418.7L270.2 419.7L269.6 420.7L269.1 421.5L268.3 422.7L267.6 423.7L266.8 424.7L266.1 425.6L265.1 426.6L264.1 427.5L263.1 428.3L262.1 429.1L261.2 429.7L260.1 430.6L259.1 431.4L258.1 432.1L257.3 432.7L256.1 433.6L255.1 434.4L254.1 435.1L253.3 435.7L252.1 436.6L251 437.4L250 438.1L249.3 438.7L248 439.7L247 440.5L246 441.5L245 442.5L244 443.5L243 444.5L242 445.5L241 446.5L240 447.5L239 448.5L238 449.6L237 450.7L236.2 451.7L235.3 452.7L234.4 453.7L233.5 454.7L232.7 455.7L232 456.5L231.1 457.7L230.4 458.7L229.7 459.7L229.1 460.7L228.5 461.7L227.9 462.7L227.2 463.7L226.6 464.7L226.2 465.7"/>
<path d="M577.5 378.6L576.5 379.3L575.5 380.4L574.5 381.5L573.5 382.7L572.6 383.7L571.7 384.7L570.8 385.7L569.9 386.7L569 387.7L568 388.7L567 389.7L566 390.7L564.9 391.7L563.9 392.7L562.9 393.7L561.8 394.7L560.7 395.7L559.5 396.7L558.5 397.5L557.5 398.2L556.5 398.9L555.5 399.7L554.5 400.4L553.5 401.1L552.7 401.7L551.5 402.4L550.5 402.8L549.5 403.2L548.5 403.5L547.5 403.8L546.5 404.1L545.5 404.4L544.5 404.8L543.5 405.1L542.5 405.4L541.5 405.7L540.4 406L539.4 406.3L538.4 406.5L536.4 406.7L534.4 406.5L533.4 406.2L532.4 405.9L531.4 405.5L530.4 405.1L529.5 404.7L528.4 404.1L527.6 403.7L526.4 402.9L525.4 402.1L524.4 401L523.4 399.9L522.4 398.7L521.7 397.7L521 396.7L520.4 395.7L519.8 394.7L519.3 393.7L518.7 392.7L518.2 391.7L517.7 390.7L517.2 389.7L516.7 388.7L516.2 387.7L515.7 386.7L515.3 385.7L514.8 384.7L514.3 383.7L513.9 382.7L513.4 381.7L512.9 380.7L512.4 379.7L511.8 378.7L511.1 377.7L510.5 376.7L509.8 375.7L509.2 374.7L508.5 373.7L507.8 372.7L507.1 371.7L506.5 370.7L505.8 369.7L505.1 368.7L504.5 367.7L503.9 366.7L503.4 365.8L502.7 364.7L502.2 363.7L501.7 362.7L501.2 361.7L500.6 360.7L500 359.7L499.4 358.8L498.6 357.7L497.9 356.7L497.1 355.7L496.4 354.7L495.6 353.7L494.8 352.7L494 351.7L493.4 350.9L492.4 349.9L491.4 349.1L490.4 348.4L489.4 347.8L488.4 347.2L487.5 346.7L486.4 345.9L485.4 345.3L484.4 344.8L483.4 344.3L482.4 343.9L481.4 343.6L479.4 343.3L477.4 343L475.4 342.8L473.4 342.8L471.4 343.3L470.4 343.8L469.4 344.3L468.3 344.8L467.3 345.3L466.3 345.8L465.3 346.3L464.3 346.8L463.3 347.4L462.3 348.1L461.6 348.7L460.3 349.7L459.3 350.5L458.3 351.4L457.3 352.2L456.3 353.1L455.7 353.7L454.5 354.7L453.3 355.6L452.3 356.5L451.3 357.4L450.3 358.2L449.3 359.1L448.7 359.7L447.5 360.7L446.3 361.6L445.3 362.2L444.4 362.7L443.3 363.1L442.3 363.5L441.3 363.8L440.3 364.1L439.3 364.4L438.3 364.7L437.3 365L436.3 365.2L434.3 365.4L432.3 365.1L430.3 364.7L428.3 364.4L427.3 364.1L426.3 363.8L425.3 363.4L424.3 362.8L423.3 362.1L422.3 361.3L421.5 360.7L420.3 359.7L419.3 358.7L418.3 357.7L417.6 356.7L417 355.7L416.5 354.7L416 353.7L415.6 352.7L415.2 351.7L414.7 350.7L414.3 349.7L413.7 348.7L413.3 347.8L412.6 346.7L412.1 345.7L411.4 344.7L410.5 343.7L409.3 343.4L408.3 343.6L407.3 344.1L406.3 344.6L405.3 345.1L404.3 345.6L403.3 346.1L402.3 346.6L401.3 347.1L400.3 347.5L399.3 348L398.3 348.4L397.3 348.8L396.2 349.1L395.2 349.3L394.2 349.6L393.2 349.8L392.2 350.1L391.2 350.3L390.2 350.5L389.2 350.7L387.2 350.9L385.2 350.8L383.3 350.7L381.2 350.5L379.2 350.2L378.2 349.9L377.2 349.6L376.2 349.1L375.2 348.7L374.2 348.1L373.4 347.7L372.2 347L371.2 346.4L370.2 345.7L369.2 345L368.2 344.1L367.2 343L366.2 341.8L365.3 340.7L364.5 339.7L363.6 338.7L362.9 337.7L362.2 336.8L361.4 335.7L360.8 334.7L360.2 333.8L359.4 332.7L358.8 331.7L358.2 330.6L357.8 329.6L357.4 328.6L357.2 327.6L357 326.6L356.7 325.6L356.5 324.6L356.3 323.6L356.1 322.6L355.9 321.6L355.6 320.6L355.3 319.6L355 318.6L354.6 317.6L354.2 316.7L353.6 315.6L353.2 314.8L352.6 313.6L352 312.6L351.4 311.6L350.7 310.6L349.8 309.6L349.2 309L348.2 308L347.2 307L346.2 306L345.2 305L344.2 304.1L343.2 303.3L342.3 302.6L341.2 301.9L340.2 301.2L339.4 300.6L338.2 299.8L337.2 299.1L336.4 298.6L335.2 297.8L334.2 297.1L333.4 296.6L332.2 295.9L331.2 295.4L330.2 294.9L329.2 294.4L328.2 293.9L327.2 293.4L326.2 292.9L325.2 292.5L324.2 292L323.1 291.5L322.1 291L321.1 290.5L320.1 290.1L319.1 289.7L318.1 289.2L317.1 288.8L316.1 288.4L315.1 288L314.1 287.6L313.1 287.2L312.1 286.8L311.1 286.3L310.1 285.7L309.1 285L308.1 284.1L307.1 283.1L306.1 282.2L305.5 281.6L304.1 280.8L303.1 280.3L302.1 279.9L301.1 279.6L299.4 279.6L298.1 280.4L297.1 281.6L296.5 282.6L296 283.6L295.5 284.6L295.1 285.6L294.9 286.6L294.6 287.6L294.4 288.6L294.2 289.6L294 290.6L293.6 292.6L293.4 293.6L293.2 294.6L293 295.6L292.8 296.6L292.6 297.6L292.2 299.6L292 300.6L291.8 301.6L291.6 302.6L291.4 303.6L291.2 304.6L291 305.6L290.8 306.6L290.6 307.6L290.3 308.6L290.1 309.6L289.9 310.6L289.7 311.6L289.4 312.6L289.2 313.6L288.9 314.6L288.7 315.6L288.5 316.6L288.2 317.6L287.9 318.6L287.7 319.6L287.4 320.6L287 321.6L286.7 322.6L286.4 323.6L286 324.6L285.7 325.6L285.3 326.6L285 327.6L284.6 328.6L284.2 329.6L283.6 330.6L283.1 331.6L282.4 332.7L281.7 333.7L281.1 334.6L280.4 335.7L279.8 336.7L279.1 337.7L278.4 338.7L277.8 339.7L277.1 340.7L276.5 341.7L275.6 342.7L274.7 343.7L273.4 344.7L272.1 345.5L271.1 346L270.1 346.6L269.1 347.2L268.1 347.7L267.1 348.2L266.1 348.6L265.1 349L264.1 349.2L262.1 349.6L260.1 349.9L258.1 350.3L256.1 350.7L255.1 350.9L254.1 351.2L253.1 351.5L252.1 351.9L251 352.4L250 352.9L249 353.4L248 354L247 354.6L246 355.6L245.4 356.7L245 357.5L244.6 358.7L244.2 359.7L243.9 360.7L243.5 361.7L243.3 362.7L243.1 363.7L242.9 365.7L242.7 367.7L242.4 369.7L242 370.7L241.5 371.7L241 372.5L240.3 373.7L239.5 374.7L238.6 375.7L237.5 376.7L236 377.6L235 378.2L234.2 378.7L233 379.3L232 379.9L231 380.6L230 381.3L229 382.2L228 383.1L227 384.2L226 385.2L225 386.3L224 387.5L223.2 388.7L222.7 389.7L222.2 390.7L221.7 391.7L221.2 392.7L220.7 393.7L220.3 394.7L219.9 395.7L219.6 396.7L219.3 397.7L219.1 399.7L219.3 401.7L219.6 402.7L219.8 403.7L220.2 404.7L220.5 405.7L220.8 406.7L221.1 407.7L221.4 408.7L221.7 409.7L222 410.7L222.2 411.7L222.5 412.7L222.7 413.7L223 415.6L223.2 416.7L223.5 418.7L223.8 420.7L224 422.5L224.2 423.7L224.2 425.7L224.1 427.7L223.8 429.7L223.5 431.7L223.1 433.7L222.8 435.7L222.4 437.7L222.1 438.7L221.7 439.7L221.4 440.7L221 441.6L220.6 442.7L220.2 443.7L219.8 444.7L219.4 445.7L219 446.6L218.5 447.7L218 448.7L217.5 449.7L217 450.5L216.2 451.7L215.4 452.7"/>
<path d="M577.5 359.8L576.5 360.5L575.5 361.5L574.5 362.7L573.6 363.7L572.7 364.7L571.8 365.7L571 366.7L570.1 367.7L569.5 368.4L568.5 369.6L567.6 370.7L566.7 371.7L565.9 372.7L565 373.7L564.1 374.7L563.5 375.4L562.5 376.5L561.5 377.6L560.5 378.6L559.5 379.6L558.5 380.7L557.5 381.7L556.5 382.7L555.7 383.7L554.9 384.7L554.2 385.7L553.5 386.7L552.8 387.7L552.1 388.7L551.5 389.6L550.7 390.7L549.8 391.7L548.7 392.7L547.5 393.5L546.5 394L545.5 394.3L544.5 394.5L542.5 394.7L540.6 394.7L539.4 394.5L538.4 394.3L537.4 394L536.4 393.8L535.4 393.4L534.4 393L533.4 392.2L532.4 391.1L531.4 389.8L530.7 388.7L530.3 387.7L530 386.7L529.7 385.7L529.4 384.7L529.1 383.7L528.9 382.7L528.6 381.7L528.3 380.7L528 379.7L527.6 378.7L527.2 377.7L526.9 376.7L526.5 375.7L526.1 374.7L525.7 373.7L525.2 372.7L524.7 371.7L524.1 370.7L523.5 369.7L522.8 368.7L522.2 367.7L521.6 366.7L520.9 365.7L520.4 364.8L519.7 363.7L519.1 362.7L518.4 361.7L517.9 360.7L517.4 359.9L516.7 358.7L516.2 357.7L515.7 356.7L515.3 355.7L514.8 354.7L514.3 353.7L513.9 352.7L513.4 351.7L513 350.7L512.5 349.7L512.1 348.7L511.6 347.7L511.1 346.7L510.7 345.7L510.2 344.7L509.7 343.7L509.2 342.7L508.7 341.7L508.2 340.7L507.7 339.7L507.2 338.7L506.7 337.7L506.2 336.7L505.7 335.7L505.2 334.7L504.6 333.7L504.1 332.7L503.5 331.7L503 330.6L502.4 329.6L501.9 328.6L501.4 327.8L500.7 326.6L500 325.6L499.4 324.9L498.4 323.9L497.4 323.2L496.4 322.6L495.4 322.2L494.4 321.8L493.4 321.5L492.4 321.1L491.4 320.8L490.4 320.4L489.4 320.1L488.4 319.8L487.4 319.4L486.4 319.1L485.4 318.9L484.4 318.7L482.4 318.4L480.4 318.2L478.4 318L476.4 317.9L474.4 317.7L472.4 317.7L470.4 317.9L468.3 318.2L466.3 318.5L464.3 318.8L462.3 319.1L460.3 319.5L459.3 319.8L458.3 320L457.3 320.3L456.3 320.6L455.3 320.9L454.3 321.2L453.3 321.5L452.3 321.8L451.3 322.1L450.3 322.4L449.3 322.6L448.3 322.9L447.3 323.1L446.3 323.3L444.3 323.6L442.3 324L440.3 324.3L438.3 324.6L436.3 324.9L434.3 325L432.3 325L430.3 324.9L428.3 324.8L426.3 324.7L424.3 324.5L422.3 324.4L420.3 324.2L418.3 324L416.3 323.7L414.3 323.5L412.3 323.3L410.3 323.1L408.3 323L406.3 322.9L404.3 322.8L402.3 322.7L400.3 322.7L398.3 322.5L396.2 322.2L395.2 322L394.2 321.7L393.2 321.5L392.2 321.2L391.2 320.9L390.2 320.7L389.2 320.4L388.2 320L387.4 319.6L386.2 319.1L385.4 318.6L384.2 318L383.2 317.3L382.2 316.7L381.2 315.7L380.5 314.6L379.9 313.6L379.5 312.6L379 311.6L378.6 310.6L378.2 309.7L377.9 308.6L377.6 307.6L377.3 306.6L377 305.6L376.7 304.6L376.3 303.6L375.9 302.6L375.2 301.6L374.4 300.6L373.4 299.6L372.3 298.6L371.2 297.8L370.2 297.3L369.2 296.8L368.2 296.4L367.2 296.1L366.2 295.7L365.2 295.3L364.2 295L363.2 294.6L362.2 294.3L361.2 293.9L360.3 293.6L359.2 293.3L358.2 293L357.2 292.6L356.2 292.3L355.2 292L354.2 291.6L353.2 291.3L352.2 290.9L351.2 290.6L350.2 290.1L349.2 289.7L348.2 289.2L347.2 288.8L346.2 288.3L345.2 287.9L344.2 287.4L343.2 286.9L342.2 286.4L341.2 285.9L340.2 285.4L339.2 284.8L338.2 284.2L337.2 283.7L336.2 283.1L335.2 282.5L334.2 281.9L333.2 281.2L332.4 280.6L331.2 279.6L330.2 278.7L329.2 277.8L328.2 276.9L327.2 275.9L326.2 274.7L325.5 273.6L325 272.6L324.6 271.6L324.2 270.8L323.6 269.6L323.1 268.7L322.6 267.6L322.1 266.8L321.5 265.6L320.9 264.6L320.3 263.6L319.7 262.6L319.1 261.6L318.6 260.6L318.1 259.8L317.6 258.6L317.2 257.6L316.8 256.6L316.4 255.6L315.9 254.6L315.5 253.6L314.9 252.6L314.3 251.6L313.6 250.6L312.9 249.6L312.1 248.6L311.3 247.6L310.4 246.6L309.1 245.7L308.1 245.2L307.1 244.8L306.1 244.4L305.1 244L304.1 243.7L303.1 243.4L302.1 243.1L300.1 242.8L298.3 242.6L297.1 242.5L295.1 242.3L293.1 242.2L291.1 242.2L289.1 242.3L287.1 242.5L285.1 242.8L284.1 243.2L283.1 243.9L282.4 244.6L281.8 245.6L281.4 246.6L281.2 247.6L280.9 249.6L280.7 251.6L280.6 253.6L280.5 255.6L280.3 257.6L280.2 259.6L280 261.6L279.8 263.6L279.6 265.6L279.4 267.6L279.1 269.6L278.9 271.6L278.6 273.6L278.4 274.6L278.2 275.6L277.9 276.6L277.7 277.6L277.5 278.6L277.3 279.6L277.1 280.6L276.8 281.6L276.6 282.6L276.3 284.6L276.1 285.9L275.9 287.6L275.7 289.6L275.6 291.6L275.4 293.6L275.2 295.6L275.1 297.3L275 298.6L274.8 300.6L274.5 302.6L274.3 304.6L274.1 306.6L273.9 308.6L273.8 310.6L273.6 312.6L273.5 314.6L273.4 316.6L273.3 318.6L273.1 320.6L272.9 322.6L272.6 323.6L272.4 324.6L272 325.6L271.7 326.6L271.3 327.6L270.9 328.6L270.3 329.6L269.6 330.6L268.7 331.7L268.1 332.2L267.1 333L266.1 333.6L265.1 334L264.1 334.3L263.1 334.6L261.1 334.8L259.1 334.7L257.1 334.4L255.1 334L254.1 333.8L253.1 333.6L252.1 333.4L251 333.2L249 332.8L247 332.5L245 332.2L243 331.9L241 331.7L239 331.6L237 331.5L235 331.5L233 331.5L231 331.5L229 331.6L227 331.9L226 332.3L225 333.3L224.1 334.7L223.6 335.7L223.1 336.7L222.7 337.7L222.4 338.7L222.3 339.7L222 341.2L221.8 342.7L221.5 344.7L221.3 346.7L221 348.3L220.8 349.7L220.6 350.7L220.3 351.7L220.1 352.7L219.9 353.7L219.6 354.7L219.4 355.7L219.2 356.7L218.9 357.7L218.5 358.7L218.1 359.7L217.7 360.7L217.2 361.7L216.7 362.7L216.2 363.7L215.4 364.7"/>
<path d="M577.5 338.4L576.5 338.7L575.5 339.1L574.5 339.5L573.5 339.9L572.5 340.3L571.5 340.8L570.5 341.4L569.5 342L568.7 342.7L567.5 343.6L566.5 344.5L565.5 345.4L564.5 346.3L563.5 347.2L562.5 348.1L561.8 348.7L560.8 349.7L559.7 350.7L558.7 351.7L557.6 352.7L556.5 353.5L555.5 354.1L554.5 354.6L553.5 355L552.5 355.4L551.5 355.6L549.5 355.7L548.5 355.4L547.5 355.1L546.5 354.7L545.5 354.4L544.5 354.1L543.5 353.7L542.5 353.3L541.5 352.8L540.4 352.2L539.7 351.7L538.5 350.7L537.5 349.7L536.5 348.7L535.5 347.7L534.5 346.7L533.6 345.7L532.9 344.7L532.4 343.9L531.9 342.7L531.4 341.7L531 340.7L530.5 339.7L530.1 338.7L529.6 337.7L529.2 336.7L528.8 335.7L528.3 334.7L527.9 333.7L527.4 332.7L527 331.7L526.5 330.6L526.1 329.6L525.6 328.6L525.2 327.6L524.8 326.6L524.3 325.6L523.9 324.6L523.4 323.7L522.9 322.6L522.4 321.7L521.8 320.6L521.3 319.6L520.7 318.6L520.2 317.6L519.6 316.6L519 315.6L518.5 314.6L517.9 313.6L517.4 312.8L516.7 311.6L516.1 310.6L515.5 309.6L514.8 308.6L514.2 307.6L513.5 306.6L512.8 305.6L512.2 304.6L511.5 303.6L510.8 302.6L510.2 301.6L509.5 300.6L508.8 299.6L508 298.6L507.4 297.8L506.5 296.6L505.7 295.6L504.9 294.6L504.4 293.9L503.4 292.6L502.6 291.6L501.8 290.6L501 289.6L500.4 289L499.4 288L498.4 287.1L497.4 286.3L496.6 285.6L495.4 284.7L494.4 283.9L493.4 283.1L492.4 282.3L491.6 281.6L490.4 280.9L489.4 280.3L488.4 279.9L487.4 279.5L486.4 279.2L485.4 278.8L484.4 278.5L483.4 278.1L482.4 277.8L481.4 277.5L480.4 277.3L478.4 277.1L476.4 277L474.4 277.1L472.4 277.4L471.4 277.7L470.4 278.1L469.4 278.5L468.3 278.9L467.3 279.3L466.5 279.6L465.3 280.1L464.5 280.6L463.3 281.5L462.3 282.5L461.3 283.6L460.4 284.6L459.5 285.6L458.7 286.6L457.9 287.6L457.3 288.3L456.4 289.6L455.8 290.6L455.1 291.6L454.5 292.6L453.8 293.6L453 294.6L452.3 295.5L451.3 296.5L450.3 297.5L449.3 298.6L448.3 299.6L447.3 300.5L446.3 301.4L445.3 302.2L444.3 302.8L443.3 303.4L442.3 303.9L441.3 304.3L440.3 304.8L439.3 305.2L438.4 305.6L437.3 306.1L436.3 306.5L435.3 306.8L434.3 307.1L432.3 307.4L430.7 307.6L429.3 307.8L427.3 308.1L425.3 308.4L423.3 308.6L421.3 308.8L419.3 308.9L417.3 309L415.3 309.1L413.3 309.2L411.3 309.1L409.3 308.8L408.3 308.4L407.3 307.9L406.3 307.2L405.3 305.9L404.5 304.6L404 303.6L403.6 302.6L403.3 301.6L403 299.6L402.9 297.6L402.9 295.6L402.9 293.6L403 291.6L403.1 289.6L403.2 287.6L403.2 285.6L403.2 283.6L403.1 281.6L402.9 279.6L402.7 278.6L402.3 277.6L401.7 276.6L400.9 275.6L400.3 275L399.3 274.1L398.3 273.3L397.3 272.8L396.2 272.4L395.2 272.1L394.2 271.8L393.1 271.6L391.2 271.3L389.2 270.9L387.2 270.6L385.2 270.5L383.2 270.4L381.2 270.3L379.2 270.2L377.2 270.1L375.2 270L373.2 269.8L371.3 269.6L370.2 269.5L368.2 269.3L366.2 269.1L364.2 268.9L363.1 268.6L361.2 268L360.2 267.7L359.2 267.3L358.2 266.8L357.2 266.4L356.2 266L355.2 265.5L354.2 264.9L353.2 264.3L352.3 263.6L351.2 262.7L350.2 261.8L349.2 260.9L348.2 260.1L347.2 259.3L346.2 258.6L345.2 257.9L344.2 257.2L343.4 256.6L342.2 255.6L341.2 254.7L340.2 253.7L339.3 252.6L338.5 251.6L337.7 250.6L336.9 249.6L336.2 248.7L335.3 247.6L334.5 246.6L333.8 245.6L333.2 244.8L332.2 243.6L331.5 242.6L330.7 241.6L330.2 240.8L329.3 239.6L328.6 238.6L327.9 237.6L327.2 236.6L326.5 235.6L325.8 234.6L325.2 233.8L324.2 232.6L323.2 231.6L322.2 230.6L321.3 229.6L320.3 228.6L319.3 227.6L318.3 226.6L317.2 225.6L316.1 224.7L315.1 223.9L314.1 223.1L313.1 222.3L312.2 221.6L311.1 220.8L310.1 220.2L309.1 219.7L308.1 219.2L307.1 218.8L306.1 218.4L305.1 218L304.2 217.6L303.1 217.2L302.1 216.8L301.1 216.4L300.1 216L299.1 215.6L298.1 215.3L297.1 215.1L295.1 214.7L293.1 214.5L291.1 214.3L289.1 214.1L287.1 213.9L285.1 213.9L283.1 214.2L282.1 214.5L281.1 214.7L280.1 215L279.1 215.3L278.1 215.5L277.1 215.8L276.1 216L275.1 216.3L274.1 216.6L273.1 217L272.1 217.4L271.1 218L270.1 218.5L269.1 219.2L268.1 219.8L267.1 220.4L266.1 221.1L265.3 221.6L264.2 222.6L263.4 223.6L262.7 224.6L262.2 225.6L261.6 226.6L261.1 227.6L260.7 228.6L260.2 229.6L259.9 230.6L259.6 231.6L259.4 233.6L259.4 235.6L259.5 237.6L260 239.6L260.3 240.6L260.7 241.6L261.1 242.6L261.5 243.6L261.9 244.6L262.3 245.6L262.7 246.6L263.1 247.6L263.5 248.6L263.9 249.6L264.3 250.6L264.7 251.6L265.1 252.5L265.5 253.6L265.9 254.6L266.3 255.6L266.7 256.6L267.1 257.6L267.4 258.6L267.7 259.6L268 260.6L268.2 262.6L268.4 264.6L268.5 266.6L268.6 268.6L268.4 270.6L268.2 271.6L267.9 272.6L267.6 273.6L267.3 274.6L267 275.6L266.7 276.6L266.3 277.6L265.9 278.6L265.3 279.6L264.7 280.6L264.1 281.6L263.4 282.6L262.7 283.6L262.1 284.6L261.3 285.6L260.4 286.6L259.4 287.6L258.1 288.6L257.1 289.1L256.1 289.6L255.1 290.1L254.1 290.6L253.1 291.1L252.1 291.5L251 291.9L250 292.2L249 292.4L247.6 292.6L246 292.9L244 293.1L242 293.4L240.6 293.6L239 293.9L237 294.1L235 294.3L233 294.4L231 294.4L229 294.4L227 294.4L225 294.4L223 294.5L221 294.6L219.8 294.6L218 294.8L216 295"/>
<path d="M247.2 195.6L246.8 196.6L246.1 197.6L245.4 198.6L244.6 199.6L244 200.4L243.2 201.6L242.5 202.6L241.7 203.6L241 204.6L240.4 205.6L239.7 206.6L239.2 207.6L238.6 208.6L238.1 209.6L237.5 210.6L237 211.6L236.5 212.6L236 213.4L235.4 214.6L234.9 215.6L234.3 216.6L233.8 217.6L233.2 218.6L232.7 219.6L232.1 220.6L231.5 221.6L231 222.5L230.3 223.6L229.7 224.6L229.1 225.6L228.5 226.6L228 227.5L227.4 228.6L226.8 229.6L226.1 230.6L225.5 231.6L224.8 232.6L224 233.6L223.1 234.6L222.3 235.6L221.4 236.6L220.5 237.6L219.6 238.6L219 239.3L218 240.4L217 241.6L216 242.6L215 243.3M577.5 321.2L576.5 321.5L575.5 322.1L574.5 322.6L573.5 323.3L572.5 323.8L571.5 324.4L570.5 324.9L569.5 325.3L568.6 325.6L567.5 326L566.5 326.4L565.5 326.7L564.5 327L563.5 327.3L562.5 327.6L560.5 327.9L558.5 327.7L556.5 327.5L554.5 327.1L553.5 326.9L552.5 326.5L551.5 325.9L550.5 325.1L549.5 324.3L548.6 323.6L547.5 322.7L546.5 321.8L545.5 320.7L544.8 319.6L544.2 318.6L543.8 317.6L543.3 316.6L542.8 315.6L542.3 314.6L541.8 313.6L541.3 312.6L540.8 311.6L540.4 310.8L540 309.6L539.6 308.6L539.2 307.6L538.8 306.6L538.5 305.6L538.1 304.6L537.8 303.6L537.4 302.7L537 301.6L536.7 300.6L536.3 299.6L535.9 298.6L535.5 297.6L535.1 296.6L534.7 295.6L534.3 294.6L533.9 293.6L533.5 292.6L533.1 291.6L532.7 290.6L532.3 289.6L531.9 288.6L531.4 287.7L530.9 286.6L530.5 285.6L529.9 284.6L529.4 283.7L528.9 282.6L528.4 281.8L527.8 280.6L527.4 279.8L526.8 278.6L526.3 277.6L525.7 276.6L525 275.6L524.4 274.9L523.4 273.7L522.4 272.6L521.6 271.6L520.7 270.6L519.8 269.6L518.9 268.6L518 267.6L517 266.6L516.4 266L515.4 265L514.4 264L513.4 263L512.4 262L511.4 261.1L510.4 260.2L509.6 259.6L508.4 258.8L507.4 258.2L506.4 257.6L505.4 257L504.4 256.4L503.4 255.8L502.4 255.2L501.4 254.6L500.4 254L499.4 253.4L498.4 252.8L497.4 252.3L496.4 251.7L495.4 251.2L494.4 250.7L493.4 250.2L492.4 249.6L491.4 249.1L490.4 248.6L489.4 248.1L488.5 247.6L487.4 247.1L486.4 246.6L485.4 246.2L484.4 245.9L483.4 245.7L482.4 245.4L480.4 245.1L478.4 244.7L476.4 244.4L474.4 244L472.4 243.8L470.4 243.7L468.3 243.7L466.3 243.7L464.3 243.7L462.3 243.7L460.3 243.8L458.3 243.9L456.3 244.1L454.3 244.4L452.3 244.6L450.3 244.8L448.3 244.9L446.3 245L444.3 245L442.3 245L440.3 245L438.3 245L436.3 245L434.3 244.8L432.3 244.4L430.3 244L429.3 243.8L428.3 243.6L427.3 243.4L426.3 243.2L425.3 243L424.3 242.8L423.3 242.6L422.3 242.4L421.3 242.2L420.3 242L419.3 241.8L418.3 241.6L417.3 241.4L416.3 241.2L415.3 241L413.3 240.6L412.3 240.4L410.3 240.1L408.3 239.8L406.6 239.6L405.3 239.5L403.3 239.3L401.3 239.1L399.3 238.9L397.3 238.8L395.2 238.8L393.2 238.8L391.2 238.9L389.2 238.9L387.2 238.9L385.2 238.9L383.2 238.8L381.8 238.6L380.2 238.4L378.2 238.2L376.2 237.9L374.2 237.6L373.2 237.4L372.2 237L371.2 236.5L370.2 235.9L369.2 235.2L368.3 234.6L367.2 233.8L366.2 232.9L365.2 231.7L364.6 230.6L364.3 229.6L363.9 228.6L363.6 227.6L363.3 226.6L363.1 225.6L362.7 223.6L362.4 221.6L362.2 219.6L362.1 217.6L361.9 215.6L361.7 213.6L361.5 211.6L361.3 209.6L361.2 207.8L361.2 206.6L361.1 204.6L361 202.6L361 200.6L360.9 198.6L360.8 196.6"/>
<path d="M577.5 289.4L576.5 289L575.5 288.4L574.5 287.8L573.5 287.1L572.5 286.4L571.5 285.7L570.5 284.8L569.5 283.6L568.8 282.6L568.1 281.6L567.5 280.8L566.7 279.6L566 278.6L565.5 277.9L564.6 276.6L563.9 275.6L563.2 274.6L562.5 273.7L561.7 272.6L561 271.6L560.2 270.6L559.5 269.6L558.8 268.6L558 267.6L557.2 266.6L556.5 265.8L555.5 264.6L554.6 263.6L553.7 262.6L552.9 261.6L552 260.6L551.2 259.6L550.5 258.8L549.5 257.6L548.7 256.6L547.9 255.6L547.1 254.6L546.5 253.8L545.5 252.7L544.5 251.6L543.5 250.6L542.6 249.6L541.6 248.6L540.6 247.6L539.6 246.6L538.6 245.6L537.6 244.6L536.6 243.6L535.6 242.6L534.6 241.6L533.7 240.6L532.8 239.6L531.9 238.6L531 237.6L530.4 237L529.4 235.9L528.4 234.8L527.4 233.7L526.5 232.6L525.6 231.6L524.7 230.6L523.7 229.6L522.8 228.6L521.8 227.6L520.7 226.6L519.6 225.6L518.5 224.6L517.5 223.6L516.4 222.6L515.4 221.7L514.4 220.8L513.4 219.8L512.4 218.9L511.4 218L510.4 217.1L509.4 216.1L508.4 215.3L507.7 214.6L506.5 213.6L505.4 212.6L504.4 211.7L503.4 210.8L502.4 210L501.4 209.1L500.4 208.2L499.7 207.6L498.6 206.6L497.4 205.6L496.4 204.7L495.4 203.8L494.4 202.9L493.4 202.1L492.4 201.2L491.7 200.6L490.6 199.6L489.4 198.6L488.4 197.7L487.4 196.8L486.4 195.6"/>
<path d="M577.5 233.6L576.5 233L575.5 232.2L574.8 231.6L573.7 230.6L572.8 229.6L571.9 228.6L571.1 227.6L570.5 226.8L569.6 225.6L568.8 224.6L568 223.6L567.2 222.6L566.5 221.7L565.7 220.6L564.9 219.6L564 218.6L563.2 217.6L562.5 216.8L561.5 215.7L560.5 214.6L559.6 213.6L558.7 212.6L557.8 211.6L556.9 210.6L556 209.6L555.5 209L554.5 207.8L553.5 206.7L552.5 205.6L551.6 204.6L550.7 203.6L549.8 202.6L548.9 201.6L548 200.6L547.1 199.6L546.5 198.9L545.5 197.8L544.5 196.6L543.8 195.6"/>
</g>
<circle cx="250" cy="268.7" r="2.2" fill="#FFE000"/>
<ellipse cx="540" cy="377.5" rx="3.4" ry="2.5" fill="#22EE11" stroke="#000" stroke-opacity=".3" stroke-width=".3"/>
<ellipse cx="267.7" cy="410.2" rx="1.8" ry="2.6" fill="#66EE00"/>
<circle cx="353.7" cy="419.4" r="1.8" fill="#0044FF"/>
<clipPath id="fc"><rect x="215" y="195.6" width="362.5" height="270.1"/></clipPath>
<g id="parish-over" class="pl" clip-path="url(#fc)" style="stroke:#222;stroke-width:.33">
<path d="M94.5 21.2L96.2 30L97 50L100 61.2L100 64.5L86.2 65L78.8 64.5L75 61.2L71.2 58.8L66.2 57.5L62.5 60L58.8 63.8L51.2 67.5L50 75L45 79.5L37.5 78L30 78.8L17.5 78.8"/>
<path d="M86.2 65L87.5 70L94.5 80L94.5 88.8L100 88.8L170 88"/>
<path d="M99.5 88.8L100 100L106.2 106.2L107 125L100 140L100 141"/>
<path d="M29.5 78.8L29.5 141"/>
<path d="M193.8 21.2L190 25L187.5 32.5L188.8 41.2L185 48.8L181.2 53.8L175 58.8L172.5 65L172.5 85L170 88L175 92.5L180 105L185 117.5L186.2 130L183.8 141"/>
<path d="M185 48.8L190 47.5L200 48.8"/>
<path d="M198.8 55L200 65"/>
<path d="M200 56.2L285 55.5L347.5 54.5L400 53.8"/>
<path d="M285 55.5L281.2 65L280 75L276.2 85L275 95L271.2 105L267.5 112.5L263.8 120L261.2 128.8L262.5 136.2L265 130"/>
<path d="M267.5 117L305 115.5L346.2 113"/>
<path d="M347.5 54.5L343.8 62.5L344.5 75L343.8 85L346.2 100L347 113L342.5 120L336.2 127.5"/>
<path d="M336.2 127.5L396.5 126.2"/>
<path d="M395.8 53.8L396.2 121.2"/>
<path d="M261.2 128.8L255 141"/>
<path d="M400 53L435 52L546.2 48"/>
<path d="M434.5 52L435 70L440 75L445 85L448.8 95L452 105L452.5 112.5L453.8 130L454.5 141"/>
<path d="M452.5 112.5L482.5 117L500 120L525 120.5"/>
<path d="M546.2 48L545 53.8L546.2 58.8L542.5 65L541.2 72.5L536.2 77.5L537 85L532.5 91.2L530 100L528.8 107.5L526.2 115L525 120.5"/>
<path d="M500 120L526.2 120L531.5 124.5L532.2 130.5L535.2 138L536.7 144L541.2 149.2L545 154.5L551.7 157.5L557 162.7L558.5 171L561.5 177.7L566 183.7L569 189L566 195L567.5 199.5L569 204"/>
<path d="M29.5 141L31.2 148.5L27.5 156L25 164.8L30 176L25 186L26.2 203.5L27.5 218.5L32.5 224.8L27.5 233.5L25 246L18.8 251"/>
<path d="M17 165.2L93.8 165.2L94.5 173.5L106.2 174L107.5 192.2L111.2 193.5L112.5 206L108.8 208.5L106.2 214.8L100 215.5L99.5 219.8L95 221L93.8 228.5L87.5 236"/>
<path d="M50 164.8L53.8 156L58.8 154L90 153.5L90.5 147.2L100 146.5L100 141"/>
<path d="M18.8 251L25 246L37.5 242.2L45 248.5L52.5 252.2L62.5 255.5L72.5 251L80 242.2L87.5 236"/>
<path d="M87.5 236L100 235.5L107.5 238.5L116.2 241L122.5 239.8L125 247.2L130 252.2L145 257.2"/>
<path d="M112.5 203.5L125 189.8L130 186L132.5 189.8L136.2 187.2L141.2 188.5"/>
<path d="M141.2 188.5L142.5 181L150 182.2L162.5 178.5L172.5 182.2L195 182.2L200 182.2"/>
<path d="M141.2 188.5L146.2 191L145 201L147.5 208.5L145 216L142.5 221L143.8 227.2L147.5 228.5L152.5 226L155 232.2L150 248.5L145 257.2L141.2 271L142 282"/>
<path d="M147.5 250.2L155 249.8L160 253.5L165 251L172.5 256L175 253.5L180 246L187.5 241L195 239.8L200 242.2"/>
<path d="M183.8 141L182.5 151L183.8 159.8L200 160.2"/>
<path d="M183.8 159.8L186.2 168.5L192.5 177.2L196.2 182.2"/>
<path d="M192.5 162.2L197.5 171L200 173.5"/>
<path d="M17 258L27 258L27 282"/>
<path d="M27 282L27 364.5"/>
<path d="M142 282L145 302L144.5 327L142.5 342L138.8 348.2L133.8 352L132.5 357L132.5 369.5"/>
<path d="M215 275L195 295L175 312.5L152 333.8L190 335L215 367.5"/>
<path d="M207.5 275.8L215 275L250 273L275 270.5"/>
<path d="M259.2 130L257 136L252.5 142L251.7 145L246.5 145.7L245 152.5L242 154L241.2 157.7L231.5 158.2L232.2 160.7"/>
<path d="M232.2 160.7L224 161.5L218 163.7L215 162.2L207.5 160.7L200 161"/>
<path d="M232.2 160.7L236 166L242 172.7L248 179.5L252.5 183.2L257 187L261.5 193L263.7 196L278 195.7L294.5 196L305 196L317 195.4"/>
<path d="M262.2 130L261.5 136L260.7 141.2L263 145L267.5 145.7L273.5 146.5L275.7 149.5L273.5 152.5L269 154.7L267.5 157L270.5 158.5L278 155.5L281.7 154.7L284 157.7L284 167.5L281.7 176.5L278 182.5L275.7 187L276.5 190.7L281 192.2L290 191.5L293.7 193.7L294.5 196.7"/>
<path d="M200 169.7L203 173.5L206 181L206.7 187L203 187.7L202.2 191.5L206.7 196L208.2 202L212 206.5L215 209.5"/>
<path d="M336.1 127.5L330 133.5L322.5 139.5L321.7 144.7L323.2 150L322.5 156L323.2 162L321 166.5L324 172.5L324.7 178.5L327.7 183L332.2 186L336 189L343.5 190.5L348 195L351.7 201L353.2 204"/>
<path d="M396.7 120L396.7 126.3L397.2 159L399.7 163.5L402 171L408 177L411 183L414 187.5L414.7 195L414 204"/>
<path d="M314.2 204L316.5 195L321 191.2L330 190.5L332.2 186"/>
<path d="M453.2 120L454.7 127.5L454.3 135L455.5 139.5L456.2 165L456.7 184.5L460 189L464.5 193.5L468.2 198L469 204"/>
<path d="M576.5 218.4L582.5 216L587 217.5L590 223.5L608 218.4L635 216.6L648.5 210L665 219.6L710 224.4L716 235.5L723.5 244.5L728 256.5L729.5 270L726.5 288L720.5 306L713 321L707 330L698 340.5L689 348"/>
<path d="M576.5 316.5L578 325.5L590 328.5L599 336L656 330L680 327L708.5 326.4"/>
<path d="M689 348L686 354L674 363L665 369L662.6 378.6"/>
<path d="M692 449.4L689 456L680 465L674 471"/>
<path d="M576.5 423.6L584 423L593 427.5L602 435L605.6 447L605 465"/>
<path d="M214.5 399.5L225 401.6L240 404L252 410L261 419L270 428L282 434L300 440L312 444.5L321 445.4L328.5 447.5L324 450.5L321 456.5L321.6 464L327 468.5L342 471.5L360 473L378 470L393 466.4L402 465.5L420 467"/>
<path d="M395 463.8L402.5 462L410 463.8L418.8 466.2L425 468.8L432.5 471.2L440 470L450 467.5L462.5 463.8L475 457.5L485 450L492.5 442.5L500 437.5"/>
<path d="M432.5 430L432.5 471.2"/>
<path d="M317.8 195.5L313.1 208.8L308.4 222.8L303.8 236.9L302.2 250.2L301.4 252.5"/>
<path d="M301.4 250.2L291.2 254.1L280.3 258L278.8 263.4L274.1 265L273.3 271.2L275.6 278"/>
<path d="M302.2 250.2L310 246.2L319.4 248.6L327.2 250.2L328.8 255.6L328 263.4L330.3 271.2L335 272.8"/>
<path d="M210 205.6L213.1 210.3L219.4 213.4L225.6 215L231.9 217.3L233.4 221.2L230.3 225.2L231.9 230.6L235 233.8L235.8 238.4L236.6 242.3L249.1 242.3L252.2 246.2L253.8 252.5L272.5 252.2L275.6 257.2L278.8 258.8"/>
<path d="M210 258.8L214.7 258L230.3 257.2L231.9 252.5L253.8 252.5"/>
<path d="M235 275.2L241.2 278"/>
<path d="M347.5 193.1L350.6 197L353.8 202.5L358.4 205.6L360.8 210.3L366.2 213.4L369.4 219.7L373.3 223.6L377.2 225.2L380.3 219.7L381.9 215L385 213.4L388.9 215L394.4 216.6L397.5 218.1L402.2 217.3L406.9 213.4L410 208.8L412.3 202.5L413.1 196.2L413.9 190"/>
<path d="M385 215L385.8 227.5L384.2 236.9L381.1 243.1L380.3 249.4L377.2 255.6L379.5 261.9L381.1 268.1L381.9 278"/>
<path d="M335 240.8L341.2 236.9L353 234.5L385 227.5"/>
<path d="M413.9 203.3L422.5 201.7L431.9 200.9L441.2 197.8L447.5 198.6L460 204.1"/>
<path d="M460 223.6L450.6 226.7L442.8 229.1L436.6 236.9L428.8 244.7L422.5 252.5L416.2 255.6L406.9 256.4L403 258.8L402.2 265L403.8 269.7L405.3 278"/>
<path d="M454.5 226.7L452.2 236.9L451.4 252.5L452.2 268.1L452.5 278"/>
<path d="M335 268.1L338.1 271.2L337.3 278"/>
<path d="M464.7 190L467 196.2L470.9 205.6L473.3 213.4L474.1 220.5"/>
<path d="M460 211.9L467.8 216.6L474.1 220.5"/>
<path d="M474.1 220.5L481.9 225.2L491.2 226.7L500.6 225.2L506.9 221.2L513.9 218.1L522.5 218.1L530.3 219.7L536.6 223.6L541.2 225.2L547.5 221.2L552.2 222.8L556.9 220.5L563.1 223.6L569.4 226.7L575.6 229.1L578.8 228.3L585 225.9"/>
<path d="M569.4 226.7L566.2 230.6L561.6 235.3L560 241.6L553.8 244.7L551.4 249.4L553.8 252.5L550.6 253.3L545.2 249.4L538.1 249.4L533.4 250.9L528.8 258.8L524.1 258L520.2 260.3L513.1 262.7L506.9 261.1L503.8 263.4L501.4 269.7L505.3 274.4L510 278"/>
<path d="M481.9 225.2L481.1 236.9L480.3 252.5L479.5 268.1L478 274.4L480.3 278"/>
<path d="M567.8 190L566.2 196.2L569.4 201.7L571.7 207.2L572.5 213.4L576.4 219.7L577.2 225.9"/>
<path d="M492 271.2L493.6 275.2L495.9 278"/>
<path d="M238.1 278L245.9 284.2L250.6 293.6L252.2 301.4L251.4 309.2L256.9 311.6L266.2 313.2L275.6 314.7L285 316.3L291.2 320.2L297.5 322.5L303.8 324.9L304.5 337.4L303.8 340.5"/>
<path d="M278.8 284.2L283.4 285.8L285 292.1L289.7 295.2L297.5 298.3L302.2 301.4L304.5 309.2L305.3 315.5L303.8 324.9"/>
<path d="M335 298.3L328.8 309.2L319.4 323.3L310 334.2L303.8 340.5L297.5 343.6L291.2 346.8L283.4 351.4L278.8 356.1L274.1 359.2L273.3 366"/>
<path d="M325.6 278L330.3 281.1L335 284.2"/>
<path d="M361.6 280.3L366.2 281.1L372.5 282.7L380.3 284.6L381.9 282.7L381.9 278"/>
<path d="M380.3 284.6L389.7 284.2L403.8 285"/>
<path d="M406.9 278L407.7 284.2L413.1 290.5L416.2 296.8L417.8 303L422.5 306.9L428.8 308.5L435 309.2L438.1 315.5L439.7 322.5L444.4 324.9L460 324.1"/>
<path d="M353.8 309.2L356.9 310.8L358.4 317.1L363.1 323.3L367.8 328L374.1 331.9L380.3 337.4L386.6 342.1L392.8 347.5L397.5 353L402.2 357.7L406.9 362.4L408.4 366"/>
<path d="M335 298.3L338.1 287.4L339.7 278"/>
<path d="M342 320.2L343.6 313.2L350.6 311.6L353.8 309.2"/>
<path d="M463.9 287.4L472.5 296.8L467.8 309.2L463.1 320.2L460 324.9"/>
<path d="M502.2 278L499.8 285.8L492.8 293.6L490.5 301.4L492 309.2L495.9 317.1L499.1 323.3L503 329.6L505.3 335.8L508.4 343.6L510 351.4L511.6 359.2L513.1 366"/>
<path d="M506.9 278L513.1 281.1L517.8 284.2L520.2 287.4L522.5 293.6L527.2 299.9L535 301.4L541.2 304.6L544.4 308.5L550.6 307.7L556.9 309.2L561.6 315.5L567.8 318.6L575.6 323.3L585 328"/>
<path d="M460 324.9L469.4 324.9L474.8 329.6L475.6 335.8L473.3 340.5L474.8 346.8L472.5 353L470.9 357.7L474.1 362.4L475.6 366"/>
<path d="M274.1 366L273.3 372.2L277.2 378.5L282.7 382.4L281.9 389.4L277.2 395.7L274.1 400.4L270.9 406.6L265.5 408.2L260 407.4L259.2 404.3"/>
<path d="M259.2 404.3L259.2 422.2"/>
<path d="M408.4 366L414.7 370.7L420.2 376.2L424.1 381.6L428.8 386.3L434.2 391L435.8 397.2L437.3 405.1L435 412.9L432.7 417.6L431.9 428.5L432.2 454L432.2 466"/>
<path d="M478.8 366L483.4 369.1L491.2 370.7L497.5 372.2L500.6 378.5L499.8 386.3L499.1 394.1L502.2 400.4L506.1 405.1L503.8 411.3L497.5 417.6L492.8 423.8L490.5 431.6L492 439.4"/>
<path d="M509.2 366L511.6 372.2L516.2 380.1L519.4 389.4L522.5 398.8L524.8 408.2L525.3 420.7L525.6 434.8"/>
<path d="M500 440.1L511.6 437.9L525.6 434.8L541.2 431.6L556.9 428.5L569.4 426.2L577.2 424.6L585 425.4"/>
<path d="M193.3 20.5L190 25L187.7 30.5L190 37.1L187.7 43.8L184.4 49.3L182.2 53.7L180 54.8"/>
<path d="M209.9 20.5L205.5 26.1L204.4 32.7L209.9 37.1L215.4 41.6L216.5 47.1L211 50.4L202.1 49.3L193.3 48.2L186.6 49.3L184.4 51.5L188.9 54.8L196.6 56L201 53.7L202.1 56L198.8 60.4L197.7 63.7L201 70.3L199.5 81.4L199.9 87L204.4 89.8L213.2 90.3L221 87.6L224.9 81.4L224.3 75.9L219.8 73.2L208.8 73.2L206.6 75.2L209.9 77.7L216.5 80.3L217.6 85.8L213.2 89.2"/>
<path d="M224.9 81.4L225.4 90.3L222.1 96.9L215.4 101.3L211 103.6L211 108L215.4 110.6L224.3 111.3L237.6 109.1L246.4 106.9L250.8 108L254.2 113.5L256.4 120.2L258.6 125.7L263 127.9"/>
<path d="M120 363.2L125.2 363.2L132 369.2L132.7 372.2L136.5 376.7L142.5 378.2L146.2 382L152.2 384.2L156 386.5L156.7 391L159 396.2L163.5 398.8L169.5 398.8L175.5 395.5L180.7 391L186 394.7L192 398.2L196.5 398.2L201.7 395.2L204.7 394.7L209.2 397.7L215.2 398.8"/>
<path d="M17 362L27 365L50 368.2L70 371.5L85 374L95 372.5L102.5 368.2L110 364L117.5 362.5L125 363.2"/>
</g>
<g id="wells">
<path d="M286.2 61.2h2.6M287.5 59.9v2.6" stroke="#111" stroke-width=".3" fill="none"/>
<circle cx="287.5" cy="61.2" r=".6" fill="none" stroke="#111" stroke-width=".3"/>
<path d="M322.4 86.2h2.6M323.7 84.9v2.6" stroke="#111" stroke-width=".3" fill="none"/>
<circle cx="323.7" cy="86.2" r=".6" fill="none" stroke="#111" stroke-width=".3"/>
<circle cx="355.5" cy="81.2" r="1.05" fill="none" stroke="#222" stroke-width=".3"/>
<path d="M387.9 80.5h2.6M389.2 79.2v2.6" stroke="#111" stroke-width=".3" fill="none"/>
<circle cx="389.2" cy="80.5" r=".6" fill="none" stroke="#111" stroke-width=".3"/>
<path d="M251.2 98h2.6M252.5 96.7v2.6" stroke="#111" stroke-width=".3" fill="none"/>
<circle cx="252.5" cy="98" r=".6" fill="none" stroke="#111" stroke-width=".3"/>
<circle cx="279.5" cy="102" r=".95" fill="#111"/>
<path d="M318.2 99.2h2.6M319.5 97.9v2.6" stroke="#111" stroke-width=".3" fill="none"/>
<circle cx="319.5" cy="99.2" r=".6" fill="none" stroke="#111" stroke-width=".3"/>
<path d="M356.9 103.7h2.6M358.2 102.4v2.6" stroke="#111" stroke-width=".3" fill="none"/>
<circle cx="358.2" cy="103.7" r=".6" fill="none" stroke="#111" stroke-width=".3"/>
<path d="M388.7 117h2.6M390 115.7v2.6" stroke="#111" stroke-width=".3" fill="none"/>
<circle cx="390" cy="117" r=".6" fill="none" stroke="#111" stroke-width=".3"/>
<circle cx="281.2" cy="127" r="1.05" fill="none" stroke="#222" stroke-width=".3"/>
<circle cx="228.2" cy="136.8" r="1.05" fill="none" stroke="#222" stroke-width=".3"/>
<path d="M510.7 74.5h2.6M512 73.2v2.6" stroke="#111" stroke-width=".3" fill="none"/>
<circle cx="512" cy="74.5" r=".6" fill="none" stroke="#111" stroke-width=".3"/>
<circle cx="494.5" cy="79.5" r="1.05" fill="none" stroke="#222" stroke-width=".3"/>
<path d="M504.9 87h2.6M506.2 85.7v2.6" stroke="#111" stroke-width=".3" fill="none"/>
<circle cx="506.2" cy="87" r=".6" fill="none" stroke="#111" stroke-width=".3"/>
<path d="M482.7 97.5h2.6M484 96.2v2.6" stroke="#111" stroke-width=".3" fill="none"/>
<circle cx="484" cy="97.5" r=".6" fill="none" stroke="#111" stroke-width=".3"/>
<path d="M501.9 113.7h2.6M503.2 112.4v2.6" stroke="#111" stroke-width=".3" fill="none"/>
<circle cx="503.2" cy="113.7" r=".6" fill="none" stroke="#111" stroke-width=".3"/>
<path d="M430.4 86.7h2.6M431.7 85.4v2.6" stroke="#111" stroke-width=".3" fill="none"/>
<circle cx="431.7" cy="86.7" r=".6" fill="none" stroke="#111" stroke-width=".3"/>
<path d="M435.7 109.5h2.6M437 108.2v2.6" stroke="#111" stroke-width=".3" fill="none"/>
<circle cx="437" cy="109.5" r=".6" fill="none" stroke="#111" stroke-width=".3"/>
<path d="M508.7 139.2h2.6M510 137.9v2.6" stroke="#111" stroke-width=".3" fill="none"/>
<circle cx="510" cy="139.2" r=".6" fill="none" stroke="#111" stroke-width=".3"/>
<circle cx="268.2" cy="143.8" r="1.05" fill="none" stroke="#222" stroke-width=".3"/>
<path d="M299.9 144h2.6M301.2 142.7v2.6" stroke="#111" stroke-width=".3" fill="none"/>
<circle cx="301.2" cy="144" r=".6" fill="none" stroke="#111" stroke-width=".3"/>
<path d="M216.4 165.2h2.6M217.7 163.9v2.6" stroke="#111" stroke-width=".3" fill="none"/>
<circle cx="217.7" cy="165.2" r=".6" fill="none" stroke="#111" stroke-width=".3"/>
<path d="M262 166h2.6M263.3 164.7v2.6" stroke="#111" stroke-width=".3" fill="none"/>
<circle cx="263.3" cy="166" r=".6" fill="none" stroke="#111" stroke-width=".3"/>
<circle cx="305" cy="182.2" r=".95" fill="#111"/>
<path d="M211 196h2.6M212.3 194.7v2.6" stroke="#111" stroke-width=".3" fill="none"/>
<circle cx="212.3" cy="196" r=".6" fill="none" stroke="#111" stroke-width=".3"/>
<circle cx="260" cy="200.3" r="1.05" fill="none" stroke="#222" stroke-width=".3"/>
<path d="M298.7 195.7h2.6M300 194.4v2.6" stroke="#111" stroke-width=".3" fill="none"/>
<circle cx="300" cy="195.7" r=".6" fill="none" stroke="#111" stroke-width=".3"/>
<path d="M330.2 156h2.6M331.5 154.7v2.6" stroke="#111" stroke-width=".3" fill="none"/>
<circle cx="331.5" cy="156" r=".6" fill="none" stroke="#111" stroke-width=".3"/>
<circle cx="368" cy="156" r="1.05" fill="none" stroke="#222" stroke-width=".3"/>
<path d="M380.4 175.2h2.6M381.7 173.9v2.6" stroke="#111" stroke-width=".3" fill="none"/>
<circle cx="381.7" cy="175.2" r=".6" fill="none" stroke="#111" stroke-width=".3"/>
<path d="M330.9 186h2.6M332.2 184.7v2.6" stroke="#111" stroke-width=".3" fill="none"/>
<circle cx="332.2" cy="186" r=".6" fill="none" stroke="#111" stroke-width=".3"/>
<path d="M391.8 200.2h2.6M393.1 198.9v2.6" stroke="#111" stroke-width=".3" fill="none"/>
<circle cx="393.1" cy="200.2" r=".6" fill="none" stroke="#111" stroke-width=".3"/>
<path d="M448.7 154.8h2.6M450 153.5v2.6" stroke="#111" stroke-width=".3" fill="none"/>
<circle cx="450" cy="154.8" r=".6" fill="none" stroke="#111" stroke-width=".3"/>
<path d="M422.2 180.3h2.6M423.5 179v2.6" stroke="#111" stroke-width=".3" fill="none"/>
<circle cx="423.5" cy="180.3" r=".6" fill="none" stroke="#111" stroke-width=".3"/>
<path d="M465.1 184.5h2.6M466.4 183.2v2.6" stroke="#111" stroke-width=".3" fill="none"/>
<circle cx="466.4" cy="184.5" r=".6" fill="none" stroke="#111" stroke-width=".3"/>
<path d="M472.3 195.8h2.6M473.6 194.5v2.6" stroke="#111" stroke-width=".3" fill="none"/>
<circle cx="473.6" cy="195.8" r=".6" fill="none" stroke="#111" stroke-width=".3"/>
<path d="M514.8 182h2.6M516.1 180.7v2.6" stroke="#111" stroke-width=".3" fill="none"/>
<circle cx="516.1" cy="182" r=".6" fill="none" stroke="#111" stroke-width=".3"/>
<path d="M556.1 182h2.6M557.4 180.7v2.6" stroke="#111" stroke-width=".3" fill="none"/>
<circle cx="557.4" cy="182" r=".6" fill="none" stroke="#111" stroke-width=".3"/>
<circle cx="578.7" cy="232.5" r="1.05" fill="none" stroke="#222" stroke-width=".3"/>
<path d="M585.1 299h2.6M586.4 297.7v2.6" stroke="#111" stroke-width=".3" fill="none"/>
<circle cx="586.4" cy="299" r=".6" fill="none" stroke="#111" stroke-width=".3"/>
<circle cx="334.2" cy="203.3" r="1.05" fill="none" stroke="#222" stroke-width=".3"/>
<path d="M228.2 225.2h2.6M229.5 223.9v2.6" stroke="#111" stroke-width=".3" fill="none"/>
<circle cx="229.5" cy="225.2" r=".6" fill="none" stroke="#111" stroke-width=".3"/>
<path d="M252 233h2.6M253.3 231.7v2.6" stroke="#111" stroke-width=".3" fill="none"/>
<circle cx="253.3" cy="233" r=".6" fill="none" stroke="#111" stroke-width=".3"/>
<circle cx="222" cy="239.5" r=".95" fill="#111"/>
<path d="M302.7 227h2.6M304 225.7v2.6" stroke="#111" stroke-width=".3" fill="none"/>
<circle cx="304" cy="227" r=".6" fill="none" stroke="#111" stroke-width=".3"/>
<path d="M287.7 235.8h2.6M289 234.5v2.6" stroke="#111" stroke-width=".3" fill="none"/>
<circle cx="289" cy="235.8" r=".6" fill="none" stroke="#111" stroke-width=".3"/>
<path d="M301.2 253.6h2.6M302.5 252.3v2.6" stroke="#111" stroke-width=".3" fill="none"/>
<circle cx="302.5" cy="253.6" r=".6" fill="none" stroke="#111" stroke-width=".3"/>
<circle cx="259.5" cy="260.6" r="1.05" fill="none" stroke="#222" stroke-width=".3"/>
<path d="M213.4 272h2.6M214.7 270.7v2.6" stroke="#111" stroke-width=".3" fill="none"/>
<circle cx="214.7" cy="272" r=".6" fill="none" stroke="#111" stroke-width=".3"/>
<path d="M260.2 275.6h2.6M261.5 274.3v2.6" stroke="#111" stroke-width=".3" fill="none"/>
<circle cx="261.5" cy="275.6" r=".6" fill="none" stroke="#111" stroke-width=".3"/>
<path d="M395.4 216.6h2.6M396.7 215.3v2.6" stroke="#111" stroke-width=".3" fill="none"/>
<circle cx="396.7" cy="216.6" r=".6" fill="none" stroke="#111" stroke-width=".3"/>
<path d="M418.5 229h2.6M419.8 227.7v2.6" stroke="#111" stroke-width=".3" fill="none"/>
<circle cx="419.8" cy="229" r=".6" fill="none" stroke="#111" stroke-width=".3"/>
<path d="M391.2 233.4h2.6M392.5 232.1v2.6" stroke="#111" stroke-width=".3" fill="none"/>
<circle cx="392.5" cy="233.4" r=".6" fill="none" stroke="#111" stroke-width=".3"/>
<path d="M351.7 234.2h2.6M353 232.9v2.6" stroke="#111" stroke-width=".3" fill="none"/>
<circle cx="353" cy="234.2" r=".6" fill="none" stroke="#111" stroke-width=".3"/>
<circle cx="449.8" cy="244.7" r=".95" fill="#111"/>
<path d="M457.1 230.2h2.6M458.4 228.9v2.6" stroke="#111" stroke-width=".3" fill="none"/>
<circle cx="458.4" cy="230.2" r=".6" fill="none" stroke="#111" stroke-width=".3"/>
<path d="M349.8 247.3h2.6M351.1 246v2.6" stroke="#111" stroke-width=".3" fill="none"/>
<circle cx="351.1" cy="247.3" r=".6" fill="none" stroke="#111" stroke-width=".3"/>
<path d="M417 248.9h2.6M418.3 247.6v2.6" stroke="#111" stroke-width=".3" fill="none"/>
<circle cx="418.3" cy="248.9" r=".6" fill="none" stroke="#111" stroke-width=".3"/>
<path d="M395.1 256.7h2.6M396.4 255.4v2.6" stroke="#111" stroke-width=".3" fill="none"/>
<circle cx="396.4" cy="256.7" r=".6" fill="none" stroke="#111" stroke-width=".3"/>
<circle cx="350.2" cy="263.9" r="1.05" fill="none" stroke="#222" stroke-width=".3"/>
<circle cx="417.8" cy="270.5" r="1.05" fill="none" stroke="#222" stroke-width=".3"/>
<path d="M512.7 217.8h2.6M514 216.5v2.6" stroke="#111" stroke-width=".3" fill="none"/>
<circle cx="514" cy="217.8" r=".6" fill="none" stroke="#111" stroke-width=".3"/>
<path d="M518.4 247.8h2.6M519.7 246.5v2.6" stroke="#111" stroke-width=".3" fill="none"/>
<circle cx="519.7" cy="247.8" r=".6" fill="none" stroke="#111" stroke-width=".3"/>
<circle cx="528" cy="260.3" r="1.05" fill="none" stroke="#222" stroke-width=".3"/>
<path d="M558.7 259.8h2.6M560 258.5v2.6" stroke="#111" stroke-width=".3" fill="none"/>
<circle cx="560" cy="259.8" r=".6" fill="none" stroke="#111" stroke-width=".3"/>
<path d="M561.7 275.2h2.6M563 273.9v2.6" stroke="#111" stroke-width=".3" fill="none"/>
<circle cx="563" cy="275.2" r=".6" fill="none" stroke="#111" stroke-width=".3"/>
<path d="M243.4 290h2.6M244.7 288.7v2.6" stroke="#111" stroke-width=".3" fill="none"/>
<circle cx="244.7" cy="290" r=".6" fill="none" stroke="#111" stroke-width=".3"/>
<path d="M227 306.4h2.6M228.3 305.1v2.6" stroke="#111" stroke-width=".3" fill="none"/>
<circle cx="228.3" cy="306.4" r=".6" fill="none" stroke="#111" stroke-width=".3"/>
<path d="M264.7 315h2.6M266 313.7v2.6" stroke="#111" stroke-width=".3" fill="none"/>
<circle cx="266" cy="315" r=".6" fill="none" stroke="#111" stroke-width=".3"/>
<path d="M286 282h2.6M287.3 280.7v2.6" stroke="#111" stroke-width=".3" fill="none"/>
<circle cx="287.3" cy="282" r=".6" fill="none" stroke="#111" stroke-width=".3"/>
<path d="M294.2 299h2.6M295.5 297.7v2.6" stroke="#111" stroke-width=".3" fill="none"/>
<circle cx="295.5" cy="299" r=".6" fill="none" stroke="#111" stroke-width=".3"/>
<path d="M295.1 319h2.6M296.4 317.7v2.6" stroke="#111" stroke-width=".3" fill="none"/>
<circle cx="296.4" cy="319" r=".6" fill="none" stroke="#111" stroke-width=".3"/>
<path d="M233.2 332h2.6M234.5 330.7v2.6" stroke="#111" stroke-width=".3" fill="none"/>
<circle cx="234.5" cy="332" r=".6" fill="none" stroke="#111" stroke-width=".3"/>
<path d="M267.7 333h2.6M269 331.7v2.6" stroke="#111" stroke-width=".3" fill="none"/>
<circle cx="269" cy="333" r=".6" fill="none" stroke="#111" stroke-width=".3"/>
<path d="M304.3 337.8h2.6M305.6 336.5v2.6" stroke="#111" stroke-width=".3" fill="none"/>
<circle cx="305.6" cy="337.8" r=".6" fill="none" stroke="#111" stroke-width=".3"/>
<path d="M331 308.2h2.6M332.3 306.9v2.6" stroke="#111" stroke-width=".3" fill="none"/>
<circle cx="332.3" cy="308.2" r=".6" fill="none" stroke="#111" stroke-width=".3"/>
<path d="M313.1 346h2.6M314.4 344.7v2.6" stroke="#111" stroke-width=".3" fill="none"/>
<circle cx="314.4" cy="346" r=".6" fill="none" stroke="#111" stroke-width=".3"/>
<circle cx="251.4" cy="354.6" r="1.05" fill="none" stroke="#222" stroke-width=".3"/>
<circle cx="302.5" cy="360.8" r="1.05" fill="none" stroke="#222" stroke-width=".3"/>
<path d="M231 363.2h2.6M232.3 361.9v2.6" stroke="#111" stroke-width=".3" fill="none"/>
<circle cx="232.3" cy="363.2" r=".6" fill="none" stroke="#111" stroke-width=".3"/>
<path d="M387.9 283.8h2.6M389.2 282.5v2.6" stroke="#111" stroke-width=".3" fill="none"/>
<circle cx="389.2" cy="283.8" r=".6" fill="none" stroke="#111" stroke-width=".3"/>
<circle cx="384.2" cy="301.4" r=".95" fill="#111"/>
<circle cx="416.6" cy="303.8" r="1.05" fill="none" stroke="#222" stroke-width=".3"/>
<path d="M375.1 319.7h2.6M376.4 318.4v2.6" stroke="#111" stroke-width=".3" fill="none"/>
<circle cx="376.4" cy="319.7" r=".6" fill="none" stroke="#111" stroke-width=".3"/>
<path d="M420.1 333.5h2.6M421.4 332.2v2.6" stroke="#111" stroke-width=".3" fill="none"/>
<circle cx="421.4" cy="333.5" r=".6" fill="none" stroke="#111" stroke-width=".3"/>
<path d="M367.7 341h2.6M369 339.7v2.6" stroke="#111" stroke-width=".3" fill="none"/>
<circle cx="369" cy="341" r=".6" fill="none" stroke="#111" stroke-width=".3"/>
<path d="M422.3 354.6h2.6M423.6 353.3v2.6" stroke="#111" stroke-width=".3" fill="none"/>
<circle cx="423.6" cy="354.6" r=".6" fill="none" stroke="#111" stroke-width=".3"/>
<path d="M339.2 334.2h2.6M340.5 332.9v2.6" stroke="#111" stroke-width=".3" fill="none"/>
<circle cx="340.5" cy="334.2" r=".6" fill="none" stroke="#111" stroke-width=".3"/>
<circle cx="345.5" cy="348.6" r="1.05" fill="none" stroke="#222" stroke-width=".3"/>
<path d="M379.5 362h2.6M380.8 360.7v2.6" stroke="#111" stroke-width=".3" fill="none"/>
<circle cx="380.8" cy="362" r=".6" fill="none" stroke="#111" stroke-width=".3"/>
<circle cx="345.5" cy="277" r="1.05" fill="none" stroke="#222" stroke-width=".3"/>
<path d="M452.4 282.7h2.6M453.7 281.4v2.6" stroke="#111" stroke-width=".3" fill="none"/>
<circle cx="453.7" cy="282.7" r=".6" fill="none" stroke="#111" stroke-width=".3"/>
<path d="M548.2 301.8h2.6M549.5 300.5v2.6" stroke="#111" stroke-width=".3" fill="none"/>
<circle cx="549.5" cy="301.8" r=".6" fill="none" stroke="#111" stroke-width=".3"/>
<circle cx="544.8" cy="324.4" r=".95" fill="#111"/>
<path d="M494.7 318.6h2.6M496 317.3v2.6" stroke="#111" stroke-width=".3" fill="none"/>
<circle cx="496" cy="318.6" r=".6" fill="none" stroke="#111" stroke-width=".3"/>
<path d="M489.2 342.4h2.6M490.5 341.1v2.6" stroke="#111" stroke-width=".3" fill="none"/>
<circle cx="490.5" cy="342.4" r=".6" fill="none" stroke="#111" stroke-width=".3"/>
<circle cx="480.3" cy="357.4" r=".95" fill="#111"/>
<path d="M573.9 346.3h2.6M575.2 345v2.6" stroke="#111" stroke-width=".3" fill="none"/>
<circle cx="575.2" cy="346.3" r=".6" fill="none" stroke="#111" stroke-width=".3"/>
<path d="M539.7 359.6h2.6M541 358.3v2.6" stroke="#111" stroke-width=".3" fill="none"/>
<circle cx="541" cy="359.6" r=".6" fill="none" stroke="#111" stroke-width=".3"/>
<circle cx="260.8" cy="379.3" r="1.05" fill="none" stroke="#222" stroke-width=".3"/>
<path d="M236.8 389h2.6M238.1 387.7v2.6" stroke="#111" stroke-width=".3" fill="none"/>
<circle cx="238.1" cy="389" r=".6" fill="none" stroke="#111" stroke-width=".3"/>
<circle cx="279.2" cy="385.5" r=".95" fill="#111"/>
<path d="M293.9 381.3h2.6M295.2 380v2.6" stroke="#111" stroke-width=".3" fill="none"/>
<circle cx="295.2" cy="381.3" r=".6" fill="none" stroke="#111" stroke-width=".3"/>
<path d="M252.9 400.7h2.6M254.2 399.4v2.6" stroke="#111" stroke-width=".3" fill="none"/>
<circle cx="254.2" cy="400.7" r=".6" fill="none" stroke="#111" stroke-width=".3"/>
<path d="M272.4 412.1h2.6M273.7 410.8v2.6" stroke="#111" stroke-width=".3" fill="none"/>
<circle cx="273.7" cy="412.1" r=".6" fill="none" stroke="#111" stroke-width=".3"/>
<circle cx="295.6" cy="412.6" r="1.05" fill="none" stroke="#222" stroke-width=".3"/>
<path d="M302.7 440.5h2.6M304 439.2v2.6" stroke="#111" stroke-width=".3" fill="none"/>
<circle cx="304" cy="440.5" r=".6" fill="none" stroke="#111" stroke-width=".3"/>
<path d="M338.4 368.3h2.6M339.7 367v2.6" stroke="#111" stroke-width=".3" fill="none"/>
<circle cx="339.7" cy="368.3" r=".6" fill="none" stroke="#111" stroke-width=".3"/>
<path d="M335.3 386.3h2.6M336.6 385v2.6" stroke="#111" stroke-width=".3" fill="none"/>
<circle cx="336.6" cy="386.3" r=".6" fill="none" stroke="#111" stroke-width=".3"/>
<path d="M348.9 402.7h2.6M350.2 401.4v2.6" stroke="#111" stroke-width=".3" fill="none"/>
<circle cx="350.2" cy="402.7" r=".6" fill="none" stroke="#111" stroke-width=".3"/>
<circle cx="353" cy="417.6" r="1.05" fill="none" stroke="#222" stroke-width=".3"/>
<circle cx="383.9" cy="396.2" r="1.05" fill="none" stroke="#222" stroke-width=".3"/>
<path d="M414.5 392.6h2.6M415.8 391.3v2.6" stroke="#111" stroke-width=".3" fill="none"/>
<circle cx="415.8" cy="392.6" r=".6" fill="none" stroke="#111" stroke-width=".3"/>
<circle cx="404.2" cy="420.2" r=".95" fill="#111"/>
<circle cx="378.7" cy="426.2" r="1.05" fill="none" stroke="#222" stroke-width=".3"/>
<path d="M338.4 438.2h2.6M339.7 436.9v2.6" stroke="#111" stroke-width=".3" fill="none"/>
<circle cx="339.7" cy="438.2" r=".6" fill="none" stroke="#111" stroke-width=".3"/>
<circle cx="393.1" cy="446" r="1.05" fill="none" stroke="#222" stroke-width=".3"/>
<circle cx="493.1" cy="377.7" r=".95" fill="#111"/>
<path d="M542.6 377.2h2.6M543.9 375.9v2.6" stroke="#111" stroke-width=".3" fill="none"/>
<circle cx="543.9" cy="377.2" r=".6" fill="none" stroke="#111" stroke-width=".3"/>
<circle cx="560" cy="379.3" r=".95" fill="#111"/>
<path d="M535.6 398.8h2.6M536.9 397.5v2.6" stroke="#111" stroke-width=".3" fill="none"/>
<circle cx="536.9" cy="398.8" r=".6" fill="none" stroke="#111" stroke-width=".3"/>
<path d="M484.5 411.8h2.6M485.8 410.5v2.6" stroke="#111" stroke-width=".3" fill="none"/>
<circle cx="485.8" cy="411.8" r=".6" fill="none" stroke="#111" stroke-width=".3"/>
<circle cx="577.5" cy="404.7" r="1.05" fill="none" stroke="#222" stroke-width=".3"/>
<path d="M573.5 416.3h2.6M574.8 415v2.6" stroke="#111" stroke-width=".3" fill="none"/>
<circle cx="574.8" cy="416.3" r=".6" fill="none" stroke="#111" stroke-width=".3"/>
<circle cx="492" cy="440" r="1.05" fill="none" stroke="#222" stroke-width=".3"/>
<path d="M361.2 457h2.6M362.5 455.7v2.6" stroke="#111" stroke-width=".3" fill="none"/>
<circle cx="362.5" cy="457" r=".6" fill="none" stroke="#111" stroke-width=".3"/>
<circle cx="389.5" cy="459.5" r="1.05" fill="none" stroke="#222" stroke-width=".3"/>
<path d="M417.4 465.7h2.6M418.7 464.4v2.6" stroke="#111" stroke-width=".3" fill="none"/>
<circle cx="418.7" cy="465.7" r=".6" fill="none" stroke="#111" stroke-width=".3"/>
</g>
<g stroke="#555" stroke-width=".5" fill="none"><circle cx="36.1" cy="38.2" r="6.7"/><circle cx="36.1" cy="38.2" r="5.6" stroke-width=".3"/><path d="M35.9 25v7" stroke-width="1.3"/><path d="M35.9 44.5v2.8M28.4 38.3h2M41.4 38.3h2" stroke-width=".6"/><path d="M33.6 41.6v-6.8l4.6 6.8v-6.8" stroke-width=".8"/></g>
<rect x="702.5" y="41.5" width="56" height="169.5" fill="none" stroke="#e2e2e2" stroke-width=".6"/>
<defs><linearGradient id="cb" x1="0" y1="0" x2="0" y2="1">
<stop offset="0.0000" stop-color="#FF2000"/>
<stop offset="0.0530" stop-color="#FF5A00"/>
<stop offset="0.1288" stop-color="#FFB000"/>
<stop offset="0.2045" stop-color="#FFF800"/>
<stop offset="0.2803" stop-color="#B4FF00"/>
<stop offset="0.3561" stop-color="#50FF00"/>
<stop offset="0.3864" stop-color="#30F000"/>
<stop offset="0.4015" stop-color="#00F030"/>
<stop offset="0.4318" stop-color="#00FF66"/>
<stop offset="0.5076" stop-color="#00FFBB"/>
<stop offset="0.5833" stop-color="#00FFFF"/>
<stop offset="0.6591" stop-color="#00B0FF"/>
<stop offset="0.7348" stop-color="#0060FF"/>
<stop offset="0.8106" stop-color="#1000FF"/>
<stop offset="0.8864" stop-color="#9000FF"/>
<stop offset="0.9621" stop-color="#F000FF"/>
<stop offset="1.0000" stop-color="#FF00FF"/>
</linearGradient></defs>
<rect x="704.5" y="52.1" width="9.4" height="154.9" fill="url(#cb)"/>
<rect x="625" y="379" width="142" height="70" fill="none" stroke="#dcdcdc" stroke-width=".6"/>
<path d="M625 389H767" stroke="#dcdcdc" stroke-width=".6"/>
<path d="M625 404H767" stroke="#dcdcdc" stroke-width=".6"/>
<path d="M625 419.3H767" stroke="#dcdcdc" stroke-width=".6"/>
<path d="M625 434.2H767" stroke="#dcdcdc" stroke-width=".6"/>
<path d="M696.4 404V449" stroke="#dcdcdc" stroke-width=".6"/>
<g fill="#00704A"><rect x="41.6" y="527.6" width="8.4" height="9.1"/><g fill="none" stroke="#fff" stroke-width=".55"><path d="M41.6 529.4c3.2 0 5.2 5.2 8.4 5.2"/><path d="M41.6 530.6c3.2 0 5.2 3 8.4 3"/><path d="M41.6 534.9c3.2 0 5.2-5.2 8.4-5.2"/><path d="M41.6 533.7c3.2 0 5.2-3 8.4-3"/><path d="M41.6 532.2h8.4" stroke-width=".4"/></g></g>
<g fill="#461D7C"><path d="M105.9 529h3.6v7.1h5.3v2.9h-8.9zM116.4 529h11.7v2.8h-8.2v.8h8.2v6.4h-11.7v-2.8h8.2v-.8h-8.2zM129.7 529h3.6v7.1h4v-7.1h3.6v10h-11.2z"/><rect x="145.8" y="527.5" width=".7" height="13.2" fill="#9d8cbd"/></g>
<rect x="243.6" y="533.6" width="3.796" height="6" fill="#000"/>
<rect x="251.192" y="533.6" width="3.796" height="6" fill="#000"/>
<rect x="258.784" y="533.6" width="3.796" height="6" fill="#000"/>
<rect x="281.56" y="533.6" width="18.98" height="6" fill="#000"/>
<rect x="319.52" y="533.6" width="18.98" height="6" fill="#000"/>
<path d="M243.6 533.8H338.5M243.6 539.4H338.5" stroke="#bbb" stroke-width=".3"/>
<rect x="388.8" y="533.6" width="6.108" height="6" fill="#000"/>
<rect x="401.016" y="533.6" width="6.108" height="6" fill="#000"/>
<rect x="413.232" y="533.6" width="6.108" height="6" fill="#000"/>
<rect x="449.88" y="533.6" width="30.54" height="6" fill="#000"/>
<rect x="510.96" y="533.6" width="30.54" height="6" fill="#000"/>
<path d="M388.8 533.8H541.5M388.8 539.4H541.5" stroke="#bbb" stroke-width=".3"/>
<rect x="787" y="551.5" width="3" height="3.6" fill="#e8902a"/>
<g id="labels" opacity=".99">
<text transform="translate(278.8 291.3) rotate(-80)" text-anchor="middle" style="font-size:4.7px;fill:#000">-5000</text>
<text transform="translate(221 358.5) rotate(-70)" text-anchor="middle" style="font-size:4.7px;fill:#000">-5000</text>
<text transform="translate(423.7 326.9) rotate(8)" text-anchor="middle" style="font-size:4.7px;fill:#000">-5000</text>
<text transform="translate(513.5 357.5) rotate(65)" text-anchor="middle" style="font-size:4.7px;fill:#000">-5000</text>
<text transform="translate(327.2 436.3) rotate(-88)" text-anchor="middle" style="font-size:4.7px;fill:#000">-10000</text>
<text transform="translate(274.5 452.5) rotate(-70)" text-anchor="middle" style="font-size:4.7px;fill:#000">-10000</text>
<text transform="translate(570.3 424) rotate(-45)" text-anchor="middle" style="font-size:4.7px;fill:#000">-10000</text>
<text transform="translate(469.8 451.7) rotate(-65)" text-anchor="middle" style="font-size:4.7px;fill:#000">-10000</text>
<text transform="translate(327.5 279) rotate(50)" text-anchor="middle" style="font-size:4.7px;fill:#000">-5000</text>
<text class="wl" x="287.5" y="66">H. H. Tolusso #1</text>
<text class="wl" x="323.7" y="91">Boy Scouts of America #1</text>
<text class="wl" x="355.5" y="86">W. E. Day #1</text>
<text class="wl" x="389.2" y="85.3">Phillips #1</text>
<text class="wl" x="252.5" y="102.8">Rosedown Plantation #1</text>
<text class="wl" x="279.5" y="106.8">McGill #1</text>
<text class="wl" x="319.5" y="104">Bob R. Jones &quot;A-A&quot; #1</text>
<text class="wl" x="358.2" y="108.5">Newberry Lumber Co #1</text>
<text class="wl" x="390" y="121.8">A. Claudet Plantation #1</text>
<text class="wl" x="281.2" y="131.8">W. N. McVea et al #1</text>
<text class="wl" x="228.2" y="141.6">Leblanc - Cajeune #1</text>
<text class="wl" x="512" y="79.3">Crown Zellerbach Corporation #1</text>
<text class="wl" x="494.5" y="84.3">Crown Zellerbach Corporation #3</text>
<text class="wl" x="506.2" y="91.8">Crown Zellerbach Corporation #2</text>
<text class="wl" x="484" y="102.3">Mrs Fannie T. Brooks #1</text>
<text class="wl" x="503.2" y="118.5">Gaylord Container Corp. Fee #1</text>
<text class="wl" x="431.7" y="91.5">Andrew Grace et al #1</text>
<text class="wl" x="437" y="114.3">Murphy Rohner #1</text>
<text class="wl" x="510" y="144">Bogalusa Tung Oil Co. Inc. #1</text>
<text class="wl" x="268.2" y="148.6">Trans Match #1</text>
<text class="wl" x="301.2" y="148.8">D. A. Tranchina #1</text>
<text class="wl" x="217.7" y="170">E. G. Hynes #1</text>
<text class="wl" x="263.3" y="170.8">Martin J. Kahao #1</text>
<text class="wl" x="305" y="187">Hampster #2</text>
<text class="wl" x="212.3" y="200.8">Jeanerette Lumber &amp; Shingle Co. #2</text>
<text class="wl" x="260" y="205.1">J. A. Wilbert et al #1</text>
<text class="wl" x="300" y="200.5">Guidfellon # 6</text>
<text class="wl" x="331.5" y="160.8">Barnett Hans #1</text>
<text class="wl" x="368" y="160.8">Crown Zellerbach #1</text>
<text class="wl" x="381.7" y="180">Hammond Oil &amp; Gas Co. #1</text>
<text class="wl" x="332.2" y="190.8">Livingston Lumber Co. #1</text>
<text class="wl" x="393.1" y="205">James Mudrow et al #1</text>
<text class="wl" x="450" y="159.6">Tally #1</text>
<text class="wl" x="423.5" y="185.1">William T. Joyce #1</text>
<text class="wl" x="466.4" y="189.3">SL 7177 #1</text>
<text class="wl" x="473.6" y="200.6">SL 7180 #1</text>
<text class="wl" x="516.1" y="186.8">Curtis #1</text>
<text class="wl" x="557.4" y="186.8">Poitevent &amp; Favre Lumber Co #1</text>
<text class="wl" x="578.7" y="237.3">SL 5951 #2</text>
<text class="wl" x="586.4" y="303.8">Biloxi Marshland #1</text>
<text class="wl" x="334.2" y="208.1">Earl Miller #1</text>
<text class="wl" x="232" y="230">Schwing Lumber &amp; Shingle Co. Inc. #3</text>
<text class="wl" x="253.3" y="237.8">Wilbert &quot;A&quot; #1</text>
<text class="wl" x="222" y="244.3">Schwing &quot;B&quot; #8-5</text>
<text class="wl" x="304" y="231.8">J. B. Robertson #1</text>
<text class="wl" x="289" y="240.6">Luke B. Babin Co. Inc. #1</text>
<text class="wl" x="302.5" y="258.4">Savoie Farms Inc #1</text>
<text class="wl" x="259.5" y="265.4">Cooke &quot;A&quot; #1</text>
<text class="wl" x="214.7" y="276.8">SL 6029 #1</text>
<text class="wl" x="261.5" y="280.4">SL 9326 #1</text>
<text class="wl" x="396.7" y="221.4">Granville Leverett Inc #1</text>
<text class="wl" x="419.8" y="233.8">St. John Land Co #1</text>
<text class="wl" x="392.5" y="238.2">Luther Moore #B-3</text>
<text class="wl" x="353" y="239">E. de Pilzthiu et al #A-1</text>
<text class="wl" x="449.8" y="249.5">SL 2012 #2</text>
<text class="wl" x="458.4" y="235">SL 5070 #2</text>
<text class="wl" x="351.1" y="252.1">Clarence G. Boyce #1</text>
<text class="wl" x="418.3" y="253.7">Montegut et al #2</text>
<text class="wl" x="396.4" y="261.5">Camille Roussel #1</text>
<text class="wl" x="350.2" y="268.7">P. Braupnard #1</text>
<text class="wl" x="417.8" y="275.3">Occidental Pet #1</text>
<text class="wl" x="514" y="222.6">SL 6710 #1</text>
<text class="wl" x="519.7" y="252.6">Humble Faubourg De Montluzin #H-1</text>
<text class="wl" x="528" y="265.1">Joseph M. Meraux #1</text>
<text class="wl" x="560" y="264.6">SL 5407 #1</text>
<text class="wl" x="563" y="280">SL 5406 #1</text>
<text class="wl" x="244.7" y="294.8">SL 9706 #2</text>
<text class="wl" x="228.3" y="311.2">F. P. Boyer #1</text>
<text class="wl" x="266" y="319.8">SL 2047 #2</text>
<text class="wl" x="287.3" y="286.8">SL 9245 #1</text>
<text class="wl" x="295.5" y="303.8">Cooke &amp; Goodrich et al #1</text>
<text class="wl" x="296.4" y="323.8">SL 2879 #1</text>
<text class="wl" x="234.5" y="336.8">Burguieres Co. Ltd #1</text>
<text class="wl" x="269" y="337.8">Florence K. Cotten et al #1A</text>
<text class="wl" x="305.6" y="342.6">C. M. Thibodaux Co. Ltd. #1 A</text>
<text class="wl" x="329" y="313">Legindar Land Corp #2</text>
<text class="wl" x="314.4" y="350.8">R. Kurtz et al #1</text>
<text class="wl" x="251.4" y="359.4">Belle Isle Uny #9-2</text>
<text class="wl" x="302.5" y="365.6">C.L. &amp; F &quot;A&quot; #18</text>
<text class="wl" x="232.3" y="368">VUA; SL 5045 #1</text>
<text class="wl" x="389.2" y="288.6">City of New Orleans #1</text>
<text class="wl" x="384.2" y="306.2">Lafourche Basin Levee District #1</text>
<text class="wl" x="416.6" y="308.6">Armand Bourgh #1</text>
<text class="wl" x="376.4" y="324.5">Lovell J. Parfuit #1</text>
<text class="wl" x="421.4" y="338.3">Ghisons Realty Co. #2</text>
<text class="wl" x="369" y="345.8">Louis E. Caillotta Heirs #1</text>
<text class="wl" x="423.6" y="359.4">Angelo S. Tamplet et al #1</text>
<text class="wl" x="344" y="339">E. W. Brown Jr et al B #1</text>
<text class="wl" x="345.5" y="353.4">&quot;Y&quot; Sand Unit #1</text>
<text class="wl" x="380.8" y="366.8">South Coast Corporation #F-1</text>
<text class="wl" x="349" y="281.8">Morgan Lumber Co. Ltd #1</text>
<text class="wl" x="453.7" y="287.5">E. P. Brady #1</text>
<text class="wl" x="549.5" y="306.6">Albert Ruiz #3-1</text>
<text class="wl" x="544.8" y="329.2">SL 335 Delacroix #35</text>
<text class="wl" x="496" y="323.4">E. P. Brady et al #2</text>
<text class="wl" x="490.5" y="347.2">Madison Realty Co. et al #N/R</text>
<text class="wl" x="480.3" y="362.2">SE Unit 2 #1-1</text>
<text class="wl" x="575.2" y="351.1">SL 7041 #1</text>
<text class="wl" x="541" y="364.4">Bradish Johnson #6</text>
<text class="wl" x="260.8" y="384.1">SL 5097 #2</text>
<text class="wl" x="238.1" y="393.8">SL 5097 #1</text>
<text class="wl" x="279.2" y="390.3">SL 4663 #1 A</text>
<text class="wl" x="297.5" y="386.1">A. Terre Co. Inc &quot;B&quot; #12</text>
<text class="wl" x="254.2" y="405.5">SL 4694 #1</text>
<text class="wl" x="272.5" y="416.9">Mary A. Smith Notice et al #1</text>
<text class="wl" x="295.6" y="417.4">SL 4143 #1</text>
<text class="wl" x="304" y="445.3">SL 3770 #1</text>
<text class="wl" x="339.7" y="373.1">Continental Land &amp; Fur Co. #1</text>
<text class="wl" x="336.6" y="391.1">Terrebonne Parish Sch Board #1</text>
<text class="wl" x="350.2" y="407.5">St. Martin #1</text>
<text class="wl" x="353" y="422.4">SL 3407 #1</text>
<text class="wl" x="383.9" y="401">Lateria Co. Inc &quot;C&quot; # 8</text>
<text class="wl" x="415.8" y="397.4">Lateria Company Inc #D-12</text>
<text class="wl" x="404.2" y="425">SL 4574 #1</text>
<text class="wl" x="378.7" y="431">L.L.&amp;E Unit 8 #1</text>
<text class="wl" x="339.7" y="443">LL&amp;E &quot;K&quot; #1</text>
<text class="wl" x="393.1" y="450.8">SL 2620 #27</text>
<text class="wl" x="493.1" y="382.5">Bay De Chene #D-1</text>
<text class="wl" x="541" y="382">E. Cockrell Jr. et al #1</text>
<text class="wl" x="560" y="384.1">C.L.F et al #1</text>
<text class="wl" x="536.9" y="403.6">SL 1881</text>
<text class="wl" x="485.8" y="416.6">LL&amp;E #1</text>
<text class="wl" x="577.5" y="409.5">Burrus Levee District #13</text>
<text class="wl" x="574.8" y="421.1">SL 5690 #1</text>
<text class="wl" x="492" y="444.8">SL 1973 #1</text>
<text class="wl" x="362.5" y="461.8">SL 6333 #2</text>
<text class="wl" x="389.5" y="464.3">SL 4238 #3</text>
<text class="wl" x="418.7" y="470.5">SL 4788 #4</text>
<text class="tk" x="28.5" y="17.2">-92.6</text>
<text class="tk" x="31" y="513.8">-92.6</text>
<text class="tk" x="64.5" y="17.2">-92.4</text>
<text class="tk" x="67.78" y="513.8">-92.4</text>
<text class="tk" x="100.5" y="17.2">-92.2</text>
<text class="tk" x="104.56" y="513.8">-92.2</text>
<text class="tk" x="136.5" y="17.2">-92</text>
<text class="tk" x="141.34" y="513.8">-92</text>
<text class="tk" x="172.5" y="17.2">-91.8</text>
<text class="tk" x="178.12" y="513.8">-91.8</text>
<text class="tk" x="208.5" y="17.2">-91.6</text>
<text class="tk" x="214.9" y="513.8">-91.6</text>
<text class="tk" x="244.5" y="17.2">-91.4</text>
<text class="tk" x="251.68" y="513.8">-91.4</text>
<text class="tk" x="280.5" y="17.2">-91.2</text>
<text class="tk" x="288.46" y="513.8">-91.2</text>
<text class="tk" x="316.5" y="17.2">-91</text>
<text class="tk" x="325.24" y="513.8">-91</text>
<text class="tk" x="352.5" y="17.2">-90.8</text>
<text class="tk" x="362.02" y="513.8">-90.8</text>
<text class="tk" x="388.5" y="17.2">-90.6</text>
<text class="tk" x="398.8" y="513.8">-90.6</text>
<text class="tk" x="424.5" y="17.2">-90.4</text>
<text class="tk" x="435.58" y="513.8">-90.4</text>
<text class="tk" x="460.5" y="17.2">-90.2</text>
<text class="tk" x="472.36" y="513.8">-90.2</text>
<text class="tk" x="496.5" y="17.2">-90</text>
<text class="tk" x="509.14" y="513.8">-90</text>
<text class="tk" x="532.5" y="17.2">-89.8</text>
<text class="tk" x="545.92" y="513.8">-89.8</text>
<text class="tk" x="568.5" y="17.2">-89.6</text>
<text class="tk" x="582.7" y="513.8">-89.6</text>
<text class="tk" x="604.5" y="17.2">-89.4</text>
<text class="tk" x="619.48" y="513.8">-89.4</text>
<text class="tk" x="640.5" y="17.2">-89.2</text>
<text class="tk" x="656.26" y="513.8">-89.2</text>
<text class="tk" x="676.5" y="17.2">-89</text>
<text class="tk" x="693.04" y="513.8">-89</text>
<text class="tk" x="712.5" y="17.2">-88.8</text>
<text class="tk" x="729.82" y="513.8">-88.8</text>
<text class="tk" x="748.5" y="17.2">-88.6</text>
<text class="tk" x="766.6" y="513.8">-88.6</text>
<text class="tk" transform="translate(14.2 57) rotate(-90)">31</text>
<text class="tk" transform="translate(14.2 98.74) rotate(-90)">30.8</text>
<text class="tk" transform="translate(14.2 140.48) rotate(-90)">30.6</text>
<text class="tk" transform="translate(14.2 182.22) rotate(-90)">30.4</text>
<text class="tk" transform="translate(14.2 223.96) rotate(-90)">30.2</text>
<text class="tk" transform="translate(14.2 265.7) rotate(-90)">30</text>
<text class="tk" transform="translate(14.2 307.44) rotate(-90)">29.8</text>
<text class="tk" transform="translate(14.2 349.18) rotate(-90)">29.6</text>
<text class="tk" transform="translate(14.2 390.92) rotate(-90)">29.4</text>
<text class="tk" transform="translate(14.2 432.66) rotate(-90)">29.2</text>
<text class="tk" transform="translate(14.2 474.4) rotate(-90)">29</text>
<text class="tk" transform="translate(784.6 40) rotate(90)">31</text>
<text class="tk" transform="translate(784.6 81.87) rotate(90)">30.8</text>
<text class="tk" transform="translate(784.6 123.74) rotate(90)">30.6</text>
<text class="tk" transform="translate(784.6 165.61) rotate(90)">30.4</text>
<text class="tk" transform="translate(784.6 207.48) rotate(90)">30.2</text>
<text class="tk" transform="translate(784.6 249.35) rotate(90)">30</text>
<text class="tk" transform="translate(784.6 291.22) rotate(90)">29.8</text>
<text class="tk" transform="translate(784.6 333.09) rotate(90)">29.6</text>
<text class="tk" transform="translate(784.6 374.96) rotate(90)">29.4</text>
<text class="tk" transform="translate(784.6 416.83) rotate(90)">29.2</text>
<text class="tk" transform="translate(784.6 458.7) rotate(90)">29</text>
<text class="tk" transform="translate(784.6 500.57) rotate(90)">28.8</text>
<text x="392" y="32.2" text-anchor="middle" style="font-size:9.65px;font-weight:bold;fill:#000">Structure map of Upper Miocene</text>
<text x="392" y="42.9" text-anchor="middle" style="font-size:9.65px;font-weight:bold;fill:#000">Southeast Louisiana</text>
<text x="703.3" y="48.4" style="font-size:6.35px;font-weight:bold;fill:#000">Upper Miocene [ft]</text>
<text class="lg" x="716.4" y="62.4">-1000.00</text>
<text class="lg" x="716.4" y="74.12">-2000.00</text>
<text class="lg" x="716.4" y="85.84">-3000.00</text>
<text class="lg" x="716.4" y="97.56">-4000.00</text>
<text class="lg" x="716.4" y="109.28">-5000.00</text>
<text class="lg" x="716.4" y="121">-6000.00</text>
<text class="lg" x="716.4" y="132.72">-7000.00</text>
<text class="lg" x="716.4" y="144.44">-8000.00</text>
<text class="lg" x="716.4" y="156.16">-9000.00</text>
<text class="lg" x="716.4" y="167.88">-10000.00</text>
<text class="lg" x="716.4" y="179.6">-11000.00</text>
<text class="lg" x="716.4" y="191.32">-12000.00</text>
<text class="lg" x="716.4" y="203.04">-13000.00</text>
<text x="627" y="386.6" style="font-size:8.4px;font-weight:bold;fill:#000" textLength="16" lengthAdjust="spacingAndGlyphs">Map</text>
<text class="th" x="626.8" y="395.7">Surface name</text>
<text class="tv" x="695.5" y="402.7">Upper Miocene</text>
<text class="th" x="626.8" y="410.6">Area</text>
<text class="tv" x="660.5" y="417.2">SE Louisiana</text>
<text class="th" x="698" y="410.6">Unit</text>
<text class="tv" x="731" y="417.2">feet</text>
<text class="th" x="626.8" y="425.9">Country</text>
<text class="tv" x="660.5" y="432.5">United States</text>
<text class="th" x="698" y="425.9">Projection</text>
<text class="tv" x="731" y="432.5">UTM83-15</text>
<text class="th" x="626.8" y="440.8">Contour inc</text>
<text class="tv" x="660.5" y="447.4">1000</text>
<text class="th" x="698" y="440.8">Geographic datum</text>
<text class="tv" x="731" y="447.4">GCS_North_American_1983</text>
<text class="sm" x="22.6" y="454.2">Produced and published by the Louisiana Geological Survey</text>
<text class="sm" x="22.6" y="458.2">3079 Energy, Coast &amp; Environment Building, Louisiana State University</text>
<text class="sm" x="22.6" y="462.2">Baton Rouge, LA 70803, Phone: 225-578-5320, Website: www.lsu.edu/lgs/</text>
<text class="sm" x="22.6" y="470.2">This structure map was funded in part by the USGS National Cooperative</text>
<text class="sm" x="22.6" y="474.2">Geologic Mapping Program under STATEMAP award number G24AC00333, 2024.</text>
<text class="sm" x="22.6" y="482.2">Copyright © 2025 by the Louisiana Geological Survey</text>
<text class="sm" x="22.6" y="486.2">Geology: Akinbobola Akintomide</text>
<text class="sm" x="22.6" y="494.2">Well tops used in generating structure map are based on Bebout and Gutierrez (1983):</text>
<text class="sm" x="22.6" y="498.2">Regional Cross Sections, Louisiana Gulf Coast (Eastern Part), Baton Rouge, Louisiana</text>
<text class="sm" x="22.6" y="502.2">Louisiana Geological Survey, v. Folio Series No. 6, 10 p.:</text>
<text class="sm" x="601.6" y="468.2">This research is supported by the U.S. Geological Survey, National Cooperative Geologic Mapping Program.</text>
<text class="sm" x="601.6" y="472.2">The views and conclusions contained in this document are those of the authors and should not be interpreted</text>
<text class="sm" x="601.6" y="476.2">as necessarily representing the official policies, either expressed or implied, of the U.S. Government or the</text>
<text class="sm" x="601.6" y="480.2">state of Louisiana.</text>
<text class="sm" x="601.6" y="488.2">This map has been carefully prepared from the best existing sources available at the time of preparation.</text>
<text class="sm" x="601.6" y="492.2">However, the Louisiana Geological Survey and Louisiana State University do not assume responsibility</text>
<text class="sm" x="601.6" y="496.2">or liability for any reliance thereon. This information is provided with the understanding that it is not</text>
<text class="sm" x="601.6" y="500.2">guaranteed to be correct or complete, and conclusions drawn from such data are the sole responsibility</text>
<text class="sm" x="601.6" y="504.2">of the user.</text>
<text x="51.7" y="536.7" style="font-size:12.5px;font-weight:bold;fill:#00704A" textLength="25.1" lengthAdjust="spacingAndGlyphs">USGS</text>
<text x="41.6" y="540.1" style="font-size:2.9px;font-weight:bold;font-style:italic;fill:#00704A" textLength="35.2" lengthAdjust="spacingAndGlyphs">science for a changing world</text>
<text x="149.9" y="533.3" style="font-size:6.83px;font-weight:bold;fill:#461D7C">Louisiana Geological</text>
<text x="149.9" y="539.7" style="font-size:6.83px;font-weight:bold;fill:#461D7C">Survey</text>
<text class="sb" x="243.6" y="529.8">0</text>
<text class="sb" x="253.09" y="529.8">5</text>
<text class="sb" x="262.58" y="529.8">10</text>
<text class="sb" x="281.56" y="529.8">20</text>
<text class="sb" x="300.54" y="529.8">30</text>
<text class="sb" x="319.52" y="529.8">40</text>
<text class="sb" x="336.5" y="529.8" text-anchor="start" style="text-anchor:start">50km</text>
<text class="sb" x="292" y="547.2" style="font-size:3.3px">1:300000</text>
<text class="sb" x="388.8" y="529.8">0</text>
<text class="sb" x="404.07" y="529.8">5</text>
<text class="sb" x="419.34" y="529.8">10</text>
<text class="sb" x="449.88" y="529.8">20</text>
<text class="sb" x="480.42" y="529.8">30</text>
<text class="sb" x="510.96" y="529.8">40</text>
<text class="sb" x="539.5" y="529.8" text-anchor="start" style="text-anchor:start">50miles</text>
<text class="sb" x="464.3" y="547.2" style="font-size:3.3px">1:300000</text>
</g>
</svg></body></html>
